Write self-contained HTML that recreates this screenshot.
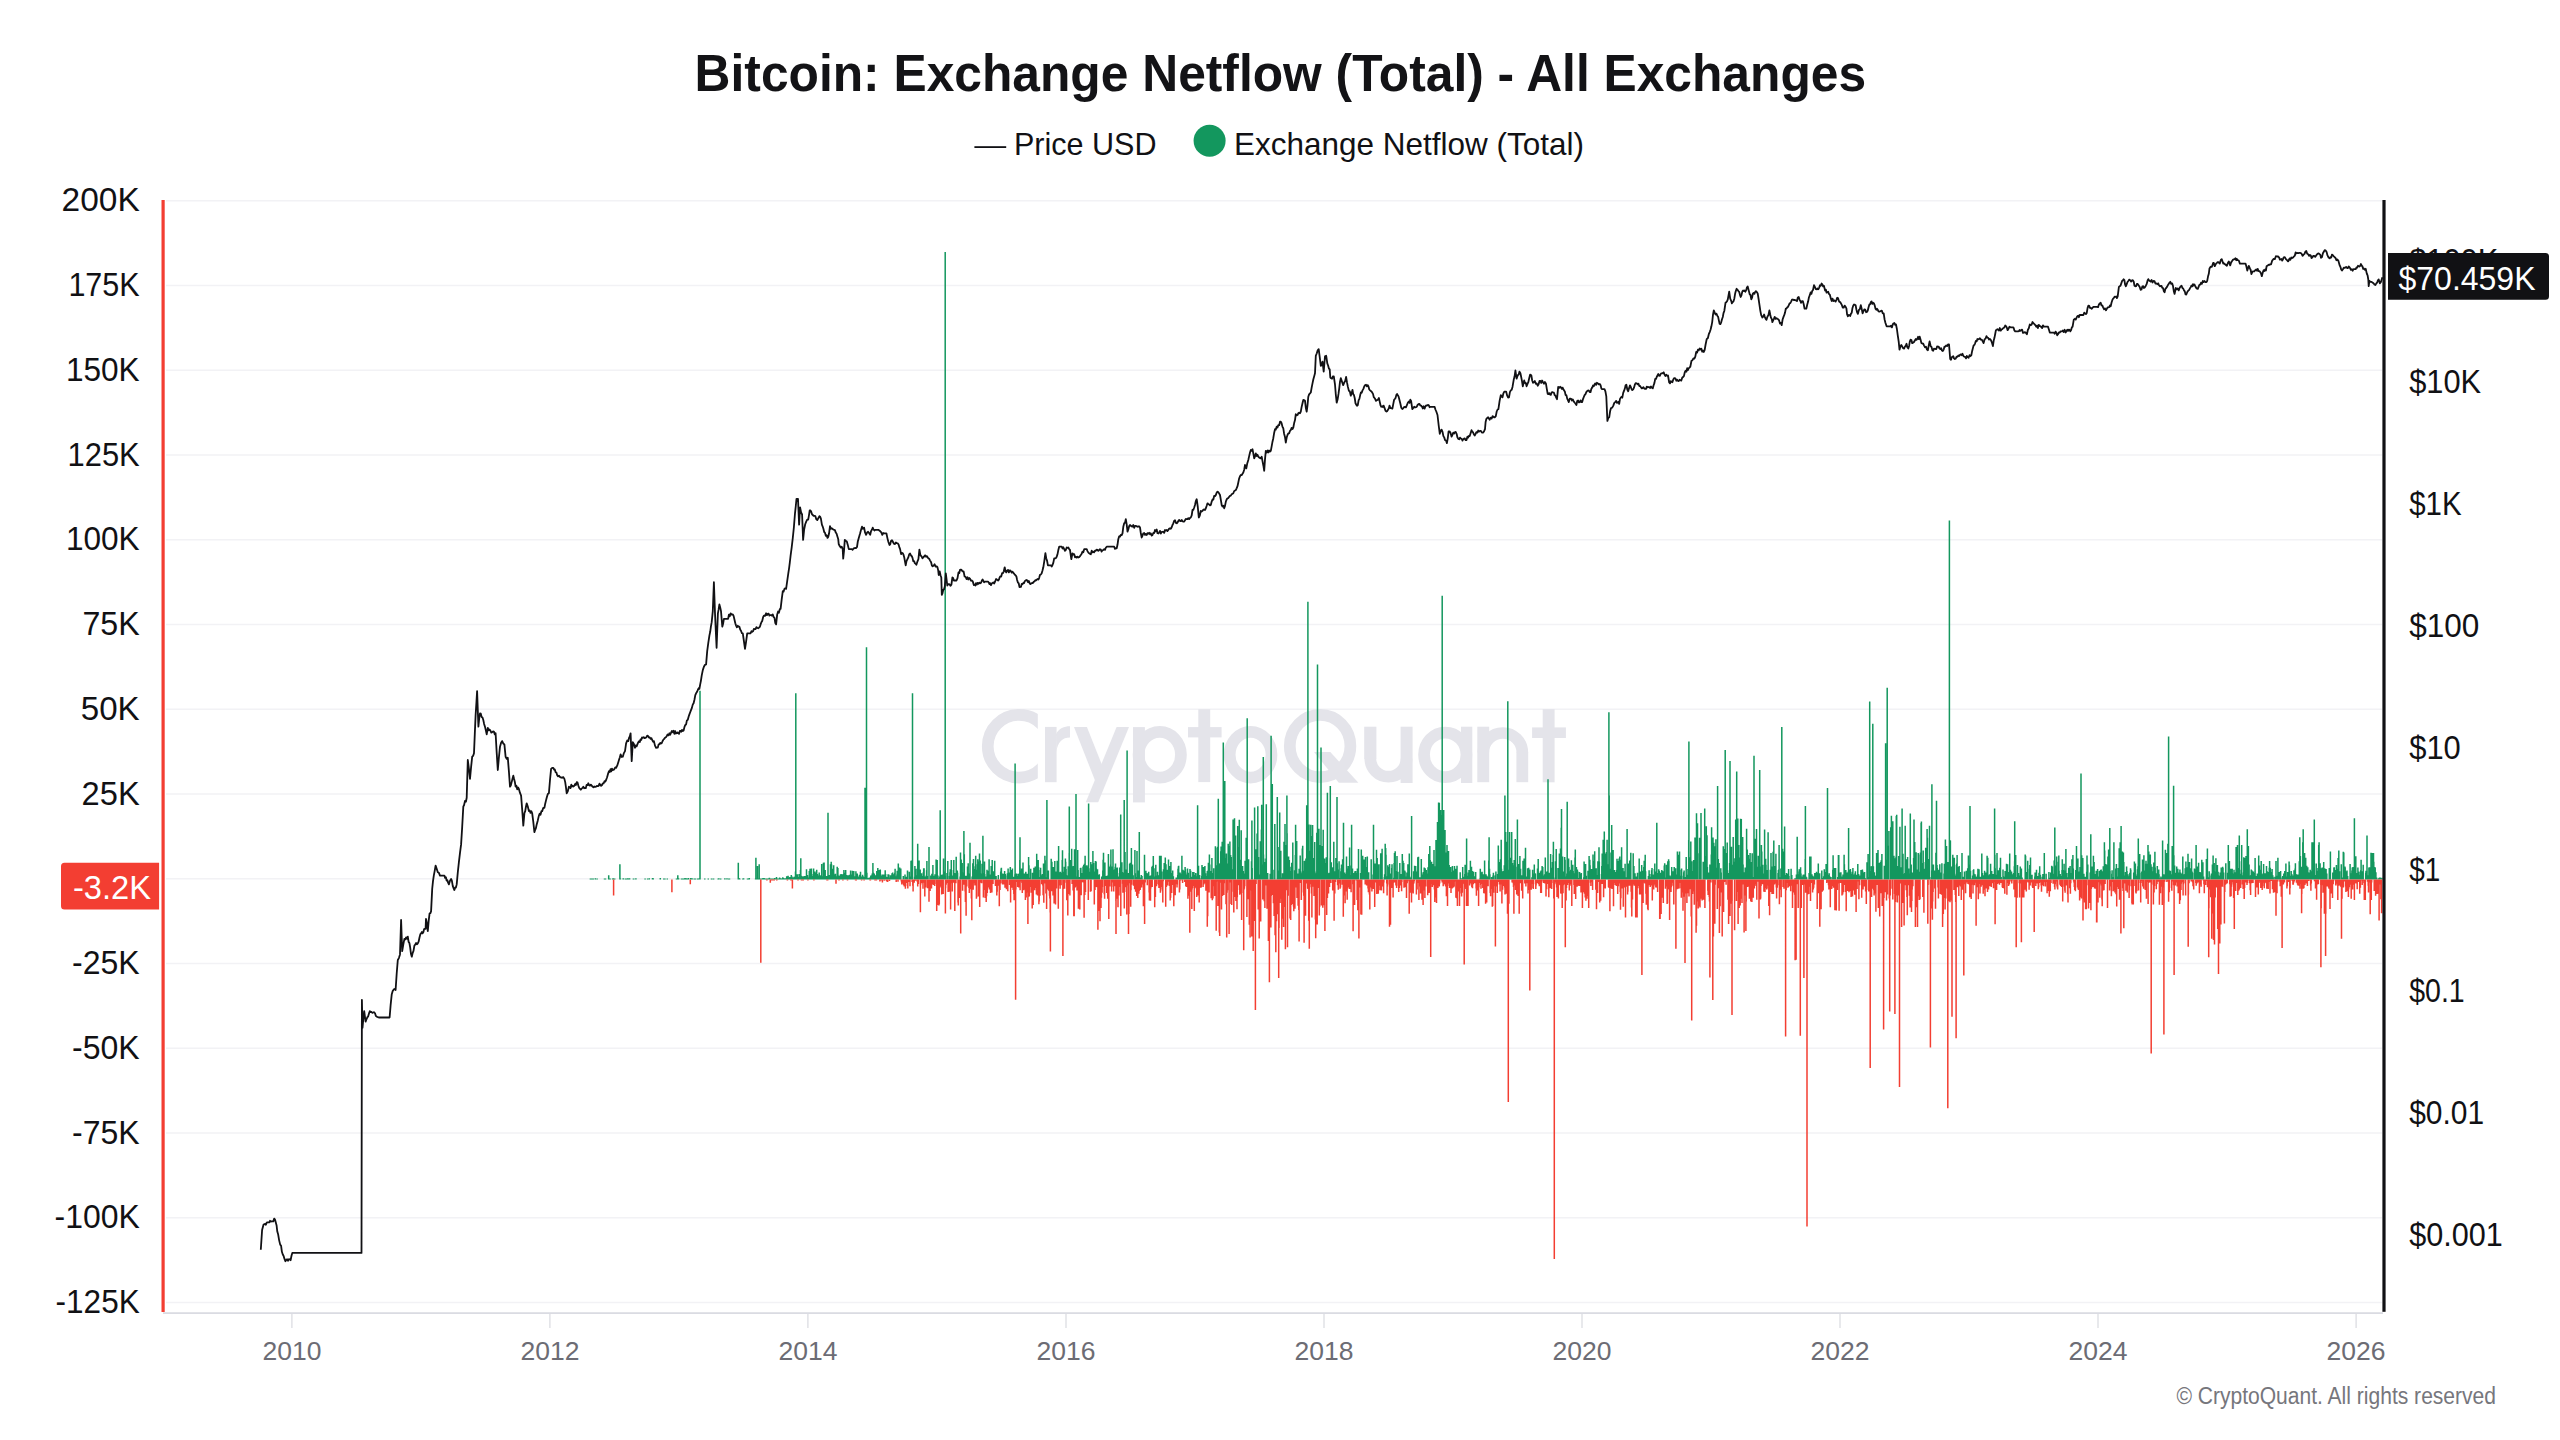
<!DOCTYPE html><html><head><meta charset="utf-8"><title>Bitcoin: Exchange Netflow (Total) - All Exchanges</title>
<style>html,body{margin:0;padding:0;background:#fff}body{width:2560px;height:1440px;overflow:hidden;position:relative;font-family:"Liberation Sans",sans-serif}svg{position:absolute;left:0;top:0;display:block}</style></head><body>
<svg width="2560" height="1440" viewBox="0 0 2560 1440" font-family="Liberation Sans, sans-serif">
<rect width="2560" height="1440" fill="#ffffff"/>
<g stroke="#f2f2f5" stroke-width="1.5">
<line x1="166" y1="200.7" x2="2382" y2="200.7"/>
<line x1="166" y1="285.5" x2="2382" y2="285.5"/>
<line x1="166" y1="370.2" x2="2382" y2="370.2"/>
<line x1="166" y1="455.0" x2="2382" y2="455.0"/>
<line x1="166" y1="539.7" x2="2382" y2="539.7"/>
<line x1="166" y1="624.5" x2="2382" y2="624.5"/>
<line x1="166" y1="709.3" x2="2382" y2="709.3"/>
<line x1="166" y1="794.0" x2="2382" y2="794.0"/>
<line x1="166" y1="878.8" x2="2382" y2="878.8"/>
<line x1="166" y1="963.5" x2="2382" y2="963.5"/>
<line x1="166" y1="1048.3" x2="2382" y2="1048.3"/>
<line x1="166" y1="1133.1" x2="2382" y2="1133.1"/>
<line x1="166" y1="1217.8" x2="2382" y2="1217.8"/>
<line x1="166" y1="1302.6" x2="2382" y2="1302.6"/>
</g>
<defs><clipPath id="cclip"><rect x="960" y="690" width="77.8" height="120"/></clipPath><clipPath id="qclip"><rect x="1300" y="700" width="80" height="83.3"/></clipPath></defs>
<g fill="none" stroke="#e4e4ea" stroke-width="11.7">
<circle cx="1019.1" cy="746.2" r="31.35" clip-path="url(#cclip)"/>
<ellipse cx="1159.75" cy="754.8" rx="21.2" ry="22.9"/>
<ellipse cx="1250.6" cy="754.7" rx="20.9" ry="22.9"/>
<ellipse cx="1320.1" cy="746" rx="30.3" ry="31.1"/>
<ellipse cx="1445.25" cy="754.85" rx="21.2" ry="22.3"/>
<path d="M1370.3 758.5A18.15 18.15 0 0 0 1406.6 758.5"/>
<path d="M1483.25 752.5A19.5 19.5 0 0 1 1522.3 752.5"/>
</g>
<g fill="#e4e4ea">
<rect x="1045" y="726.9" width="11.6" height="55.3"/>
<path d="M1056 734C1059 728.5 1064 726.3 1070 726.3L1070 737.6C1062.5 737.6 1057.6 742 1056.4 752Z"/>
<path d="M1074 726.9H1086.9L1103.8 769.5L1095.8 782.5Z"/>
<path d="M1116.6 726.9H1129L1098.2 802.2H1085.8Z"/>
<rect x="1133" y="727.1" width="11.9" height="75.3"/>
<rect x="1198.3" y="709.2" width="11.9" height="72.9"/>
<rect x="1188" y="727.1" width="33.6" height="10.3"/>
<path d="M1314.1 752H1330.3L1358.4 782.8H1338.8Z"/>
<rect x="1364.2" y="726.7" width="12.2" height="32.3"/>
<rect x="1400.6" y="726.7" width="12" height="56.3"/>
<rect x="1461" y="726.7" width="11.3" height="56.3"/>
<rect x="1477.3" y="726.7" width="11.9" height="55.5"/>
<rect x="1516.4" y="752" width="11.8" height="30.2"/>
<rect x="1542.7" y="709.1" width="11.9" height="73.2"/>
<rect x="1532.1" y="727.4" width="33.8" height="10.6"/>
</g>
<path d="M590.4 879.5v-1.0M590.7 879.5v-1.0M591.4 879.5v-1.0M591.8 879.5v-1.0M593.2 879.5v-1.0M595.3 879.5v-1.3M597.1 879.5v-1.0M604.5 879.5v-1.0M605.2 879.5v-1.0M605.5 879.5v-1.0M608.7 879.5v-4.2M610.1 879.5v-1.1M612.6 879.5v-1.0M613.3 879.5v-1.2M613.7 879.5v-1.0M614.7 879.5v-1.0M619.9 879.5v-15.2M620.4 879.5v-1.0M623.2 879.5v-1.3M625.3 879.5v-1.0M626.4 879.5v-1.0M627.8 879.5v-1.3M628.5 879.5v-1.0M629.6 879.5v-1.3M633.4 879.5v-1.0M633.8 879.5v-1.0M635.9 879.5v-1.2M645.1 879.5v-1.0M647.6 879.5v-1.0M649.3 879.5v-1.2M652.5 879.5v-1.4M653.2 879.5v-1.2M660.3 879.5v-1.4M663.8 879.5v-1.0M664.9 879.5v-1.0M667.3 879.5v-1.0M676.5 879.5v-1.0M676.9 879.5v-1.0M677.8 879.5v-4.2M677.9 879.5v-1.1M678.6 879.5v-1.3M681.5 879.5v-1.0M682.5 879.5v-1.0M683.2 879.5v-1.0M683.9 879.5v-1.0M685.0 879.5v-1.5M686.1 879.5v-1.0M686.4 879.5v-1.2M687.1 879.5v-1.0M688.5 879.5v-1.4M690.7 879.5v-1.4M691.7 879.5v-1.3M692.1 879.5v-1.3M694.2 879.5v-1.0M695.2 879.5v-1.0M697.4 879.5v-1.0M697.7 879.5v-1.0M698.1 879.5v-1.1M698.8 879.5v-1.0M699.5 879.5v-1.2M700.0 879.5v-188.8M704.8 879.5v-1.1M708.3 879.5v-1.0M711.5 879.5v-1.0M713.3 879.5v-1.0M713.6 879.5v-1.0M718.2 879.5v-1.1M718.9 879.5v-1.3M720.7 879.5v-1.0M724.9 879.5v-1.3M727.0 879.5v-1.2M728.8 879.5v-1.1M729.5 879.5v-1.0M738.3 879.5v-16.8M738.7 879.5v-1.3M739.0 879.5v-1.5M739.7 879.5v-1.0M742.9 879.5v-1.0M743.6 879.5v-1.2M747.5 879.5v-1.0M748.6 879.5v-1.1M749.3 879.5v-1.4M755.6 879.5v-1.0M755.9 879.5v-21.8M757.0 879.5v-1.0M757.4 879.5v-1.0M757.5 879.5v-13.5M757.8 879.5v-1.0M758.1 879.5v-1.0M758.8 879.5v-1.0M759.2 879.5v-15.2M760.2 879.5v-1.0M761.3 879.5v-1.0M762.3 879.5v-1.1M762.7 879.5v-1.0M763.0 879.5v-1.6M764.1 879.5v-1.4M764.5 879.5v-1.0M764.8 879.5v-1.0M765.9 879.5v-1.0M766.6 879.5v-1.0M767.3 879.5v-1.0M768.0 879.5v-1.0M769.1 879.5v-1.3M769.4 879.5v-1.7M770.1 879.5v-1.0M770.5 879.5v-1.0M771.9 879.5v-1.0M772.2 879.5v-1.0M773.3 879.5v-1.0M774.7 879.5v-1.6M775.4 879.5v-1.0M776.1 879.5v-1.0M776.5 879.5v-2.6M777.2 879.5v-1.0M777.5 879.5v-1.0M777.9 879.5v-1.0M778.2 879.5v-1.0M778.9 879.5v-1.0M779.3 879.5v-1.0M779.6 879.5v-2.0M780.7 879.5v-1.2M781.1 879.5v-1.0M782.1 879.5v-1.0M782.8 879.5v-2.3M783.5 879.5v-1.4M783.9 879.5v-1.0M784.2 879.5v-1.0M784.6 879.5v-1.0M784.9 879.5v-1.0M785.3 879.5v-1.2M785.7 879.5v-1.0M786.0 879.5v-1.0M786.4 879.5v-1.1M786.7 879.5v-3.2M787.1 879.5v-1.0M787.8 879.5v-2.1M788.1 879.5v-3.8M788.8 879.5v-1.9M789.5 879.5v-1.6M789.9 879.5v-2.4M790.2 879.5v-1.6M791.3 879.5v-4.6M792.0 879.5v-3.1M792.4 879.5v-1.1M792.7 879.5v-2.0M793.1 879.5v-1.0M793.8 879.5v-1.0M794.1 879.5v-2.7M794.5 879.5v-2.6M794.8 879.5v-1.9M795.2 879.5v-3.0M795.5 879.5v-7.9M795.8 879.5v-186.2M795.9 879.5v-1.0M796.2 879.5v-1.0M796.6 879.5v-2.0M797.0 879.5v-2.9M797.3 879.5v-5.3M797.7 879.5v-2.5M799.1 879.5v-5.5M800.1 879.5v-2.1M800.5 879.5v-9.6M800.8 879.5v-21.3M800.8 879.5v-4.2M801.2 879.5v-3.7M802.2 879.5v-3.3M802.6 879.5v-2.5M803.0 879.5v-1.1M803.7 879.5v-1.0M804.0 879.5v-3.4M804.4 879.5v-1.0M804.7 879.5v-1.0M805.1 879.5v-2.2M805.4 879.5v-3.4M805.8 879.5v-2.8M806.5 879.5v-10.3M806.8 879.5v-2.4M807.2 879.5v-4.6M807.5 879.5v-4.2M808.6 879.5v-2.0M809.0 879.5v-1.0M809.3 879.5v-8.5M809.7 879.5v-2.1M810.0 879.5v-10.7M810.4 879.5v-5.6M810.7 879.5v-1.5M811.1 879.5v-1.2M811.4 879.5v-10.9M811.8 879.5v-3.5M812.1 879.5v-3.3M812.5 879.5v-2.0M812.8 879.5v-1.0M813.2 879.5v-5.6M813.6 879.5v-10.9M814.3 879.5v-6.5M814.6 879.5v-1.1M815.0 879.5v-7.9M815.3 879.5v-6.6M815.7 879.5v-4.6M816.0 879.5v-1.2M816.7 879.5v-9.7M817.1 879.5v-2.5M817.4 879.5v-5.5M817.8 879.5v-3.2M818.1 879.5v-1.3M818.5 879.5v-3.9M818.8 879.5v-1.3M819.2 879.5v-6.9M819.6 879.5v-4.2M820.6 879.5v-4.1M821.3 879.5v-4.3M821.7 879.5v-15.4M822.0 879.5v-3.2M822.4 879.5v-2.6M823.4 879.5v-16.7M823.8 879.5v-3.5M824.1 879.5v-17.1M824.5 879.5v-2.2M824.9 879.5v-5.4M825.2 879.5v-9.5M825.6 879.5v-1.9M826.3 879.5v-2.8M826.6 879.5v-3.5M828.0 879.5v-66.7M828.0 879.5v-1.4M828.4 879.5v-2.3M828.7 879.5v-2.3M829.1 879.5v-4.5M829.4 879.5v-1.3M829.8 879.5v-3.5M830.1 879.5v-3.8M830.5 879.5v-15.3M830.9 879.5v-6.2M831.2 879.5v-17.8M831.2 879.5v-5.2M831.6 879.5v-15.0M831.9 879.5v-2.3M832.3 879.5v-5.6M832.6 879.5v-10.8M833.0 879.5v-2.4M833.3 879.5v-4.4M833.7 879.5v-14.2M834.0 879.5v-5.0M834.4 879.5v-4.1M835.4 879.5v-5.8M836.2 879.5v-3.3M836.5 879.5v-2.6M836.9 879.5v-2.4M837.2 879.5v-12.8M837.6 879.5v-7.1M837.9 879.5v-11.4M838.3 879.5v-3.9M839.3 879.5v-3.7M840.0 879.5v-2.7M840.4 879.5v-5.1M840.7 879.5v-1.9M841.1 879.5v-5.6M841.4 879.5v-3.8M841.8 879.5v-2.2M842.2 879.5v-1.0M842.5 879.5v-5.0M843.2 879.5v-5.4M843.6 879.5v-3.5M843.9 879.5v-9.5M844.3 879.5v-1.9M844.6 879.5v-1.0M845.0 879.5v-2.7M845.3 879.5v-6.7M845.7 879.5v-9.6M846.4 879.5v-4.5M846.7 879.5v-4.3M848.2 879.5v-4.2M848.5 879.5v-2.1M849.2 879.5v-2.6M849.6 879.5v-4.7M849.9 879.5v-1.3M850.3 879.5v-2.7M850.6 879.5v-8.9M851.0 879.5v-3.8M851.3 879.5v-4.9M851.7 879.5v-1.0M852.0 879.5v-3.7M852.4 879.5v-8.7M852.8 879.5v-2.8M853.1 879.5v-2.1M853.5 879.5v-1.0M853.8 879.5v-8.6M854.2 879.5v-1.0M854.5 879.5v-2.3M854.9 879.5v-3.1M855.2 879.5v-3.2M855.9 879.5v-8.3M856.6 879.5v-4.0M857.3 879.5v-6.1M857.7 879.5v-1.5M858.0 879.5v-3.0M858.4 879.5v-1.3M858.8 879.5v-1.9M859.1 879.5v-2.6M859.5 879.5v-4.4M859.8 879.5v-2.7M860.2 879.5v-5.2M860.5 879.5v-7.8M861.2 879.5v-2.5M862.3 879.5v-3.6M862.6 879.5v-4.8M863.0 879.5v-3.5M863.3 879.5v-1.0M863.7 879.5v-2.2M864.4 879.5v-2.5M864.8 879.5v-1.4M865.0 879.5v-91.7M865.1 879.5v-3.7M865.5 879.5v-1.8M865.8 879.5v-2.0M866.2 879.5v-3.9M866.5 879.5v-232.3M866.5 879.5v-1.6M866.9 879.5v-6.7M867.2 879.5v-1.0M867.6 879.5v-1.6M867.9 879.5v-1.0M869.0 879.5v-1.2M869.3 879.5v-2.1M869.7 879.5v-1.6M870.8 879.5v-4.1M871.1 879.5v-1.9M871.5 879.5v-1.6M871.8 879.5v-4.2M872.2 879.5v-6.1M872.9 879.5v-4.1M872.9 879.5v-16.5M873.2 879.5v-6.9M873.6 879.5v-1.6M873.9 879.5v-5.8M874.3 879.5v-6.1M874.6 879.5v-1.6M875.4 879.5v-4.2M875.7 879.5v-2.1M876.1 879.5v-1.5M876.8 879.5v-8.5M877.1 879.5v-1.2M877.5 879.5v-3.7M877.8 879.5v-11.6M878.2 879.5v-4.5M878.5 879.5v-1.2M878.9 879.5v-9.4M879.2 879.5v-2.1M879.6 879.5v-6.5M880.3 879.5v-10.1M881.4 879.5v-3.7M881.7 879.5v-1.5M882.1 879.5v-5.1M882.8 879.5v-3.9M883.1 879.5v-2.2M883.5 879.5v-5.0M883.8 879.5v-5.0M884.5 879.5v-3.6M884.9 879.5v-1.6M885.2 879.5v-9.3M885.6 879.5v-5.6M885.9 879.5v-2.9M887.0 879.5v-2.6M888.1 879.5v-5.2M888.4 879.5v-1.4M888.8 879.5v-5.1M889.1 879.5v-2.0M889.8 879.5v-1.0M890.2 879.5v-1.9M890.5 879.5v-4.2M890.9 879.5v-4.3M891.2 879.5v-2.0M891.6 879.5v-2.8M892.0 879.5v-6.2M892.3 879.5v-5.5M892.7 879.5v-7.1M893.0 879.5v-5.6M893.4 879.5v-2.7M893.7 879.5v-2.9M894.1 879.5v-1.0M894.4 879.5v-5.0M894.8 879.5v-6.7M895.1 879.5v-10.8M895.5 879.5v-3.3M895.8 879.5v-2.2M896.5 879.5v-2.4M896.9 879.5v-4.9M897.2 879.5v-8.8M897.6 879.5v-5.7M898.3 879.5v-15.9M898.7 879.5v-4.0M899.0 879.5v-2.9M899.4 879.5v-3.6M899.7 879.5v-12.1M900.1 879.5v-2.5M900.4 879.5v-6.0M900.8 879.5v-11.0M903.3 879.5v-3.6M905.0 879.5v-5.1M906.1 879.5v-2.8M907.5 879.5v-9.0M909.3 879.5v-7.8M909.6 879.5v-2.0M910.3 879.5v-2.3M910.7 879.5v-2.9M911.0 879.5v-18.8M911.4 879.5v-4.8M911.7 879.5v-18.9M912.4 879.5v-11.0M912.5 879.5v-186.2M914.6 879.5v-2.7M914.9 879.5v-13.5M915.6 879.5v-4.7M916.0 879.5v-10.8M916.3 879.5v-3.0M916.7 879.5v-4.2M917.7 879.5v-35.8M918.1 879.5v-8.8M918.8 879.5v-1.0M919.1 879.5v-19.0M919.5 879.5v-2.2M919.9 879.5v-5.6M920.2 879.5v-9.9M920.9 879.5v-2.7M921.6 879.5v-6.2M922.3 879.5v-3.5M923.4 879.5v-7.6M923.7 879.5v-11.2M924.1 879.5v-11.3M925.1 879.5v-3.0M925.5 879.5v-2.2M926.2 879.5v-4.1M926.6 879.5v-9.2M926.9 879.5v-18.6M927.3 879.5v-3.6M929.0 879.5v-32.6M930.8 879.5v-3.9M931.2 879.5v-4.0M931.9 879.5v-5.7M932.9 879.5v-14.4M934.3 879.5v-3.8M935.0 879.5v-5.2M935.4 879.5v-2.0M935.7 879.5v-2.2M936.1 879.5v-19.9M936.8 879.5v-11.0M937.2 879.5v-19.4M937.9 879.5v-3.9M938.6 879.5v-1.3M939.6 879.5v-3.0M940.2 879.5v-69.3M941.4 879.5v-4.6M942.1 879.5v-4.9M942.5 879.5v-3.7M942.8 879.5v-1.0M943.5 879.5v-20.9M943.9 879.5v-8.0M944.2 879.5v-1.6M944.6 879.5v-3.9M944.9 879.5v-6.6M945.2 879.5v-627.5M945.3 879.5v-3.2M947.0 879.5v-6.4M947.4 879.5v-5.3M947.8 879.5v-18.6M949.5 879.5v-3.5M949.9 879.5v-7.3M950.2 879.5v-10.2M951.3 879.5v-19.4M952.7 879.5v-4.0M953.4 879.5v-9.6M953.8 879.5v-19.4M954.5 879.5v-6.5M955.2 879.5v-6.2M956.2 879.5v-22.7M956.6 879.5v-3.2M956.9 879.5v-7.7M957.3 879.5v-9.1M957.6 879.5v-6.7M960.1 879.5v-3.0M960.5 879.5v-26.9M960.8 879.5v-4.9M961.2 879.5v-20.0M961.5 879.5v-9.1M961.9 879.5v-3.5M962.2 879.5v-16.5M962.9 879.5v-3.5M963.3 879.5v-6.9M963.6 879.5v-4.6M963.9 879.5v-48.5M964.3 879.5v-25.2M965.8 879.5v-3.7M966.5 879.5v-3.7M967.2 879.5v-3.5M967.5 879.5v-13.0M967.9 879.5v-12.1M968.2 879.5v-16.2M968.6 879.5v-6.0M970.0 879.5v-36.8M972.1 879.5v-3.0M972.8 879.5v-16.2M973.5 879.5v-20.5M973.9 879.5v-13.3M974.6 879.5v-10.6M975.3 879.5v-7.9M975.7 879.5v-23.7M976.0 879.5v-9.7M977.1 879.5v-6.9M977.4 879.5v-15.2M977.8 879.5v-20.3M978.1 879.5v-18.0M979.2 879.5v-9.9M979.5 879.5v-25.9M979.9 879.5v-7.3M980.2 879.5v-19.1M980.9 879.5v-6.1M982.0 879.5v-15.7M982.4 879.5v-10.0M982.7 879.5v-4.5M982.9 879.5v-43.7M983.1 879.5v-6.5M984.5 879.5v-18.1M984.8 879.5v-5.4M985.9 879.5v-3.1M987.0 879.5v-9.8M987.7 879.5v-8.8M988.0 879.5v-7.3M989.1 879.5v-20.3M989.8 879.5v-5.0M990.8 879.5v-3.9M991.2 879.5v-13.5M991.5 879.5v-2.2M992.2 879.5v-19.6M992.6 879.5v-8.2M993.3 879.5v-4.6M993.7 879.5v-6.0M994.0 879.5v-8.2M994.4 879.5v-1.0M994.7 879.5v-18.8M995.1 879.5v-3.2M995.8 879.5v-2.8M996.1 879.5v-3.6M998.3 879.5v-4.6M1000.7 879.5v-8.0M1001.1 879.5v-10.9M1001.4 879.5v-11.7M1001.8 879.5v-3.8M1002.8 879.5v-5.9M1003.2 879.5v-2.1M1003.9 879.5v-5.5M1004.3 879.5v-4.9M1004.6 879.5v-8.6M1005.3 879.5v-5.6M1007.1 879.5v-4.1M1007.4 879.5v-6.2M1008.1 879.5v-11.1M1008.5 879.5v-3.4M1008.8 879.5v-3.8M1009.2 879.5v-7.1M1010.3 879.5v-12.5M1011.0 879.5v-3.5M1011.3 879.5v-5.9M1011.7 879.5v-9.5M1012.4 879.5v-11.0M1013.4 879.5v-2.8M1014.9 879.5v-5.2M1015.1 879.5v-116.0M1016.3 879.5v-5.9M1017.0 879.5v-3.5M1017.3 879.5v-1.3M1018.0 879.5v-5.8M1018.4 879.5v-5.6M1019.1 879.5v-5.0M1019.4 879.5v-6.1M1019.8 879.5v-19.5M1020.0 879.5v-42.2M1020.5 879.5v-9.0M1020.9 879.5v-2.1M1021.6 879.5v-11.0M1023.0 879.5v-17.1M1023.3 879.5v-2.9M1024.0 879.5v-3.3M1024.4 879.5v-5.9M1025.8 879.5v-7.8M1026.5 879.5v-1.0M1026.9 879.5v-2.9M1027.2 879.5v-5.7M1028.6 879.5v-22.5M1029.0 879.5v-14.2M1030.0 879.5v-1.8M1030.7 879.5v-10.8M1032.5 879.5v-6.7M1033.9 879.5v-11.8M1035.3 879.5v-13.1M1035.7 879.5v-7.9M1036.7 879.5v-25.8M1037.1 879.5v-5.6M1038.2 879.5v-19.5M1038.5 879.5v-12.6M1039.6 879.5v-2.6M1040.3 879.5v-9.4M1040.6 879.5v-11.7M1041.0 879.5v-3.3M1041.3 879.5v-4.3M1042.0 879.5v-3.9M1042.4 879.5v-5.4M1043.5 879.5v-16.0M1044.2 879.5v-1.0M1044.9 879.5v-23.7M1045.2 879.5v-19.3M1045.6 879.5v-2.3M1046.9 879.5v-79.5M1047.0 879.5v-6.1M1048.4 879.5v-9.1M1051.2 879.5v-20.7M1051.6 879.5v-5.6M1051.9 879.5v-17.8M1052.6 879.5v-3.2M1053.3 879.5v-12.5M1053.7 879.5v-10.8M1054.4 879.5v-9.8M1054.8 879.5v-18.5M1056.2 879.5v-7.9M1056.9 879.5v-8.0M1057.2 879.5v-18.8M1057.6 879.5v-2.4M1057.9 879.5v-4.6M1058.6 879.5v-33.5M1059.3 879.5v-7.2M1059.7 879.5v-1.3M1060.4 879.5v-7.8M1060.8 879.5v-2.7M1061.5 879.5v-6.8M1061.8 879.5v-3.6M1062.2 879.5v-19.4M1062.5 879.5v-29.2M1062.9 879.5v-4.9M1063.6 879.5v-7.7M1064.3 879.5v-12.7M1065.4 879.5v-20.9M1065.7 879.5v-17.7M1066.1 879.5v-10.5M1066.4 879.5v-4.5M1067.1 879.5v-4.0M1068.2 879.5v-13.3M1069.2 879.5v-26.4M1069.3 879.5v-73.1M1070.3 879.5v-9.7M1070.7 879.5v-19.4M1071.0 879.5v-11.4M1071.4 879.5v-9.7M1071.7 879.5v-30.8M1072.4 879.5v-13.3M1073.5 879.5v-13.4M1074.5 879.5v-30.2M1074.9 879.5v-16.2M1075.6 879.5v-5.6M1075.9 879.5v-3.1M1076.0 879.5v-85.4M1076.7 879.5v-3.0M1077.7 879.5v-29.6M1078.1 879.5v-9.5M1079.1 879.5v-2.6M1080.5 879.5v-11.5M1080.9 879.5v-11.8M1081.6 879.5v-6.6M1082.0 879.5v-6.1M1082.7 879.5v-3.7M1083.0 879.5v-13.0M1083.7 879.5v-14.5M1084.4 879.5v-15.7M1085.1 879.5v-23.7M1085.8 879.5v-4.1M1086.2 879.5v-13.7M1086.5 879.5v-8.4M1086.9 879.5v-14.3M1087.2 879.5v-13.0M1087.6 879.5v-4.3M1088.0 879.5v-11.7M1088.6 879.5v-76.0M1088.7 879.5v-7.4M1089.0 879.5v-11.2M1089.4 879.5v-7.8M1089.7 879.5v-7.4M1090.1 879.5v-5.7M1090.8 879.5v-17.5M1091.5 879.5v-15.3M1091.8 879.5v-6.6M1092.2 879.5v-7.4M1092.5 879.5v-11.5M1092.9 879.5v-28.5M1093.3 879.5v-8.3M1093.6 879.5v-16.5M1094.0 879.5v-8.1M1095.4 879.5v-18.4M1096.1 879.5v-18.1M1096.4 879.5v-11.0M1096.8 879.5v-7.5M1097.5 879.5v-10.3M1097.8 879.5v-4.4M1098.6 879.5v-4.6M1099.3 879.5v-5.2M1101.7 879.5v-2.9M1102.8 879.5v-9.1M1103.1 879.5v-19.8M1103.5 879.5v-26.8M1103.8 879.5v-7.4M1104.9 879.5v-16.9M1106.0 879.5v-3.6M1106.3 879.5v-2.1M1107.4 879.5v-4.0M1108.4 879.5v-25.4M1109.1 879.5v-12.9M1109.5 879.5v-5.1M1110.2 879.5v-6.8M1110.6 879.5v-14.9M1110.9 879.5v-29.9M1111.3 879.5v-8.4M1112.0 879.5v-13.1M1113.0 879.5v-30.2M1114.1 879.5v-9.8M1114.8 879.5v-10.2M1115.1 879.5v-12.8M1115.5 879.5v-16.1M1116.2 879.5v-11.8M1116.6 879.5v-1.7M1117.3 879.5v-12.0M1118.3 879.5v-3.0M1119.4 879.5v-6.5M1119.7 879.5v-11.9M1120.1 879.5v-7.9M1120.7 879.5v-64.9M1121.2 879.5v-7.5M1121.5 879.5v-7.9M1121.9 879.5v-17.2M1122.2 879.5v-7.6M1123.3 879.5v-1.3M1123.6 879.5v-7.0M1124.0 879.5v-2.5M1124.2 879.5v-79.5M1125.0 879.5v-27.5M1125.4 879.5v-6.7M1125.7 879.5v-6.7M1126.5 879.5v-10.1M1127.1 879.5v-129.1M1127.9 879.5v-6.6M1128.2 879.5v-6.5M1129.6 879.5v-15.7M1130.3 879.5v-16.7M1131.4 879.5v-31.5M1132.1 879.5v-3.9M1132.5 879.5v-14.9M1132.8 879.5v-4.1M1133.2 879.5v-4.3M1134.9 879.5v-29.6M1135.3 879.5v-6.2M1136.3 879.5v-2.5M1137.0 879.5v-28.5M1137.4 879.5v-6.9M1138.1 879.5v-3.3M1138.5 879.5v-9.0M1139.3 879.5v-47.5M1139.9 879.5v-2.1M1141.3 879.5v-4.4M1142.0 879.5v-3.4M1144.5 879.5v-24.7M1144.8 879.5v-6.0M1145.5 879.5v-4.3M1145.9 879.5v-8.8M1146.2 879.5v-4.6M1146.6 879.5v-4.2M1146.9 879.5v-6.6M1147.6 879.5v-2.5M1148.0 879.5v-5.7M1148.3 879.5v-3.6M1148.7 879.5v-7.7M1149.8 879.5v-3.7M1151.2 879.5v-4.3M1151.5 879.5v-1.2M1151.9 879.5v-12.8M1152.6 879.5v-13.8M1152.9 879.5v-5.1M1153.3 879.5v-23.5M1153.6 879.5v-1.9M1154.0 879.5v-11.2M1154.3 879.5v-3.0M1155.8 879.5v-14.8M1156.1 879.5v-3.9M1156.8 879.5v-4.0M1157.2 879.5v-3.1M1157.5 879.5v-7.7M1157.9 879.5v-4.6M1159.3 879.5v-4.0M1159.6 879.5v-23.7M1161.1 879.5v-23.7M1161.8 879.5v-8.0M1163.5 879.5v-10.2M1163.9 879.5v-5.0M1164.2 879.5v-16.4M1164.6 879.5v-6.5M1164.9 879.5v-8.9M1165.3 879.5v-21.9M1166.0 879.5v-15.3M1167.1 879.5v-9.7M1168.1 879.5v-2.0M1168.5 879.5v-20.0M1168.8 879.5v-3.5M1169.9 879.5v-13.6M1170.9 879.5v-17.4M1171.3 879.5v-4.9M1172.0 879.5v-3.9M1172.4 879.5v-6.4M1172.7 879.5v-8.9M1173.4 879.5v-3.2M1176.2 879.5v-2.0M1177.7 879.5v-4.5M1178.0 879.5v-10.7M1178.4 879.5v-13.2M1178.7 879.5v-13.8M1179.1 879.5v-3.8M1180.1 879.5v-7.1M1180.5 879.5v-5.8M1181.2 879.5v-2.3M1181.5 879.5v-2.6M1181.9 879.5v-23.7M1182.2 879.5v-7.1M1183.0 879.5v-9.7M1183.3 879.5v-8.8M1183.7 879.5v-3.4M1184.0 879.5v-6.1M1184.4 879.5v-8.7M1185.1 879.5v-12.6M1185.4 879.5v-10.3M1186.1 879.5v-5.1M1187.2 879.5v-7.0M1187.5 879.5v-11.0M1188.3 879.5v-6.8M1189.3 879.5v-1.6M1190.0 879.5v-10.5M1190.7 879.5v-8.8M1191.4 879.5v-2.7M1192.8 879.5v-7.4M1193.2 879.5v-3.9M1193.9 879.5v-7.6M1195.0 879.5v-4.5M1195.7 879.5v-6.5M1196.0 879.5v-3.3M1197.4 879.5v-6.0M1197.6 879.5v-74.3M1198.5 879.5v-13.8M1198.8 879.5v-4.0M1199.6 879.5v-4.4M1199.9 879.5v-1.6M1201.7 879.5v-3.6M1202.0 879.5v-14.4M1202.4 879.5v-9.3M1202.7 879.5v-3.1M1203.4 879.5v-12.4M1204.1 879.5v-6.3M1204.9 879.5v-13.5M1205.6 879.5v-6.3M1207.0 879.5v-3.4M1207.3 879.5v-8.6M1208.0 879.5v-9.0M1208.4 879.5v-16.7M1209.4 879.5v-25.1M1209.8 879.5v-15.0M1210.1 879.5v-2.1M1210.5 879.5v-1.0M1210.9 879.5v-8.4M1211.6 879.5v-1.8M1211.9 879.5v-21.4M1212.6 879.5v-6.4M1213.7 879.5v-11.2M1215.4 879.5v-33.3M1216.5 879.5v-14.2M1217.2 879.5v-31.7M1217.6 879.5v-32.7M1218.3 879.5v-80.7M1218.6 879.5v-15.7M1219.0 879.5v-8.8M1220.0 879.5v-16.3M1220.7 879.5v-28.2M1221.1 879.5v-33.0M1222.2 879.5v-37.8M1223.2 879.5v-36.5M1223.3 879.5v-137.0M1223.6 879.5v-15.1M1224.6 879.5v-23.7M1224.8 879.5v-98.5M1225.0 879.5v-21.3M1225.3 879.5v-17.2M1225.7 879.5v-2.0M1226.4 879.5v-26.1M1227.8 879.5v-15.9M1228.2 879.5v-35.8M1228.5 879.5v-5.6M1228.9 879.5v-14.8M1229.2 879.5v-16.5M1229.6 879.5v-33.6M1229.9 879.5v-38.0M1230.6 879.5v-24.5M1231.3 879.5v-22.6M1232.4 879.5v-5.5M1232.8 879.5v-10.2M1233.1 879.5v-59.9M1233.5 879.5v-13.2M1234.5 879.5v-61.3M1234.9 879.5v-12.1M1235.6 879.5v-43.9M1237.7 879.5v-53.6M1238.0 879.5v-32.5M1238.8 879.5v-22.7M1239.1 879.5v-25.9M1239.3 879.5v-59.7M1240.2 879.5v-19.0M1240.5 879.5v-19.8M1241.2 879.5v-49.2M1242.3 879.5v-11.0M1242.6 879.5v-13.6M1243.0 879.5v-7.1M1243.3 879.5v-8.5M1243.7 879.5v-6.1M1245.1 879.5v-18.8M1245.5 879.5v-12.9M1245.8 879.5v-8.2M1246.2 879.5v-41.7M1246.5 879.5v-14.3M1247.2 879.5v-161.2M1247.6 879.5v-17.5M1248.6 879.5v-20.3M1251.5 879.5v-18.3M1251.9 879.5v-59.1M1252.2 879.5v-11.5M1254.6 879.5v-72.1M1255.0 879.5v-6.9M1255.4 879.5v-16.0M1255.7 879.5v-30.3M1256.4 879.5v-12.2M1256.8 879.5v-18.0M1257.1 879.5v-46.0M1257.5 879.5v-26.1M1257.8 879.5v-73.3M1258.5 879.5v-22.5M1258.9 879.5v-4.9M1260.3 879.5v-38.2M1261.0 879.5v-35.7M1261.4 879.5v-50.1M1261.7 879.5v-74.7M1262.1 879.5v-7.9M1262.4 879.5v-14.9M1263.1 879.5v-1.5M1263.3 879.5v-122.4M1263.5 879.5v-25.1M1263.8 879.5v-21.1M1265.2 879.5v-17.4M1265.9 879.5v-21.1M1266.3 879.5v-75.2M1267.7 879.5v-6.5M1270.2 879.5v-5.8M1271.1 879.5v-143.7M1272.3 879.5v-95.5M1273.0 879.5v-9.8M1274.8 879.5v-55.4M1277.3 879.5v-82.5M1277.6 879.5v-5.2M1278.0 879.5v-32.4M1278.3 879.5v-3.4M1278.7 879.5v-9.0M1279.4 879.5v-7.2M1279.7 879.5v-67.0M1280.4 879.5v-15.1M1280.8 879.5v-28.7M1281.1 879.5v-2.1M1282.5 879.5v-6.2M1284.0 879.5v-37.7M1285.0 879.5v-55.6M1285.7 879.5v-6.6M1286.1 879.5v-34.4M1286.4 879.5v-25.3M1286.9 879.5v-83.9M1287.1 879.5v-46.2M1287.8 879.5v-5.2M1288.6 879.5v-23.0M1288.9 879.5v-10.6M1289.3 879.5v-19.4M1289.6 879.5v-8.5M1291.0 879.5v-12.8M1291.7 879.5v-16.7M1292.4 879.5v-10.7M1292.8 879.5v-37.1M1294.6 879.5v-9.2M1295.3 879.5v-24.4M1295.6 879.5v-54.7M1296.3 879.5v-27.8M1296.7 879.5v-38.5M1297.7 879.5v-6.0M1299.1 879.5v-10.8M1299.5 879.5v-7.4M1300.2 879.5v-24.0M1300.6 879.5v-7.9M1300.9 879.5v-4.9M1302.0 879.5v-6.2M1302.3 879.5v-31.0M1302.7 879.5v-33.8M1303.0 879.5v-6.9M1303.4 879.5v-8.8M1304.4 879.5v-18.6M1304.8 879.5v-18.7M1305.9 879.5v-20.9M1306.6 879.5v-11.1M1306.7 879.5v-74.3M1306.9 879.5v-16.5M1307.9 879.5v-277.8M1308.3 879.5v-30.6M1309.0 879.5v-54.9M1309.4 879.5v-24.0M1310.1 879.5v-28.8M1310.8 879.5v-54.7M1311.2 879.5v-43.4M1312.2 879.5v-23.5M1312.6 879.5v-54.4M1313.6 879.5v-21.5M1314.3 879.5v-16.8M1314.7 879.5v-37.4M1315.0 879.5v-7.9M1316.1 879.5v-5.7M1316.5 879.5v-6.3M1316.8 879.5v-46.8M1317.5 879.5v-215.1M1317.9 879.5v-18.3M1318.9 879.5v-50.7M1320.0 879.5v-34.5M1320.3 879.5v-12.6M1320.7 879.5v-17.0M1321.0 879.5v-132.0M1321.0 879.5v-12.6M1321.7 879.5v-17.8M1322.1 879.5v-33.6M1322.5 879.5v-11.1M1323.2 879.5v-49.7M1323.5 879.5v-11.5M1324.6 879.5v-21.1M1325.3 879.5v-16.6M1325.6 879.5v-6.8M1326.0 879.5v-15.3M1326.3 879.5v-22.2M1327.4 879.5v-86.8M1327.8 879.5v-3.9M1328.1 879.5v-6.3M1329.2 879.5v-6.8M1329.9 879.5v-6.7M1330.2 879.5v-21.6M1330.3 879.5v-93.5M1330.6 879.5v-6.3M1331.3 879.5v-17.3M1331.6 879.5v-6.0M1332.0 879.5v-11.9M1332.3 879.5v-5.5M1333.0 879.5v-12.2M1333.4 879.5v-7.3M1333.8 879.5v-37.8M1334.5 879.5v-5.2M1335.2 879.5v-8.2M1335.9 879.5v-21.6M1336.2 879.5v-14.1M1336.6 879.5v-7.7M1336.9 879.5v-21.4M1337.0 879.5v-82.5M1337.3 879.5v-16.3M1338.0 879.5v-10.0M1339.1 879.5v-18.3M1339.4 879.5v-1.4M1340.8 879.5v-8.2M1341.2 879.5v-11.2M1341.5 879.5v-14.9M1341.9 879.5v-12.0M1342.6 879.5v-20.2M1342.9 879.5v-10.0M1343.5 879.5v-56.8M1344.3 879.5v-7.0M1344.7 879.5v-5.6M1346.1 879.5v-6.9M1346.5 879.5v-22.9M1347.9 879.5v-11.1M1348.2 879.5v-13.4M1348.9 879.5v-13.1M1349.6 879.5v-32.0M1350.0 879.5v-14.1M1350.7 879.5v-4.2M1351.4 879.5v-2.3M1351.6 879.5v-54.7M1351.8 879.5v-5.0M1352.1 879.5v-10.4M1352.5 879.5v-11.1M1353.2 879.5v-5.5M1353.5 879.5v-6.4M1354.9 879.5v-8.3M1355.3 879.5v-7.8M1355.7 879.5v-8.6M1356.0 879.5v-6.5M1356.7 879.5v-6.3M1357.4 879.5v-10.9M1358.1 879.5v-4.2M1358.5 879.5v-30.5M1360.6 879.5v-6.5M1361.3 879.5v-30.0M1362.0 879.5v-14.5M1362.4 879.5v-9.6M1362.7 879.5v-23.8M1363.1 879.5v-6.3M1363.4 879.5v-11.8M1363.8 879.5v-15.9M1364.1 879.5v-20.0M1364.5 879.5v-2.6M1364.8 879.5v-5.4M1365.5 879.5v-22.4M1365.9 879.5v-8.0M1366.2 879.5v-12.5M1367.3 879.5v-22.9M1367.7 879.5v-2.2M1368.7 879.5v-7.3M1371.2 879.5v-20.3M1373.0 879.5v-5.0M1373.5 879.5v-54.7M1373.7 879.5v-18.2M1374.0 879.5v-15.6M1375.1 879.5v-15.9M1375.4 879.5v-8.8M1375.8 879.5v-6.7M1376.5 879.5v-29.7M1377.2 879.5v-21.6M1377.5 879.5v-14.9M1377.9 879.5v-5.1M1378.6 879.5v-2.9M1379.0 879.5v-15.3M1380.7 879.5v-26.3M1382.1 879.5v-30.8M1384.3 879.5v-2.4M1384.6 879.5v-5.2M1385.0 879.5v-5.3M1385.2 879.5v-35.8M1385.3 879.5v-6.7M1385.7 879.5v-31.5M1386.0 879.5v-24.7M1386.4 879.5v-3.2M1387.8 879.5v-14.2M1388.1 879.5v-1.0M1388.5 879.5v-12.4M1388.8 879.5v-7.6M1389.6 879.5v-15.6M1390.3 879.5v-6.1M1390.6 879.5v-1.5M1391.7 879.5v-11.6M1392.0 879.5v-15.2M1393.8 879.5v-1.7M1394.1 879.5v-16.5M1394.5 879.5v-26.4M1395.2 879.5v-28.3M1395.6 879.5v-2.8M1396.3 879.5v-8.5M1397.0 879.5v-23.5M1397.3 879.5v-3.7M1397.7 879.5v-5.1M1398.0 879.5v-7.7M1399.8 879.5v-16.6M1400.9 879.5v-1.4M1401.2 879.5v-5.5M1402.3 879.5v-25.6M1402.6 879.5v-3.5M1403.0 879.5v-18.8M1403.3 879.5v-8.5M1403.7 879.5v-16.5M1404.7 879.5v-8.9M1405.1 879.5v-8.1M1406.2 879.5v-3.0M1406.9 879.5v-7.1M1407.9 879.5v-15.2M1408.3 879.5v-3.8M1408.6 879.5v-7.9M1409.0 879.5v-9.1M1409.3 879.5v-26.0M1409.7 879.5v-3.0M1410.7 879.5v-1.9M1411.6 879.5v-63.4M1413.6 879.5v-8.2M1414.6 879.5v-13.8M1415.0 879.5v-8.3M1415.3 879.5v-6.7M1415.7 879.5v-13.4M1416.0 879.5v-1.0M1416.7 879.5v-7.8M1417.5 879.5v-8.7M1417.8 879.5v-22.3M1418.5 879.5v-22.8M1419.9 879.5v-2.2M1421.3 879.5v-20.6M1421.7 879.5v-7.0M1422.4 879.5v-5.0M1422.8 879.5v-1.7M1423.5 879.5v-7.4M1423.8 879.5v-2.6M1424.2 879.5v-11.9M1425.2 879.5v-11.3M1425.6 879.5v-3.2M1426.3 879.5v-9.5M1426.6 879.5v-6.1M1427.0 879.5v-1.6M1427.3 879.5v-2.3M1428.0 879.5v-12.2M1428.4 879.5v-10.9M1428.8 879.5v-25.6M1429.5 879.5v-9.8M1429.8 879.5v-33.5M1430.2 879.5v-19.6M1431.6 879.5v-17.8M1432.6 879.5v-15.4M1433.3 879.5v-8.8M1434.0 879.5v-29.5M1435.5 879.5v-13.2M1436.0 879.5v-39.5M1437.2 879.5v-8.4M1437.5 879.5v-57.5M1438.3 879.5v-3.0M1438.6 879.5v-77.0M1438.6 879.5v-11.6M1439.0 879.5v-4.0M1439.3 879.5v-76.8M1439.5 879.5v-59.5M1440.1 879.5v-20.1M1440.4 879.5v-8.2M1440.6 879.5v-69.5M1440.8 879.5v-3.5M1441.1 879.5v-14.8M1441.5 879.5v-64.5M1441.8 879.5v-9.4M1442.2 879.5v-283.7M1442.5 879.5v-16.2M1442.9 879.5v-14.3M1443.6 879.5v-6.0M1443.7 879.5v-69.5M1443.9 879.5v-15.1M1444.6 879.5v-2.3M1445.0 879.5v-49.5M1446.1 879.5v-27.0M1446.8 879.5v-10.0M1447.0 879.5v-34.5M1447.1 879.5v-1.9M1448.2 879.5v-9.7M1448.5 879.5v-28.5M1449.2 879.5v-14.5M1449.9 879.5v-7.5M1450.7 879.5v-12.6M1451.4 879.5v-3.7M1451.7 879.5v-7.6M1452.4 879.5v-13.5M1453.1 879.5v-8.9M1454.5 879.5v-13.4M1454.9 879.5v-4.7M1455.6 879.5v-10.7M1457.0 879.5v-13.7M1460.2 879.5v-7.2M1460.9 879.5v-1.6M1462.7 879.5v-12.4M1463.0 879.5v-2.6M1463.7 879.5v-2.8M1464.8 879.5v-5.5M1465.1 879.5v-14.7M1465.5 879.5v-6.3M1466.6 879.5v-40.9M1466.9 879.5v-1.3M1467.6 879.5v-3.8M1468.3 879.5v-7.0M1468.7 879.5v-6.1M1469.0 879.5v-9.4M1469.4 879.5v-8.3M1470.1 879.5v-2.4M1470.4 879.5v-18.8M1471.1 879.5v-1.8M1471.5 879.5v-12.8M1472.2 879.5v-8.5M1472.9 879.5v-8.0M1473.6 879.5v-7.8M1474.3 879.5v-3.2M1475.4 879.5v-1.8M1475.7 879.5v-7.5M1480.0 879.5v-1.0M1480.3 879.5v-10.7M1481.4 879.5v-7.3M1482.1 879.5v-7.7M1482.4 879.5v-2.5M1483.1 879.5v-5.2M1483.5 879.5v-5.0M1484.6 879.5v-19.0M1486.0 879.5v-5.2M1487.0 879.5v-3.7M1487.4 879.5v-2.4M1488.4 879.5v-2.5M1488.8 879.5v-19.0M1489.1 879.5v-42.3M1489.1 879.5v-1.1M1489.5 879.5v-10.8M1489.9 879.5v-5.2M1491.6 879.5v-2.6M1493.0 879.5v-4.1M1493.4 879.5v-6.7M1495.1 879.5v-3.9M1495.5 879.5v-4.3M1495.9 879.5v-7.9M1497.6 879.5v-5.5M1498.3 879.5v-33.9M1498.7 879.5v-10.6M1499.0 879.5v-17.5M1499.7 879.5v-16.7M1500.4 879.5v-20.2M1501.2 879.5v-39.7M1501.5 879.5v-10.8M1502.2 879.5v-8.0M1502.9 879.5v-3.0M1503.3 879.5v-8.6M1503.6 879.5v-4.6M1504.3 879.5v-14.3M1504.9 879.5v-84.0M1505.4 879.5v-3.9M1505.7 879.5v-47.5M1506.5 879.5v-15.9M1506.8 879.5v-37.8M1507.8 879.5v-178.3M1507.9 879.5v-19.5M1508.2 879.5v-9.7M1509.3 879.5v-7.2M1509.6 879.5v-47.5M1510.0 879.5v-12.1M1510.3 879.5v-21.8M1510.7 879.5v-14.6M1511.0 879.5v-2.6M1511.4 879.5v-4.6M1511.7 879.5v-47.5M1512.5 879.5v-16.4M1512.8 879.5v-14.3M1514.2 879.5v-19.4M1515.3 879.5v-40.4M1517.0 879.5v-12.8M1517.4 879.5v-9.4M1517.4 879.5v-60.0M1518.5 879.5v-15.4M1519.9 879.5v-23.6M1520.6 879.5v-10.8M1520.9 879.5v-2.7M1521.3 879.5v-4.3M1522.0 879.5v-4.2M1523.0 879.5v-18.8M1523.4 879.5v-2.9M1523.8 879.5v-8.1M1524.1 879.5v-21.0M1524.5 879.5v-4.4M1525.5 879.5v-31.8M1526.2 879.5v-2.2M1526.9 879.5v-3.0M1527.6 879.5v-11.3M1528.3 879.5v-2.0M1528.7 879.5v-11.7M1529.8 879.5v-10.0M1531.9 879.5v-2.3M1532.6 879.5v-9.8M1534.0 879.5v-6.1M1534.3 879.5v-15.0M1534.7 879.5v-6.6M1535.1 879.5v-5.9M1535.4 879.5v-5.8M1537.5 879.5v-11.0M1537.9 879.5v-3.8M1538.2 879.5v-20.6M1538.9 879.5v-6.6M1539.6 879.5v-3.5M1540.4 879.5v-7.9M1541.1 879.5v-9.1M1542.1 879.5v-13.6M1542.5 879.5v-6.0M1542.8 879.5v-12.4M1543.2 879.5v-4.0M1543.9 879.5v-2.5M1544.6 879.5v-5.3M1545.3 879.5v-21.9M1546.4 879.5v-7.4M1547.1 879.5v-8.2M1547.4 879.5v-5.0M1548.0 879.5v-100.3M1548.1 879.5v-4.8M1548.5 879.5v-3.7M1549.5 879.5v-6.8M1549.9 879.5v-2.7M1550.6 879.5v-25.4M1550.9 879.5v-11.8M1551.3 879.5v-7.6M1552.4 879.5v-17.4M1552.7 879.5v-7.8M1553.1 879.5v-24.6M1553.4 879.5v-37.7M1555.2 879.5v-1.9M1555.5 879.5v-18.2M1556.2 879.5v-30.6M1558.0 879.5v-11.4M1559.4 879.5v-25.9M1560.1 879.5v-20.5M1560.5 879.5v-31.1M1561.2 879.5v-51.7M1561.5 879.5v-70.6M1562.6 879.5v-22.9M1563.7 879.5v-7.9M1564.7 879.5v-22.4M1565.1 879.5v-19.8M1565.8 879.5v-2.9M1566.8 879.5v-6.0M1567.2 879.5v-9.4M1567.2 879.5v-77.8M1567.9 879.5v-7.3M1568.6 879.5v-21.0M1569.0 879.5v-12.6M1569.7 879.5v-8.3M1570.4 879.5v-3.9M1570.7 879.5v-9.7M1571.4 879.5v-19.2M1572.1 879.5v-4.6M1572.5 879.5v-10.5M1572.8 879.5v-14.7M1573.2 879.5v-8.6M1573.6 879.5v-6.2M1575.0 879.5v-22.0M1575.3 879.5v-30.0M1576.4 879.5v-12.4M1576.7 879.5v-5.3M1577.4 879.5v-10.0M1577.8 879.5v-8.0M1578.1 879.5v-1.6M1579.6 879.5v-7.5M1580.3 879.5v-5.5M1581.3 879.5v-6.6M1583.8 879.5v-2.2M1584.1 879.5v-17.9M1584.9 879.5v-6.0M1585.6 879.5v-15.6M1586.3 879.5v-3.8M1588.0 879.5v-8.8M1589.1 879.5v-23.6M1589.4 879.5v-1.4M1589.8 879.5v-19.8M1590.1 879.5v-14.3M1591.2 879.5v-2.7M1591.6 879.5v-10.4M1593.0 879.5v-25.0M1593.3 879.5v-1.2M1593.7 879.5v-7.2M1594.0 879.5v-18.5M1594.4 879.5v-7.4M1594.7 879.5v-28.3M1595.1 879.5v-6.2M1595.4 879.5v-9.3M1596.2 879.5v-11.2M1597.2 879.5v-4.5M1597.9 879.5v-18.2M1598.3 879.5v-8.3M1599.0 879.5v-32.3M1599.3 879.5v-18.0M1601.5 879.5v-5.4M1601.8 879.5v-13.4M1602.2 879.5v-25.9M1602.9 879.5v-3.1M1603.2 879.5v-39.7M1603.9 879.5v-15.9M1604.3 879.5v-48.1M1605.0 879.5v-26.0M1605.7 879.5v-13.2M1606.0 879.5v-10.1M1606.4 879.5v-27.5M1606.7 879.5v-19.4M1607.1 879.5v-39.8M1607.5 879.5v-12.9M1607.8 879.5v-15.2M1608.2 879.5v-6.5M1608.9 879.5v-167.3M1609.2 879.5v-83.9M1610.3 879.5v-10.8M1611.0 879.5v-26.9M1611.7 879.5v-54.4M1612.8 879.5v-15.2M1613.1 879.5v-29.6M1614.5 879.5v-9.5M1614.9 879.5v-3.1M1615.6 879.5v-7.4M1616.6 879.5v-9.4M1617.0 879.5v-20.8M1617.3 879.5v-11.7M1618.0 879.5v-18.5M1618.8 879.5v-6.2M1619.1 879.5v-20.9M1619.8 879.5v-22.9M1621.2 879.5v-19.8M1621.6 879.5v-32.3M1622.3 879.5v-11.6M1623.0 879.5v-11.4M1623.7 879.5v-8.3M1624.1 879.5v-5.6M1625.1 879.5v-15.8M1626.5 879.5v-2.3M1627.1 879.5v-50.5M1627.2 879.5v-8.9M1628.3 879.5v-16.0M1629.3 879.5v-7.2M1629.7 879.5v-19.0M1630.8 879.5v-26.8M1633.2 879.5v-26.3M1633.6 879.5v-7.9M1633.9 879.5v-13.5M1635.0 879.5v-6.2M1635.4 879.5v-2.5M1636.4 879.5v-2.9M1637.5 879.5v-6.8M1639.2 879.5v-20.9M1639.9 879.5v-3.5M1640.3 879.5v-7.9M1641.7 879.5v-14.4M1642.4 879.5v-8.7M1643.8 879.5v-12.6M1644.2 879.5v-18.7M1644.5 879.5v-3.9M1645.2 879.5v-24.8M1645.6 879.5v-8.2M1648.4 879.5v-3.6M1648.8 879.5v-1.9M1649.1 879.5v-9.3M1649.8 879.5v-5.5M1650.5 879.5v-2.7M1651.6 879.5v-9.3M1652.0 879.5v-11.5M1652.7 879.5v-4.5M1653.4 879.5v-5.0M1654.4 879.5v-10.6M1654.8 879.5v-16.1M1655.1 879.5v-3.4M1656.2 879.5v-8.1M1656.5 879.5v-3.0M1656.8 879.5v-56.7M1656.9 879.5v-6.5M1658.0 879.5v-4.5M1658.3 879.5v-6.6M1658.7 879.5v-10.2M1659.0 879.5v-3.0M1659.4 879.5v-8.7M1660.8 879.5v-6.8M1661.8 879.5v-9.6M1662.2 879.5v-8.4M1663.6 879.5v-8.2M1664.0 879.5v-2.2M1664.3 879.5v-13.9M1664.7 879.5v-16.2M1665.0 879.5v-1.9M1666.4 879.5v-14.8M1667.8 879.5v-18.3M1668.6 879.5v-20.2M1668.9 879.5v-18.6M1670.0 879.5v-4.0M1670.3 879.5v-2.9M1670.7 879.5v-2.3M1671.7 879.5v-12.5M1672.1 879.5v-6.7M1672.8 879.5v-8.3M1674.2 879.5v-12.4M1674.6 879.5v-2.3M1674.9 879.5v-5.1M1675.3 879.5v-8.5M1675.6 879.5v-11.2M1676.3 879.5v-5.1M1676.7 879.5v-2.7M1677.4 879.5v-27.9M1677.7 879.5v-8.7M1678.4 879.5v-2.8M1678.8 879.5v-24.8M1679.5 879.5v-28.1M1679.9 879.5v-9.8M1680.2 879.5v-3.7M1681.6 879.5v-11.1M1683.4 879.5v-3.8M1683.7 879.5v-7.2M1684.1 879.5v-9.1M1684.8 879.5v-2.6M1686.2 879.5v-22.5M1686.6 879.5v-4.5M1687.6 879.5v-4.8M1688.0 879.5v-10.5M1688.7 879.5v-39.6M1688.9 879.5v-138.1M1689.4 879.5v-14.2M1689.7 879.5v-16.6M1690.1 879.5v-22.2M1690.8 879.5v-38.1M1691.9 879.5v-18.3M1692.2 879.5v-8.5M1693.3 879.5v-8.4M1693.6 879.5v-19.5M1694.0 879.5v-6.6M1694.7 879.5v-17.3M1695.0 879.5v-42.1M1695.4 879.5v-19.4M1695.7 879.5v-31.1M1696.5 879.5v-66.3M1697.5 879.5v-56.3M1697.9 879.5v-26.2M1699.6 879.5v-41.7M1700.3 879.5v-16.1M1700.7 879.5v-17.7M1701.0 879.5v-66.4M1703.2 879.5v-17.8M1703.9 879.5v-11.4M1704.6 879.5v-14.4M1704.7 879.5v-71.1M1705.3 879.5v-12.0M1705.6 879.5v-23.2M1706.0 879.5v-6.1M1706.3 879.5v-53.2M1706.7 879.5v-15.7M1707.0 879.5v-44.2M1707.4 879.5v-12.5M1708.8 879.5v-7.1M1709.9 879.5v-15.0M1710.2 879.5v-9.2M1710.6 879.5v-12.8M1711.3 879.5v-24.9M1711.6 879.5v-52.3M1712.0 879.5v-5.1M1712.3 879.5v-17.1M1712.7 879.5v-12.7M1713.0 879.5v-42.0M1713.8 879.5v-36.8M1714.5 879.5v-33.3M1715.5 879.5v-30.4M1715.9 879.5v-40.2M1716.2 879.5v-11.8M1716.6 879.5v-11.4M1716.9 879.5v-7.0M1717.6 879.5v-93.6M1717.6 879.5v-9.1M1718.3 879.5v-20.6M1719.1 879.5v-16.4M1720.8 879.5v-11.3M1721.2 879.5v-7.0M1723.3 879.5v-33.3M1724.0 879.5v-14.5M1724.7 879.5v-30.5M1725.1 879.5v-26.1M1725.2 879.5v-129.5M1725.8 879.5v-4.3M1726.5 879.5v-26.5M1726.8 879.5v-26.6M1727.2 879.5v-37.1M1727.5 879.5v-9.2M1728.2 879.5v-6.5M1729.6 879.5v-16.6M1730.0 879.5v-118.5M1731.4 879.5v-32.8M1731.8 879.5v-14.7M1732.5 879.5v-13.6M1732.8 879.5v-7.8M1733.2 879.5v-42.6M1733.5 879.5v-5.6M1733.9 879.5v-17.6M1734.2 879.5v-17.7M1734.9 879.5v-21.3M1735.3 879.5v-9.5M1735.7 879.5v-60.1M1736.0 879.5v-20.7M1736.7 879.5v-107.9M1737.1 879.5v-16.4M1737.8 879.5v-61.1M1738.8 879.5v-34.6M1739.5 879.5v-22.1M1739.9 879.5v-10.3M1740.6 879.5v-60.7M1741.3 879.5v-60.6M1741.7 879.5v-8.5M1742.4 879.5v-3.6M1742.7 879.5v-42.5M1743.1 879.5v-15.0M1743.8 879.5v-7.3M1745.2 879.5v-12.0M1746.6 879.5v-50.7M1747.3 879.5v-30.0M1748.4 879.5v-24.5M1749.1 879.5v-13.7M1749.8 879.5v-20.8M1750.1 879.5v-26.6M1751.2 879.5v-17.6M1751.5 879.5v-11.8M1752.2 879.5v-26.3M1753.7 879.5v-2.5M1754.0 879.5v-123.7M1754.0 879.5v-18.9M1755.1 879.5v-40.8M1755.8 879.5v-11.2M1756.5 879.5v-50.5M1757.2 879.5v-5.7M1757.9 879.5v-12.7M1758.3 879.5v-23.7M1758.6 879.5v-3.4M1759.7 879.5v-10.9M1759.7 879.5v-109.4M1760.0 879.5v-13.1M1761.4 879.5v-34.5M1761.8 879.5v-28.1M1762.1 879.5v-9.0M1762.8 879.5v-14.8M1763.2 879.5v-6.1M1764.6 879.5v-50.1M1765.3 879.5v-7.8M1765.7 879.5v-20.8M1766.0 879.5v-14.7M1767.4 879.5v-9.6M1768.1 879.5v-47.3M1770.3 879.5v-9.8M1771.0 879.5v-26.5M1771.7 879.5v-13.1M1772.4 879.5v-12.5M1772.7 879.5v-9.6M1773.1 879.5v-27.7M1773.8 879.5v-39.0M1774.1 879.5v-6.8M1774.9 879.5v-13.5M1775.2 879.5v-7.1M1775.9 879.5v-25.8M1778.0 879.5v-6.4M1778.4 879.5v-9.5M1778.7 879.5v-10.1M1779.1 879.5v-34.6M1779.8 879.5v-2.3M1780.9 879.5v-11.1M1781.6 879.5v-3.0M1781.8 879.5v-152.5M1781.9 879.5v-2.9M1782.3 879.5v-6.6M1782.6 879.5v-30.8M1783.3 879.5v-28.0M1783.7 879.5v-2.3M1784.4 879.5v-4.8M1784.6 879.5v-52.9M1784.7 879.5v-4.8M1785.1 879.5v-2.8M1785.4 879.5v-4.5M1785.8 879.5v-2.4M1786.5 879.5v-6.5M1786.9 879.5v-4.3M1787.2 879.5v-5.7M1788.6 879.5v-10.5M1789.0 879.5v-3.4M1791.1 879.5v-10.7M1791.8 879.5v-4.4M1795.0 879.5v-1.2M1796.4 879.5v-4.9M1797.2 879.5v-42.7M1797.8 879.5v-3.2M1798.5 879.5v-5.3M1798.9 879.5v-8.0M1799.2 879.5v-10.2M1799.6 879.5v-2.0M1799.9 879.5v-7.9M1800.3 879.5v-10.5M1800.6 879.5v-12.3M1801.0 879.5v-6.0M1802.0 879.5v-2.9M1803.1 879.5v-4.8M1803.8 879.5v-5.0M1804.2 879.5v-1.8M1804.9 879.5v-3.1M1805.2 879.5v-20.4M1805.4 879.5v-73.6M1805.9 879.5v-3.1M1806.6 879.5v-2.2M1809.1 879.5v-6.5M1809.8 879.5v-23.0M1810.2 879.5v-8.6M1810.9 879.5v-23.1M1811.6 879.5v-5.2M1811.9 879.5v-5.3M1812.3 879.5v-2.0M1813.0 879.5v-3.8M1814.1 879.5v-2.6M1814.8 879.5v-6.5M1815.1 879.5v-6.3M1815.5 879.5v-6.6M1815.8 879.5v-2.7M1816.2 879.5v-1.7M1816.5 879.5v-7.7M1816.9 879.5v-6.6M1818.3 879.5v-15.9M1819.0 879.5v-6.0M1819.7 879.5v-6.3M1821.8 879.5v-9.1M1822.9 879.5v-1.5M1823.6 879.5v-3.3M1823.9 879.5v-3.0M1824.3 879.5v-10.3M1824.6 879.5v-7.5M1825.0 879.5v-4.3M1825.4 879.5v-3.0M1825.7 879.5v-2.9M1826.1 879.5v-15.6M1826.4 879.5v-6.3M1827.5 879.5v-4.2M1827.5 879.5v-91.6M1827.8 879.5v-2.0M1828.2 879.5v-4.6M1829.2 879.5v-6.3M1829.6 879.5v-3.4M1830.7 879.5v-1.8M1831.0 879.5v-2.5M1832.8 879.5v-9.7M1833.1 879.5v-24.3M1834.2 879.5v-11.4M1835.2 879.5v-10.0M1835.6 879.5v-11.6M1837.7 879.5v-2.4M1838.4 879.5v-24.5M1838.8 879.5v-24.6M1839.5 879.5v-7.0M1839.8 879.5v-2.0M1840.5 879.5v-3.1M1840.9 879.5v-7.3M1841.6 879.5v-3.1M1843.0 879.5v-5.1M1843.7 879.5v-4.4M1844.1 879.5v-24.8M1844.4 879.5v-15.3M1845.8 879.5v-9.5M1846.5 879.5v-6.6M1846.9 879.5v-6.9M1847.2 879.5v-3.5M1848.0 879.5v-3.9M1848.3 879.5v-7.9M1848.6 879.5v-51.5M1849.7 879.5v-9.5M1850.4 879.5v-10.5M1850.8 879.5v-5.7M1852.2 879.5v-7.8M1852.9 879.5v-11.5M1854.0 879.5v-4.6M1854.3 879.5v-4.9M1855.0 879.5v-6.3M1855.4 879.5v-8.3M1856.4 879.5v-4.7M1856.8 879.5v-4.8M1857.8 879.5v-15.5M1858.2 879.5v-4.0M1858.6 879.5v-5.5M1859.3 879.5v-1.3M1860.0 879.5v-4.0M1860.3 879.5v-1.4M1860.7 879.5v-4.1M1861.0 879.5v-9.5M1861.4 879.5v-4.7M1862.1 879.5v-7.9M1862.4 879.5v-10.1M1862.8 879.5v-7.9M1863.5 879.5v-6.7M1863.8 879.5v-4.4M1864.6 879.5v-7.4M1865.3 879.5v-1.2M1867.0 879.5v-17.3M1867.4 879.5v-2.9M1867.7 879.5v-5.7M1868.1 879.5v-25.6M1868.4 879.5v-2.6M1869.7 879.5v-178.0M1869.9 879.5v-3.6M1870.2 879.5v-8.2M1870.9 879.5v-1.3M1871.3 879.5v-13.2M1872.3 879.5v-13.6M1872.8 879.5v-155.8M1873.4 879.5v-13.3M1874.4 879.5v-7.2M1875.5 879.5v-3.7M1876.2 879.5v-3.9M1876.6 879.5v-26.6M1877.3 879.5v-9.0M1877.6 879.5v-12.3M1878.0 879.5v-29.6M1878.7 879.5v-8.6M1879.0 879.5v-16.6M1880.4 879.5v-17.4M1881.2 879.5v-19.3M1881.5 879.5v-15.7M1881.9 879.5v-25.4M1884.3 879.5v-13.7M1885.0 879.5v-10.2M1885.6 879.5v-136.3M1886.1 879.5v-19.7M1887.2 879.5v-50.9M1887.2 879.5v-191.8M1887.9 879.5v-33.8M1888.2 879.5v-18.6M1888.6 879.5v-27.1M1888.9 879.5v-48.6M1890.7 879.5v-52.2M1891.0 879.5v-18.9M1891.4 879.5v-63.8M1891.7 879.5v-23.3M1892.8 879.5v-58.2M1893.2 879.5v-6.5M1893.5 879.5v-4.3M1893.9 879.5v-23.7M1894.2 879.5v-15.3M1895.3 879.5v-21.3M1896.0 879.5v-22.8M1896.3 879.5v-63.6M1896.7 879.5v-64.7M1897.8 879.5v-13.5M1898.8 879.5v-23.4M1899.2 879.5v-19.9M1899.5 879.5v-22.1M1899.9 879.5v-52.8M1900.6 879.5v-10.9M1900.9 879.5v-12.2M1901.3 879.5v-7.9M1902.1 879.5v-71.0M1902.3 879.5v-9.5M1903.0 879.5v-25.7M1904.5 879.5v-5.7M1904.8 879.5v-6.4M1905.2 879.5v-53.7M1905.9 879.5v-17.1M1906.6 879.5v-20.2M1907.6 879.5v-22.4M1908.0 879.5v-3.6M1908.7 879.5v-11.1M1909.8 879.5v-5.9M1910.3 879.5v-65.9M1911.2 879.5v-15.1M1912.6 879.5v-7.1M1913.3 879.5v-6.2M1913.6 879.5v-21.5M1914.0 879.5v-60.0M1914.3 879.5v-33.1M1914.7 879.5v-37.5M1915.1 879.5v-12.7M1916.1 879.5v-27.3M1917.2 879.5v-10.1M1918.2 879.5v-26.4M1918.6 879.5v-25.0M1918.9 879.5v-7.7M1920.4 879.5v-27.0M1920.7 879.5v-7.3M1921.1 879.5v-17.5M1921.1 879.5v-56.6M1921.4 879.5v-58.0M1921.8 879.5v-10.3M1922.1 879.5v-10.7M1922.5 879.5v-16.5M1923.2 879.5v-28.9M1923.5 879.5v-4.4M1924.2 879.5v-10.7M1924.6 879.5v-7.8M1924.9 879.5v-2.3M1925.3 879.5v-17.5M1925.7 879.5v-31.8M1926.0 879.5v-21.4M1926.4 879.5v-22.8M1926.7 879.5v-18.4M1927.1 879.5v-50.5M1927.4 879.5v-41.8M1928.5 879.5v-12.7M1928.8 879.5v-20.4M1929.2 879.5v-17.3M1929.5 879.5v-53.8M1929.9 879.5v-2.4M1931.7 879.5v-9.1M1931.9 879.5v-95.2M1933.4 879.5v-15.1M1933.8 879.5v-9.1M1934.1 879.5v-4.5M1934.5 879.5v-9.0M1935.2 879.5v-7.8M1935.9 879.5v-26.8M1936.2 879.5v-6.3M1936.5 879.5v-78.7M1936.6 879.5v-10.6M1937.0 879.5v-14.6M1937.3 879.5v-11.6M1937.7 879.5v-8.3M1938.7 879.5v-9.7M1939.1 879.5v-8.4M1939.4 879.5v-3.8M1939.8 879.5v-15.2M1941.2 879.5v-7.0M1941.9 879.5v-16.2M1944.0 879.5v-6.1M1944.4 879.5v-15.8M1944.7 879.5v-6.2M1945.4 879.5v-40.1M1946.1 879.5v-5.9M1946.5 879.5v-33.4M1947.5 879.5v-4.8M1947.9 879.5v-17.4M1948.3 879.5v-15.8M1948.6 879.5v-10.4M1949.3 879.5v-13.3M1949.4 879.5v-358.9M1949.7 879.5v-39.6M1950.4 879.5v-39.1M1951.4 879.5v-11.7M1951.8 879.5v-13.0M1952.1 879.5v-12.7M1952.5 879.5v-3.9M1952.8 879.5v-24.7M1953.2 879.5v-3.8M1953.6 879.5v-5.4M1954.3 879.5v-21.8M1954.6 879.5v-5.8M1955.0 879.5v-4.1M1956.4 879.5v-14.7M1956.7 879.5v-15.9M1957.1 879.5v-24.6M1958.1 879.5v-2.9M1958.5 879.5v-12.5M1959.2 879.5v-13.4M1960.3 879.5v-7.5M1962.0 879.5v-26.6M1963.1 879.5v-2.7M1964.5 879.5v-8.1M1966.3 879.5v-8.8M1966.6 879.5v-6.2M1967.0 879.5v-3.0M1967.7 879.5v-11.3M1968.4 879.5v-23.9M1968.7 879.5v-14.9M1970.0 879.5v-73.6M1970.5 879.5v-8.7M1971.9 879.5v-1.0M1972.6 879.5v-3.9M1973.3 879.5v-9.4M1973.7 879.5v-10.3M1974.0 879.5v-5.7M1975.1 879.5v-5.3M1975.8 879.5v-2.9M1976.2 879.5v-2.8M1977.6 879.5v-5.0M1977.9 879.5v-10.8M1979.0 879.5v-10.3M1979.3 879.5v-2.6M1980.4 879.5v-2.7M1981.8 879.5v-25.9M1982.5 879.5v-6.5M1983.9 879.5v-4.3M1984.6 879.5v-8.8M1985.7 879.5v-7.0M1986.4 879.5v-4.6M1987.1 879.5v-23.7M1987.8 879.5v-21.7M1988.9 879.5v-4.2M1989.6 879.5v-5.2M1990.6 879.5v-15.8M1991.0 879.5v-4.7M1991.7 879.5v-8.5M1992.0 879.5v-4.2M1993.1 879.5v-5.5M1993.8 879.5v-1.2M1994.5 879.5v-13.0M1994.6 879.5v-71.0M1994.9 879.5v-24.7M1995.2 879.5v-11.3M1995.9 879.5v-3.3M1996.3 879.5v-4.7M1997.0 879.5v-26.6M1997.7 879.5v-4.2M1998.0 879.5v-6.9M1998.4 879.5v-9.3M1999.1 879.5v-8.3M1999.8 879.5v-11.8M2000.2 879.5v-6.5M2000.5 879.5v-21.8M2001.2 879.5v-2.4M2003.0 879.5v-9.9M2003.3 879.5v-3.3M2004.4 879.5v-2.8M2005.1 879.5v-8.6M2005.5 879.5v-3.8M2005.8 879.5v-6.8M2006.2 879.5v-4.3M2006.5 879.5v-15.7M2007.2 879.5v-1.0M2007.6 879.5v-15.3M2008.3 879.5v-7.4M2009.0 879.5v-5.4M2009.7 879.5v-26.0M2010.1 879.5v-7.5M2010.4 879.5v-9.8M2010.8 879.5v-7.5M2011.5 879.5v-8.0M2012.5 879.5v-3.5M2012.9 879.5v-5.3M2013.2 879.5v-4.8M2013.6 879.5v-6.4M2014.3 879.5v-13.3M2014.6 879.5v-18.3M2014.7 879.5v-58.2M2015.7 879.5v-24.6M2016.1 879.5v-2.6M2017.5 879.5v-14.6M2017.8 879.5v-4.9M2018.2 879.5v-4.0M2018.5 879.5v-6.5M2018.9 879.5v-4.0M2020.3 879.5v-13.0M2021.4 879.5v-11.1M2022.1 879.5v-2.1M2025.2 879.5v-24.9M2025.6 879.5v-23.8M2027.0 879.5v-7.6M2027.4 879.5v-3.6M2027.7 879.5v-18.7M2029.5 879.5v-10.8M2029.8 879.5v-14.5M2030.5 879.5v-21.9M2032.0 879.5v-4.7M2034.8 879.5v-3.0M2035.1 879.5v-6.9M2036.5 879.5v-9.8M2037.6 879.5v-2.7M2038.0 879.5v-3.5M2039.0 879.5v-6.8M2039.7 879.5v-13.2M2040.4 879.5v-4.8M2042.2 879.5v-2.7M2042.9 879.5v-5.5M2043.3 879.5v-4.2M2044.0 879.5v-5.5M2044.3 879.5v-26.6M2046.1 879.5v-5.7M2048.9 879.5v-7.6M2050.0 879.5v-1.8M2050.7 879.5v-7.0M2051.4 879.5v-4.8M2051.7 879.5v-13.7M2052.1 879.5v-6.0M2052.4 879.5v-13.1M2052.8 879.5v-5.3M2053.5 879.5v-5.7M2054.2 879.5v-18.9M2054.8 879.5v-52.0M2055.6 879.5v-13.9M2056.3 879.5v-4.8M2056.7 879.5v-22.9M2058.1 879.5v-3.1M2058.4 879.5v-17.8M2058.8 879.5v-23.9M2059.1 879.5v-8.8M2059.5 879.5v-1.3M2060.2 879.5v-5.4M2061.3 879.5v-3.5M2062.0 879.5v-9.4M2062.3 879.5v-20.2M2063.0 879.5v-5.2M2063.4 879.5v-9.6M2063.7 879.5v-2.8M2064.1 879.5v-15.7M2065.5 879.5v-9.1M2065.9 879.5v-30.6M2066.6 879.5v-4.6M2066.9 879.5v-6.5M2068.3 879.5v-2.3M2068.7 879.5v-11.7M2069.0 879.5v-11.7M2069.4 879.5v-4.5M2070.1 879.5v-13.4M2071.2 879.5v-6.5M2071.5 879.5v-3.1M2071.9 879.5v-20.3M2072.2 879.5v-1.7M2072.6 879.5v-3.7M2072.9 879.5v-24.4M2073.3 879.5v-10.9M2075.7 879.5v-9.4M2076.1 879.5v-5.0M2076.5 879.5v-33.6M2076.8 879.5v-14.1M2077.2 879.5v-7.3M2077.9 879.5v-21.1M2078.6 879.5v-7.9M2080.0 879.5v-12.4M2080.3 879.5v-3.9M2081.0 879.5v-106.0M2081.0 879.5v-15.6M2081.7 879.5v-24.3M2082.1 879.5v-14.1M2082.5 879.5v-17.7M2082.8 879.5v-21.6M2083.9 879.5v-5.8M2085.3 879.5v-2.8M2086.7 879.5v-7.8M2087.0 879.5v-23.9M2087.4 879.5v-10.0M2087.8 879.5v-15.1M2090.2 879.5v-6.9M2090.6 879.5v-3.7M2090.8 879.5v-45.3M2092.0 879.5v-6.6M2092.3 879.5v-12.9M2093.4 879.5v-23.8M2093.8 879.5v-6.2M2094.1 879.5v-17.5M2095.2 879.5v-5.5M2096.2 879.5v-8.8M2097.3 879.5v-4.2M2097.6 879.5v-10.5M2098.3 879.5v-3.0M2099.4 879.5v-8.6M2100.5 879.5v-9.5M2101.2 879.5v-10.0M2102.6 879.5v-8.2M2103.3 879.5v-13.3M2104.4 879.5v-37.2M2104.7 879.5v-29.1M2105.4 879.5v-4.0M2105.8 879.5v-15.6M2106.1 879.5v-3.0M2106.5 879.5v-11.1M2106.8 879.5v-14.7M2107.2 879.5v-10.6M2107.9 879.5v-23.1M2108.2 879.5v-9.8M2108.6 879.5v-30.1M2108.9 879.5v-5.5M2109.3 879.5v-11.8M2109.8 879.5v-51.5M2110.0 879.5v-8.5M2111.8 879.5v-5.8M2112.1 879.5v-9.3M2112.5 879.5v-2.5M2113.9 879.5v-37.2M2115.7 879.5v-11.0M2116.4 879.5v-15.6M2117.1 879.5v-2.9M2117.8 879.5v-1.4M2118.1 879.5v-11.5M2118.8 879.5v-5.2M2119.2 879.5v-31.3M2119.9 879.5v-13.5M2120.2 879.5v-37.2M2120.6 879.5v-8.1M2121.1 879.5v-53.4M2121.3 879.5v-3.7M2121.7 879.5v-14.9M2122.0 879.5v-6.3M2122.4 879.5v-28.0M2123.4 879.5v-26.9M2123.8 879.5v-17.4M2124.1 879.5v-2.9M2124.8 879.5v-4.0M2125.5 879.5v-7.6M2126.6 879.5v-13.0M2127.0 879.5v-8.5M2128.0 879.5v-5.3M2128.7 879.5v-3.3M2129.8 879.5v-6.7M2130.1 879.5v-3.1M2130.5 879.5v-11.2M2130.8 879.5v-9.8M2133.7 879.5v-6.9M2134.4 879.5v-17.9M2134.7 879.5v-11.1M2135.1 879.5v-12.3M2135.4 879.5v-16.1M2136.5 879.5v-3.8M2137.2 879.5v-5.3M2137.5 879.5v-10.2M2137.9 879.5v-13.2M2138.3 879.5v-9.4M2138.3 879.5v-41.0M2139.0 879.5v-5.4M2139.3 879.5v-13.6M2139.7 879.5v-25.4M2140.0 879.5v-6.7M2141.8 879.5v-8.1M2142.5 879.5v-19.9M2143.9 879.5v-24.2M2144.3 879.5v-8.7M2144.6 879.5v-6.3M2145.0 879.5v-8.9M2145.7 879.5v-15.7M2146.0 879.5v-18.8M2146.7 879.5v-13.8M2147.1 879.5v-12.6M2147.4 879.5v-15.8M2148.0 879.5v-34.4M2148.8 879.5v-28.0M2149.2 879.5v-11.1M2149.6 879.5v-23.0M2150.3 879.5v-25.0M2151.0 879.5v-15.3M2151.7 879.5v-8.4M2152.0 879.5v-12.7M2152.4 879.5v-8.2M2152.7 879.5v-6.8M2153.8 879.5v-17.1M2154.9 879.5v-27.8M2155.2 879.5v-12.0M2155.6 879.5v-1.8M2155.9 879.5v-6.2M2157.3 879.5v-13.6M2157.7 879.5v-1.5M2158.7 879.5v-10.0M2159.1 879.5v-5.2M2160.1 879.5v-1.2M2160.9 879.5v-3.0M2161.2 879.5v-2.0M2162.6 879.5v-38.9M2163.7 879.5v-5.3M2164.4 879.5v-4.9M2165.1 879.5v-1.7M2165.4 879.5v-29.8M2165.8 879.5v-9.6M2166.2 879.5v-7.4M2166.5 879.5v-26.6M2167.2 879.5v-16.2M2167.9 879.5v-35.8M2168.3 879.5v-3.7M2168.6 879.5v-143.1M2169.0 879.5v-9.3M2169.7 879.5v-6.8M2170.0 879.5v-6.8M2170.4 879.5v-8.8M2170.7 879.5v-3.1M2171.1 879.5v-5.2M2172.2 879.5v-33.6M2172.5 879.5v-33.4M2173.2 879.5v-8.2M2173.6 879.5v-93.7M2173.9 879.5v-24.2M2174.3 879.5v-8.1M2174.6 879.5v-14.1M2175.7 879.5v-6.8M2176.0 879.5v-5.6M2176.7 879.5v-13.0M2177.5 879.5v-3.7M2177.8 879.5v-10.8M2178.9 879.5v-7.1M2179.9 879.5v-10.1M2180.6 879.5v-7.0M2182.0 879.5v-6.1M2182.8 879.5v-23.1M2184.2 879.5v-5.2M2184.5 879.5v-3.8M2184.9 879.5v-5.5M2185.2 879.5v-11.3M2185.9 879.5v-17.9M2186.3 879.5v-8.3M2186.6 879.5v-11.8M2187.0 879.5v-12.2M2187.3 879.5v-6.3M2187.7 879.5v-4.7M2188.0 879.5v-25.7M2188.8 879.5v-5.8M2189.5 879.5v-17.4M2189.8 879.5v-5.5M2190.2 879.5v-11.3M2190.5 879.5v-9.2M2190.9 879.5v-1.0M2191.6 879.5v-21.0M2191.9 879.5v-8.2M2192.3 879.5v-7.2M2194.1 879.5v-6.8M2194.4 879.5v-11.0M2194.8 879.5v-10.3M2195.1 879.5v-4.6M2195.5 879.5v-3.0M2196.1 879.5v-34.4M2196.5 879.5v-3.4M2197.2 879.5v-13.1M2198.3 879.5v-4.8M2198.6 879.5v-16.7M2200.1 879.5v-7.6M2200.4 879.5v-6.1M2200.8 879.5v-6.5M2201.5 879.5v-4.3M2201.8 879.5v-19.8M2202.2 879.5v-6.2M2202.5 879.5v-3.3M2202.9 879.5v-17.2M2203.6 879.5v-2.9M2206.4 879.5v-20.4M2207.4 879.5v-31.0M2207.8 879.5v-2.3M2209.2 879.5v-8.2M2211.0 879.5v-4.1M2211.4 879.5v-5.9M2212.4 879.5v-15.0M2212.8 879.5v-9.7M2213.1 879.5v-23.9M2214.2 879.5v-16.4M2214.9 879.5v-3.0M2215.6 879.5v-8.0M2215.9 879.5v-21.3M2216.3 879.5v-4.5M2217.0 879.5v-5.3M2217.4 879.5v-14.5M2218.1 879.5v-7.7M2218.4 879.5v-4.3M2219.5 879.5v-3.8M2220.2 879.5v-7.0M2221.2 879.5v-12.0M2222.0 879.5v-8.1M2222.7 879.5v-12.8M2223.0 879.5v-11.6M2223.4 879.5v-5.0M2223.7 879.5v-7.1M2225.8 879.5v-16.3M2227.6 879.5v-6.7M2228.0 879.5v-4.2M2228.3 879.5v-34.6M2228.7 879.5v-4.6M2229.0 879.5v-4.6M2229.4 879.5v-18.4M2230.4 879.5v-3.3M2230.8 879.5v-10.8M2232.2 879.5v-10.8M2232.5 879.5v-5.9M2232.9 879.5v-5.8M2234.0 879.5v-9.8M2234.3 879.5v-6.4M2235.0 879.5v-7.2M2236.1 879.5v-32.4M2236.4 879.5v-11.2M2236.8 879.5v-2.8M2237.5 879.5v-34.6M2238.2 879.5v-3.3M2238.9 879.5v-11.5M2239.3 879.5v-44.1M2239.6 879.5v-9.7M2240.0 879.5v-1.7M2241.0 879.5v-5.8M2241.4 879.5v-18.2M2241.7 879.5v-34.6M2242.1 879.5v-4.3M2242.8 879.5v-3.1M2243.5 879.5v-7.0M2243.8 879.5v-22.3M2245.3 879.5v-21.5M2246.0 879.5v-23.4M2246.3 879.5v-13.7M2246.7 879.5v-5.1M2247.3 879.5v-50.2M2248.1 879.5v-5.9M2248.4 879.5v-33.4M2248.8 879.5v-11.6M2249.1 879.5v-15.0M2249.9 879.5v-4.1M2250.9 879.5v-4.5M2251.3 879.5v-9.9M2252.0 879.5v-9.1M2253.4 879.5v-7.9M2253.7 879.5v-3.6M2254.1 879.5v-6.4M2254.4 879.5v-4.0M2254.8 879.5v-5.9M2255.1 879.5v-21.5M2256.2 879.5v-3.5M2257.3 879.5v-6.1M2258.0 879.5v-3.8M2258.7 879.5v-23.9M2259.4 879.5v-13.9M2259.7 879.5v-9.4M2260.4 879.5v-9.8M2261.2 879.5v-18.6M2261.5 879.5v-2.9M2261.9 879.5v-5.1M2262.9 879.5v-5.9M2263.6 879.5v-15.4M2264.0 879.5v-3.2M2265.0 879.5v-6.3M2265.4 879.5v-1.2M2265.7 879.5v-4.4M2266.5 879.5v-13.6M2267.2 879.5v-8.3M2267.5 879.5v-3.4M2267.9 879.5v-7.5M2269.3 879.5v-11.8M2269.6 879.5v-18.6M2270.3 879.5v-11.7M2270.7 879.5v-7.0M2271.4 879.5v-2.2M2271.7 879.5v-7.6M2272.1 879.5v-10.5M2272.8 879.5v-4.3M2273.2 879.5v-2.3M2274.9 879.5v-2.7M2276.0 879.5v-18.6M2277.4 879.5v-3.7M2277.9 879.5v-21.7M2278.1 879.5v-7.3M2278.5 879.5v-5.0M2278.8 879.5v-3.8M2279.2 879.5v-4.0M2279.5 879.5v-7.4M2280.6 879.5v-8.5M2282.3 879.5v-1.9M2282.7 879.5v-3.5M2283.8 879.5v-5.9M2284.1 879.5v-2.9M2284.8 879.5v-8.6M2285.2 879.5v-8.2M2285.5 879.5v-4.7M2285.9 879.5v-16.0M2286.2 879.5v-2.9M2286.6 879.5v-1.4M2287.6 879.5v-7.6M2288.0 879.5v-1.5M2288.3 879.5v-3.5M2289.1 879.5v-18.0M2289.4 879.5v-14.2M2290.5 879.5v-1.6M2290.8 879.5v-3.8M2291.2 879.5v-8.4M2291.5 879.5v-5.6M2291.9 879.5v-5.3M2292.6 879.5v-3.9M2294.0 879.5v-9.3M2294.7 879.5v-3.4M2295.1 879.5v-11.0M2295.4 879.5v-16.2M2295.8 879.5v-5.4M2296.1 879.5v-5.2M2297.2 879.5v-4.9M2298.2 879.5v-4.9M2299.3 879.5v-18.2M2299.6 879.5v-15.5M2299.8 879.5v-42.3M2300.4 879.5v-23.6M2300.7 879.5v-3.0M2301.4 879.5v-12.8M2302.8 879.5v-37.2M2303.2 879.5v-50.2M2304.2 879.5v-11.5M2304.6 879.5v-26.4M2305.3 879.5v-8.5M2305.7 879.5v-21.7M2306.0 879.5v-11.3M2306.7 879.5v-13.8M2307.8 879.5v-12.2M2308.1 879.5v-7.2M2309.2 879.5v-2.4M2309.5 879.5v-7.0M2309.9 879.5v-4.0M2310.2 879.5v-9.7M2311.7 879.5v-8.3M2312.0 879.5v-37.2M2312.4 879.5v-10.4M2312.7 879.5v-17.9M2313.1 879.5v-37.2M2313.4 879.5v-6.4M2313.8 879.5v-2.7M2314.1 879.5v-19.9M2314.3 879.5v-60.0M2314.8 879.5v-4.6M2316.2 879.5v-15.9M2317.0 879.5v-8.8M2318.0 879.5v-11.4M2318.7 879.5v-34.6M2319.1 879.5v-37.2M2319.4 879.5v-4.2M2319.8 879.5v-3.8M2320.1 879.5v-16.2M2320.5 879.5v-5.1M2321.5 879.5v-11.3M2321.9 879.5v-4.5M2322.2 879.5v-11.9M2323.7 879.5v-17.6M2324.0 879.5v-2.0M2324.7 879.5v-11.3M2326.1 879.5v-10.4M2326.8 879.5v-6.0M2329.3 879.5v-11.6M2330.4 879.5v-28.0M2332.8 879.5v-6.9M2333.9 879.5v-12.1M2334.3 879.5v-12.3M2334.6 879.5v-8.3M2335.0 879.5v-9.5M2335.3 879.5v-9.3M2336.4 879.5v-14.6M2337.1 879.5v-10.7M2337.4 879.5v-2.3M2338.1 879.5v-21.4M2338.8 879.5v-28.9M2339.6 879.5v-8.2M2341.3 879.5v-15.3M2342.7 879.5v-1.9M2343.3 879.5v-27.8M2343.8 879.5v-26.9M2344.1 879.5v-4.1M2344.9 879.5v-12.9M2345.2 879.5v-12.1M2346.6 879.5v-8.1M2347.0 879.5v-9.1M2347.7 879.5v-3.6M2350.1 879.5v-15.5M2351.6 879.5v-6.3M2351.9 879.5v-8.9M2352.3 879.5v-11.9M2353.0 879.5v-12.5M2353.7 879.5v-3.5M2354.0 879.5v-8.0M2354.4 879.5v-61.3M2354.7 879.5v-2.0M2355.4 879.5v-3.6M2355.8 879.5v-23.2M2356.5 879.5v-6.6M2356.9 879.5v-4.3M2357.6 879.5v-4.6M2357.9 879.5v-12.0M2358.6 879.5v-8.1M2359.0 879.5v-7.8M2359.3 879.5v-4.8M2360.0 879.5v-4.5M2360.7 879.5v-9.2M2361.1 879.5v-19.7M2361.8 879.5v-8.3M2362.5 879.5v-5.4M2362.9 879.5v-3.2M2363.2 879.5v-14.7M2365.7 879.5v-6.8M2366.0 879.5v-8.7M2366.4 879.5v-7.2M2366.7 879.5v-3.5M2367.0 879.5v-44.1M2367.1 879.5v-8.8M2367.8 879.5v-4.3M2368.9 879.5v-11.9M2369.6 879.5v-12.2M2370.3 879.5v-3.3M2370.6 879.5v-3.8M2371.0 879.5v-26.8M2372.0 879.5v-10.3M2372.3 879.5v-26.5M2372.4 879.5v-3.5M2372.8 879.5v-3.4M2373.1 879.5v-7.8M2373.5 879.5v-26.6M2373.8 879.5v-17.7M2374.9 879.5v-12.5M2375.2 879.5v-11.4M2375.9 879.5v-7.3M2376.6 879.5v-1.9M2378.4 879.5v-1.1M2378.8 879.5v-1.3M2379.5 879.5v-1.9M2380.2 879.5v-2.1M2380.5 879.5v-1.0M2381.2 879.5v-1.0M2381.6 879.5v-1.0M2381.9 879.5v-1.8" stroke="#13975e" stroke-width="1.5" fill="none"/>
<path d="M613.6 879.5v16.0M671.9 879.5v12.7M690.3 879.5v4.8M760.8 879.5v83.2M766.9 879.5v1.0M770.3 879.5v3.2M771.5 879.5v1.0M772.9 879.5v1.0M774.3 879.5v1.0M776.8 879.5v1.0M787.4 879.5v1.0M790.9 879.5v1.0M791.7 879.5v1.0M792.4 879.5v9.1M798.0 879.5v1.0M801.5 879.5v1.0M801.9 879.5v1.0M803.3 879.5v1.0M807.9 879.5v1.0M813.9 879.5v1.0M827.0 879.5v1.0M827.7 879.5v1.0M836.0 879.5v4.3M839.0 879.5v1.0M842.9 879.5v1.0M847.5 879.5v1.0M855.6 879.5v1.0M856.3 879.5v1.0M861.6 879.5v1.0M864.1 879.5v1.0M870.1 879.5v1.0M870.4 879.5v1.0M875.0 879.5v1.0M876.4 879.5v1.0M879.9 879.5v1.9M880.7 879.5v1.0M881.0 879.5v1.0M882.4 879.5v3.0M884.2 879.5v1.3M886.3 879.5v1.2M886.7 879.5v2.0M887.4 879.5v1.0M887.7 879.5v2.6M889.5 879.5v1.6M896.2 879.5v2.6M898.0 879.5v2.3M901.1 879.5v1.1M901.5 879.5v2.7M901.8 879.5v5.1M902.2 879.5v2.4M902.5 879.5v1.8M902.9 879.5v4.0M903.6 879.5v5.7M904.0 879.5v2.4M904.3 879.5v7.1M904.7 879.5v4.3M905.4 879.5v9.2M905.7 879.5v6.6M906.4 879.5v1.6M906.8 879.5v3.4M907.1 879.5v3.4M907.8 879.5v8.9M908.2 879.5v1.3M908.6 879.5v1.2M908.9 879.5v2.6M910.0 879.5v6.8M912.1 879.5v2.6M912.8 879.5v6.3M913.1 879.5v12.1M913.5 879.5v2.0M913.8 879.5v2.1M914.2 879.5v3.3M915.3 879.5v1.2M917.0 879.5v1.9M917.4 879.5v1.7M917.7 879.5v7.0M918.4 879.5v4.4M920.4 879.5v32.8M920.6 879.5v5.5M921.3 879.5v2.4M922.0 879.5v3.7M922.7 879.5v3.1M923.0 879.5v9.3M924.4 879.5v3.3M924.8 879.5v17.0M925.9 879.5v8.1M927.6 879.5v8.8M928.0 879.5v3.4M928.3 879.5v4.4M928.7 879.5v1.4M929.0 879.5v22.2M929.4 879.5v6.0M929.7 879.5v5.3M930.1 879.5v11.5M930.4 879.5v7.1M931.5 879.5v9.0M932.2 879.5v5.0M932.6 879.5v2.2M933.3 879.5v1.7M933.6 879.5v5.5M934.0 879.5v3.3M934.7 879.5v6.4M936.4 879.5v4.5M936.7 879.5v31.5M937.5 879.5v25.4M938.2 879.5v2.5M938.9 879.5v25.9M939.3 879.5v24.8M940.0 879.5v3.3M940.3 879.5v6.8M940.7 879.5v6.6M941.0 879.5v7.9M941.7 879.5v14.9M943.2 879.5v14.5M945.4 879.5v34.1M945.6 879.5v8.7M946.0 879.5v5.6M946.3 879.5v4.2M946.7 879.5v3.4M948.1 879.5v12.4M948.5 879.5v11.7M948.8 879.5v7.0M949.2 879.5v12.3M950.6 879.5v30.0M950.9 879.5v1.4M951.6 879.5v3.8M952.0 879.5v2.6M952.3 879.5v12.0M953.0 879.5v3.3M954.1 879.5v3.2M954.8 879.5v31.5M955.5 879.5v2.9M955.9 879.5v3.8M958.0 879.5v22.9M958.3 879.5v26.1M958.7 879.5v7.2M959.1 879.5v13.5M959.4 879.5v18.5M959.8 879.5v6.0M960.7 879.5v53.9M962.6 879.5v11.2M964.0 879.5v5.3M964.7 879.5v2.1M965.1 879.5v11.9M965.4 879.5v22.4M966.1 879.5v36.3M966.8 879.5v6.9M968.9 879.5v8.5M969.3 879.5v13.4M969.6 879.5v4.4M970.4 879.5v3.4M970.7 879.5v9.8M971.1 879.5v2.9M971.4 879.5v19.0M971.8 879.5v2.3M971.8 879.5v40.7M972.5 879.5v8.3M973.2 879.5v10.2M974.2 879.5v3.7M974.9 879.5v6.0M976.4 879.5v19.3M976.7 879.5v17.8M978.5 879.5v17.1M978.8 879.5v13.2M979.7 879.5v27.5M980.6 879.5v3.2M981.3 879.5v1.4M981.7 879.5v3.8M983.4 879.5v18.0M983.8 879.5v10.6M984.1 879.5v7.0M985.2 879.5v18.5M985.5 879.5v6.8M986.2 879.5v22.6M986.6 879.5v16.7M987.3 879.5v13.5M988.4 879.5v7.2M988.7 879.5v7.9M989.4 879.5v10.0M990.1 879.5v3.0M990.5 879.5v13.4M991.9 879.5v13.1M993.0 879.5v4.5M995.4 879.5v6.5M996.5 879.5v5.6M996.8 879.5v16.0M997.2 879.5v12.3M997.5 879.5v6.0M997.9 879.5v5.4M998.6 879.5v6.1M999.0 879.5v6.5M999.3 879.5v26.7M999.7 879.5v6.6M1000.0 879.5v10.4M1000.4 879.5v3.9M1002.1 879.5v3.7M1002.5 879.5v5.0M1003.6 879.5v5.0M1005.0 879.5v8.3M1005.7 879.5v5.5M1006.0 879.5v2.9M1006.4 879.5v9.7M1006.7 879.5v4.1M1007.8 879.5v11.7M1009.6 879.5v5.4M1009.9 879.5v4.4M1010.6 879.5v22.9M1012.0 879.5v8.2M1012.7 879.5v2.6M1013.1 879.5v10.5M1013.8 879.5v14.4M1014.1 879.5v20.8M1014.5 879.5v9.8M1015.2 879.5v5.8M1015.6 879.5v2.3M1015.6 879.5v120.2M1015.9 879.5v10.0M1016.6 879.5v2.4M1017.7 879.5v7.6M1018.7 879.5v8.0M1020.1 879.5v10.8M1021.2 879.5v2.1M1021.9 879.5v3.6M1022.3 879.5v13.5M1022.6 879.5v2.5M1023.7 879.5v10.7M1024.7 879.5v10.1M1025.1 879.5v6.3M1025.4 879.5v20.4M1026.2 879.5v18.0M1027.6 879.5v13.0M1027.9 879.5v44.4M1027.9 879.5v28.4M1028.3 879.5v17.2M1029.3 879.5v16.9M1029.7 879.5v7.4M1030.4 879.5v5.9M1031.1 879.5v13.2M1031.5 879.5v4.5M1031.8 879.5v6.4M1032.2 879.5v29.0M1032.9 879.5v14.3M1033.2 879.5v25.5M1033.6 879.5v4.9M1034.3 879.5v1.0M1034.6 879.5v10.8M1035.0 879.5v1.4M1036.0 879.5v8.5M1036.4 879.5v15.1M1037.5 879.5v16.1M1037.8 879.5v9.6M1038.9 879.5v24.7M1039.2 879.5v22.1M1039.9 879.5v16.2M1041.7 879.5v4.8M1042.8 879.5v5.9M1043.1 879.5v15.7M1043.8 879.5v23.2M1044.5 879.5v4.1M1045.9 879.5v13.9M1046.3 879.5v4.2M1046.6 879.5v29.6M1047.3 879.5v7.2M1047.7 879.5v10.1M1048.0 879.5v7.3M1048.8 879.5v11.2M1049.1 879.5v1.3M1049.5 879.5v16.2M1049.8 879.5v18.9M1050.2 879.5v33.0M1050.4 879.5v72.1M1050.5 879.5v1.7M1050.9 879.5v11.7M1052.3 879.5v11.7M1053.0 879.5v15.9M1054.1 879.5v24.1M1055.1 879.5v7.4M1055.5 879.5v25.1M1055.8 879.5v3.2M1056.5 879.5v8.9M1058.3 879.5v29.3M1059.0 879.5v6.0M1060.1 879.5v9.3M1061.1 879.5v5.8M1062.9 879.5v76.5M1063.2 879.5v9.5M1063.9 879.5v5.3M1064.6 879.5v9.2M1065.0 879.5v3.2M1066.8 879.5v20.7M1067.5 879.5v3.2M1067.8 879.5v35.9M1068.5 879.5v14.6M1068.9 879.5v4.0M1069.6 879.5v10.4M1069.9 879.5v16.1M1072.1 879.5v4.4M1072.8 879.5v1.9M1073.1 879.5v11.0M1073.8 879.5v36.8M1074.2 879.5v36.8M1075.2 879.5v8.0M1076.3 879.5v7.0M1077.0 879.5v11.1M1077.4 879.5v5.3M1078.4 879.5v29.3M1078.8 879.5v5.2M1079.5 879.5v4.8M1079.8 879.5v29.9M1080.2 879.5v6.7M1081.2 879.5v15.8M1082.3 879.5v2.8M1083.4 879.5v3.0M1084.1 879.5v38.2M1084.8 879.5v15.5M1085.5 879.5v12.4M1088.3 879.5v20.4M1090.4 879.5v12.2M1091.1 879.5v11.8M1094.3 879.5v25.0M1094.7 879.5v6.6M1095.0 879.5v10.5M1095.7 879.5v7.6M1097.1 879.5v7.8M1097.9 879.5v50.2M1098.2 879.5v16.5M1098.9 879.5v31.6M1099.6 879.5v10.6M1100.0 879.5v41.8M1100.3 879.5v10.4M1100.7 879.5v7.9M1101.0 879.5v28.4M1101.4 879.5v18.2M1102.1 879.5v13.2M1102.4 879.5v7.6M1104.2 879.5v14.8M1104.6 879.5v19.3M1105.3 879.5v6.5M1105.6 879.5v6.0M1106.7 879.5v13.4M1107.0 879.5v10.3M1107.7 879.5v19.3M1108.1 879.5v19.1M1108.8 879.5v39.4M1109.9 879.5v7.0M1111.6 879.5v12.1M1112.3 879.5v1.8M1112.7 879.5v2.9M1113.4 879.5v7.3M1113.7 879.5v12.1M1114.4 879.5v6.7M1115.9 879.5v21.5M1116.0 879.5v54.6M1116.9 879.5v19.2M1117.6 879.5v10.9M1118.0 879.5v27.7M1118.7 879.5v5.4M1119.0 879.5v16.1M1120.4 879.5v7.6M1120.8 879.5v36.5M1122.6 879.5v4.3M1122.9 879.5v13.3M1124.3 879.5v29.0M1124.7 879.5v12.4M1126.1 879.5v7.7M1126.8 879.5v35.0M1127.2 879.5v2.1M1127.5 879.5v6.0M1128.5 879.5v54.6M1128.6 879.5v15.6M1128.9 879.5v34.5M1129.3 879.5v3.7M1130.0 879.5v2.8M1130.7 879.5v27.2M1131.0 879.5v10.8M1131.7 879.5v5.3M1133.5 879.5v6.2M1133.9 879.5v1.2M1134.2 879.5v2.5M1134.6 879.5v9.7M1135.6 879.5v12.3M1136.0 879.5v6.5M1136.7 879.5v16.6M1137.8 879.5v18.5M1138.8 879.5v14.3M1139.2 879.5v11.6M1139.5 879.5v1.0M1140.2 879.5v10.6M1140.6 879.5v2.3M1140.9 879.5v6.5M1141.6 879.5v8.0M1142.3 879.5v5.1M1142.7 879.5v2.7M1143.0 879.5v3.1M1143.4 879.5v26.8M1143.8 879.5v1.2M1144.1 879.5v7.4M1144.6 879.5v44.4M1145.2 879.5v3.1M1147.3 879.5v5.7M1149.1 879.5v13.0M1149.4 879.5v21.0M1150.1 879.5v3.7M1150.5 879.5v21.2M1150.8 879.5v8.9M1152.2 879.5v7.6M1154.7 879.5v27.8M1155.1 879.5v7.1M1155.4 879.5v17.6M1156.5 879.5v6.8M1158.2 879.5v4.5M1158.6 879.5v5.4M1158.9 879.5v8.6M1160.0 879.5v5.5M1160.4 879.5v13.3M1160.7 879.5v9.9M1161.4 879.5v2.8M1162.1 879.5v7.6M1162.5 879.5v11.8M1162.8 879.5v23.0M1163.2 879.5v1.7M1165.7 879.5v27.2M1166.4 879.5v7.4M1166.7 879.5v1.7M1167.4 879.5v6.1M1167.8 879.5v2.3M1169.2 879.5v5.9M1169.5 879.5v6.5M1170.2 879.5v21.0M1170.6 879.5v18.3M1171.7 879.5v13.4M1173.1 879.5v5.4M1173.8 879.5v26.7M1174.1 879.5v11.3M1174.5 879.5v10.9M1174.8 879.5v8.3M1175.2 879.5v15.8M1175.5 879.5v2.6M1175.9 879.5v4.2M1176.6 879.5v4.7M1177.0 879.5v8.0M1177.3 879.5v5.0M1179.4 879.5v12.9M1179.8 879.5v10.0M1180.8 879.5v1.1M1182.6 879.5v3.4M1184.7 879.5v2.4M1185.8 879.5v7.0M1186.5 879.5v4.4M1186.8 879.5v7.5M1187.9 879.5v19.3M1188.6 879.5v16.3M1189.0 879.5v13.7M1189.7 879.5v4.3M1189.8 879.5v53.2M1190.4 879.5v8.0M1191.1 879.5v12.2M1191.8 879.5v29.6M1192.1 879.5v9.9M1192.5 879.5v8.5M1193.6 879.5v6.4M1194.3 879.5v31.5M1194.6 879.5v9.2M1195.3 879.5v8.3M1196.4 879.5v5.4M1196.7 879.5v17.6M1197.1 879.5v13.2M1197.8 879.5v10.2M1198.1 879.5v15.9M1199.2 879.5v22.9M1200.3 879.5v8.3M1200.6 879.5v7.7M1201.0 879.5v8.2M1201.3 879.5v7.4M1203.1 879.5v7.4M1203.8 879.5v5.0M1204.5 879.5v4.1M1205.2 879.5v1.1M1205.9 879.5v11.3M1206.3 879.5v4.9M1206.6 879.5v3.7M1207.3 879.5v47.3M1207.7 879.5v36.7M1208.7 879.5v8.5M1209.1 879.5v13.0M1211.2 879.5v18.7M1212.3 879.5v20.8M1213.0 879.5v18.9M1213.3 879.5v3.7M1214.0 879.5v5.2M1214.4 879.5v6.7M1214.7 879.5v16.4M1215.1 879.5v16.0M1215.8 879.5v10.3M1216.2 879.5v51.2M1216.9 879.5v1.9M1217.9 879.5v26.6M1218.3 879.5v12.3M1219.3 879.5v52.9M1219.7 879.5v56.5M1220.4 879.5v3.2M1221.5 879.5v30.0M1221.8 879.5v13.7M1222.5 879.5v16.6M1222.9 879.5v13.0M1223.9 879.5v15.5M1224.3 879.5v3.8M1226.0 879.5v24.7M1226.7 879.5v58.1M1227.1 879.5v13.2M1227.5 879.5v10.7M1229.1 879.5v54.6M1230.3 879.5v3.0M1231.0 879.5v24.5M1231.7 879.5v25.4M1232.0 879.5v12.2M1233.8 879.5v32.9M1234.2 879.5v14.6M1235.2 879.5v17.6M1235.9 879.5v21.4M1236.3 879.5v8.4M1236.6 879.5v7.4M1237.0 879.5v29.7M1237.3 879.5v17.7M1238.4 879.5v5.8M1239.5 879.5v10.5M1239.8 879.5v15.2M1240.9 879.5v14.3M1241.6 879.5v40.5M1241.9 879.5v13.6M1243.7 879.5v70.7M1244.1 879.5v10.1M1244.4 879.5v9.0M1244.8 879.5v6.8M1246.9 879.5v37.4M1247.2 879.5v10.7M1247.9 879.5v13.5M1248.3 879.5v19.7M1249.0 879.5v14.8M1249.3 879.5v45.2M1249.7 879.5v24.2M1250.1 879.5v58.0M1250.4 879.5v11.0M1250.8 879.5v9.2M1251.1 879.5v3.9M1251.8 879.5v57.0M1252.5 879.5v28.6M1252.9 879.5v20.8M1253.2 879.5v71.5M1253.6 879.5v5.1M1253.9 879.5v41.6M1254.3 879.5v19.5M1255.4 879.5v130.5M1256.1 879.5v4.4M1258.2 879.5v30.1M1259.2 879.5v58.9M1259.6 879.5v24.1M1259.9 879.5v17.3M1260.7 879.5v42.1M1262.8 879.5v20.0M1264.2 879.5v21.8M1264.5 879.5v11.3M1264.9 879.5v28.6M1265.6 879.5v5.9M1266.7 879.5v5.8M1267.0 879.5v29.3M1267.4 879.5v9.4M1268.1 879.5v12.9M1268.4 879.5v61.5M1268.8 879.5v18.8M1269.1 879.5v19.6M1269.4 879.5v102.7M1269.5 879.5v8.0M1269.8 879.5v36.4M1270.5 879.5v26.2M1270.9 879.5v48.1M1271.2 879.5v16.6M1271.6 879.5v7.7M1272.0 879.5v11.3M1272.3 879.5v15.4M1272.7 879.5v8.6M1273.4 879.5v23.7M1273.7 879.5v21.1M1274.1 879.5v36.5M1274.4 879.5v36.1M1275.1 879.5v55.8M1275.5 879.5v48.0M1275.8 879.5v72.7M1276.2 879.5v13.7M1276.5 879.5v41.7M1276.9 879.5v27.0M1277.2 879.5v34.8M1278.7 879.5v98.4M1279.0 879.5v48.6M1280.1 879.5v23.5M1281.5 879.5v19.3M1281.8 879.5v60.3M1282.2 879.5v39.3M1282.9 879.5v8.7M1283.3 879.5v19.2M1283.6 879.5v47.4M1284.3 879.5v27.4M1284.7 879.5v11.8M1285.4 879.5v69.8M1286.8 879.5v10.7M1287.5 879.5v26.2M1287.5 879.5v67.7M1288.2 879.5v16.3M1290.0 879.5v39.1M1290.3 879.5v16.3M1290.7 879.5v40.6M1291.4 879.5v25.4M1292.1 879.5v24.5M1293.1 879.5v6.5M1293.5 879.5v27.1M1293.8 879.5v31.7M1294.2 879.5v8.4M1294.9 879.5v29.2M1295.6 879.5v8.0M1296.0 879.5v4.6M1297.0 879.5v18.5M1297.4 879.5v9.0M1298.1 879.5v26.2M1298.4 879.5v25.0M1298.8 879.5v30.5M1299.1 879.5v61.9M1299.9 879.5v3.5M1301.3 879.5v20.5M1301.6 879.5v13.0M1303.7 879.5v16.2M1304.1 879.5v63.3M1305.1 879.5v25.7M1305.5 879.5v36.2M1306.2 879.5v4.0M1307.3 879.5v4.1M1307.6 879.5v9.1M1308.0 879.5v9.6M1308.7 879.5v41.2M1309.3 879.5v69.2M1309.7 879.5v7.8M1310.4 879.5v4.8M1311.5 879.5v13.9M1311.9 879.5v38.0M1312.9 879.5v7.2M1313.3 879.5v5.2M1314.0 879.5v16.6M1315.4 879.5v40.0M1315.7 879.5v58.7M1317.2 879.5v45.1M1317.5 879.5v6.0M1318.2 879.5v8.2M1318.6 879.5v8.4M1319.3 879.5v36.0M1319.6 879.5v27.4M1321.4 879.5v26.1M1322.8 879.5v28.2M1323.9 879.5v4.1M1324.2 879.5v25.7M1324.9 879.5v51.5M1326.7 879.5v35.4M1327.0 879.5v5.6M1327.4 879.5v18.5M1328.5 879.5v13.9M1328.8 879.5v3.3M1329.5 879.5v7.5M1330.9 879.5v3.5M1332.7 879.5v11.0M1334.1 879.5v41.2M1334.8 879.5v14.1M1335.5 879.5v2.5M1337.6 879.5v5.7M1338.3 879.5v10.3M1338.7 879.5v4.1M1339.8 879.5v1.9M1340.1 879.5v9.2M1340.5 879.5v8.0M1342.2 879.5v5.3M1343.3 879.5v37.3M1343.6 879.5v7.9M1344.0 879.5v16.1M1345.1 879.5v23.8M1345.4 879.5v4.1M1345.8 879.5v11.9M1346.8 879.5v11.5M1347.2 879.5v20.3M1347.5 879.5v2.0M1348.6 879.5v8.0M1349.3 879.5v9.5M1350.4 879.5v9.4M1351.1 879.5v12.8M1352.8 879.5v4.7M1353.1 879.5v51.7M1353.9 879.5v4.4M1354.2 879.5v12.4M1354.6 879.5v25.4M1356.4 879.5v1.0M1357.1 879.5v20.5M1357.8 879.5v30.8M1358.8 879.5v20.3M1358.9 879.5v59.0M1359.2 879.5v3.2M1359.5 879.5v5.9M1359.9 879.5v2.9M1360.2 879.5v7.9M1360.9 879.5v35.1M1361.7 879.5v35.2M1365.2 879.5v4.9M1366.6 879.5v6.1M1367.0 879.5v4.5M1368.0 879.5v9.1M1368.4 879.5v12.7M1369.1 879.5v7.2M1369.4 879.5v15.1M1369.8 879.5v30.0M1370.1 879.5v7.6M1370.5 879.5v5.2M1370.8 879.5v4.1M1371.5 879.5v8.7M1371.9 879.5v12.1M1372.2 879.5v5.7M1372.6 879.5v2.2M1373.3 879.5v9.5M1374.4 879.5v7.8M1374.7 879.5v27.6M1376.1 879.5v2.9M1376.8 879.5v14.6M1378.3 879.5v14.2M1379.3 879.5v6.2M1379.7 879.5v1.6M1380.0 879.5v10.7M1380.4 879.5v6.7M1381.1 879.5v2.1M1381.4 879.5v11.0M1381.8 879.5v7.3M1382.5 879.5v4.8M1382.8 879.5v3.7M1383.2 879.5v6.7M1383.6 879.5v13.8M1383.9 879.5v2.9M1386.7 879.5v3.9M1387.1 879.5v16.1M1387.4 879.5v7.1M1389.2 879.5v5.1M1389.5 879.5v47.3M1389.9 879.5v3.5M1390.5 879.5v45.3M1391.0 879.5v4.0M1391.3 879.5v8.5M1392.4 879.5v8.6M1392.7 879.5v6.3M1393.1 879.5v18.0M1393.4 879.5v3.3M1394.9 879.5v3.0M1395.9 879.5v5.9M1396.6 879.5v8.4M1398.4 879.5v6.3M1398.7 879.5v12.4M1399.1 879.5v6.0M1399.4 879.5v8.5M1400.1 879.5v5.9M1400.5 879.5v4.5M1401.6 879.5v11.7M1401.9 879.5v2.6M1404.0 879.5v8.3M1404.4 879.5v3.9M1405.4 879.5v7.7M1405.8 879.5v5.4M1406.5 879.5v18.6M1407.2 879.5v3.8M1407.6 879.5v1.7M1409.2 879.5v34.3M1410.0 879.5v13.3M1410.4 879.5v7.8M1411.1 879.5v4.3M1411.5 879.5v22.9M1411.8 879.5v13.0M1412.2 879.5v3.3M1412.5 879.5v1.2M1412.9 879.5v7.5M1413.2 879.5v14.1M1413.9 879.5v4.1M1414.3 879.5v1.7M1416.4 879.5v15.0M1417.1 879.5v9.9M1418.2 879.5v3.4M1418.9 879.5v20.5M1419.2 879.5v4.0M1419.6 879.5v6.9M1420.3 879.5v4.5M1420.6 879.5v14.0M1421.0 879.5v7.1M1422.0 879.5v20.2M1423.1 879.5v25.5M1424.5 879.5v11.0M1424.9 879.5v18.6M1425.9 879.5v6.9M1427.7 879.5v15.8M1429.1 879.5v13.4M1430.5 879.5v12.8M1430.7 879.5v77.4M1430.9 879.5v1.1M1431.2 879.5v4.3M1431.9 879.5v4.1M1432.3 879.5v7.5M1433.0 879.5v4.0M1433.7 879.5v5.8M1434.1 879.5v5.8M1434.4 879.5v10.0M1434.8 879.5v22.4M1435.1 879.5v17.9M1435.8 879.5v11.2M1436.2 879.5v14.6M1436.5 879.5v23.5M1436.9 879.5v3.9M1437.6 879.5v5.5M1437.9 879.5v8.6M1439.3 879.5v6.9M1439.7 879.5v3.9M1441.5 879.5v1.0M1442.2 879.5v3.0M1443.2 879.5v6.8M1444.3 879.5v4.7M1445.0 879.5v1.3M1445.4 879.5v5.9M1445.7 879.5v6.9M1446.4 879.5v16.8M1447.5 879.5v26.6M1447.8 879.5v6.5M1448.9 879.5v3.9M1449.6 879.5v8.5M1450.3 879.5v4.6M1451.0 879.5v13.4M1452.1 879.5v8.9M1452.8 879.5v8.3M1453.5 879.5v2.0M1453.8 879.5v7.8M1454.2 879.5v6.8M1455.2 879.5v2.1M1455.9 879.5v18.2M1456.3 879.5v2.0M1456.7 879.5v18.7M1457.4 879.5v26.6M1457.7 879.5v6.8M1458.1 879.5v12.0M1458.4 879.5v7.2M1458.8 879.5v4.9M1459.1 879.5v11.4M1459.5 879.5v26.6M1459.8 879.5v8.4M1460.5 879.5v8.3M1461.2 879.5v14.0M1461.6 879.5v17.0M1462.0 879.5v4.0M1462.3 879.5v13.3M1463.4 879.5v4.3M1464.1 879.5v4.7M1464.2 879.5v85.1M1464.4 879.5v7.8M1465.8 879.5v9.5M1466.2 879.5v2.7M1466.5 879.5v26.6M1467.2 879.5v2.7M1468.0 879.5v26.6M1469.7 879.5v6.1M1470.8 879.5v3.9M1471.8 879.5v7.8M1472.5 879.5v8.7M1473.3 879.5v4.8M1474.0 879.5v3.4M1474.7 879.5v1.6M1475.0 879.5v3.7M1476.1 879.5v9.1M1476.4 879.5v16.2M1476.8 879.5v1.3M1477.1 879.5v4.7M1477.5 879.5v11.1M1477.8 879.5v5.8M1478.2 879.5v4.5M1478.6 879.5v26.6M1478.9 879.5v7.8M1479.3 879.5v2.2M1479.6 879.5v3.5M1480.7 879.5v5.5M1481.0 879.5v9.2M1481.7 879.5v4.5M1482.8 879.5v8.4M1483.8 879.5v13.7M1484.2 879.5v4.8M1484.9 879.5v14.1M1485.3 879.5v2.0M1485.6 879.5v24.2M1486.3 879.5v5.8M1486.7 879.5v22.9M1487.7 879.5v3.4M1488.1 879.5v6.7M1490.2 879.5v13.5M1490.6 879.5v16.7M1490.9 879.5v7.2M1491.3 879.5v4.0M1492.0 879.5v9.4M1492.3 879.5v27.3M1492.7 879.5v26.5M1493.7 879.5v13.3M1494.1 879.5v2.0M1494.4 879.5v6.1M1494.8 879.5v6.8M1495.4 879.5v66.9M1496.2 879.5v7.1M1496.6 879.5v6.6M1496.9 879.5v5.8M1497.3 879.5v13.6M1498.0 879.5v2.6M1499.4 879.5v5.1M1500.1 879.5v12.1M1500.8 879.5v5.1M1501.9 879.5v23.9M1502.6 879.5v10.3M1504.0 879.5v6.5M1504.7 879.5v8.0M1505.0 879.5v15.0M1506.1 879.5v14.3M1507.2 879.5v5.0M1507.5 879.5v34.2M1508.3 879.5v222.5M1508.6 879.5v3.0M1508.9 879.5v24.3M1512.1 879.5v3.1M1513.2 879.5v3.7M1513.5 879.5v7.4M1513.9 879.5v34.2M1514.6 879.5v4.9M1514.9 879.5v5.9M1515.6 879.5v10.5M1516.0 879.5v3.5M1516.3 879.5v1.5M1516.7 879.5v14.9M1517.8 879.5v2.1M1518.1 879.5v16.5M1518.8 879.5v6.6M1519.2 879.5v34.2M1519.5 879.5v1.4M1520.2 879.5v3.8M1521.6 879.5v11.2M1522.3 879.5v2.1M1522.7 879.5v19.0M1524.8 879.5v3.9M1525.2 879.5v1.3M1525.9 879.5v7.0M1526.6 879.5v3.4M1527.3 879.5v3.8M1528.0 879.5v14.0M1529.1 879.5v7.6M1529.4 879.5v10.6M1529.8 879.5v110.9M1530.1 879.5v3.6M1530.5 879.5v5.0M1530.8 879.5v3.5M1531.2 879.5v10.3M1531.5 879.5v4.6M1532.2 879.5v2.1M1532.9 879.5v8.4M1533.3 879.5v9.4M1533.6 879.5v4.8M1535.8 879.5v9.6M1536.1 879.5v6.1M1536.5 879.5v3.1M1536.8 879.5v3.2M1537.2 879.5v3.7M1538.6 879.5v4.8M1539.3 879.5v6.7M1540.0 879.5v2.3M1540.7 879.5v13.4M1541.4 879.5v13.6M1541.8 879.5v1.9M1543.5 879.5v3.4M1544.2 879.5v2.5M1544.9 879.5v4.0M1545.7 879.5v3.0M1546.0 879.5v16.9M1546.7 879.5v9.8M1547.8 879.5v4.5M1548.8 879.5v17.7M1549.2 879.5v5.8M1550.2 879.5v8.7M1551.7 879.5v9.5M1552.0 879.5v3.5M1553.8 879.5v19.1M1554.1 879.5v5.8M1554.3 879.5v379.6M1554.5 879.5v3.1M1554.8 879.5v4.7M1555.9 879.5v3.0M1556.6 879.5v7.9M1557.0 879.5v17.4M1557.3 879.5v4.3M1557.7 879.5v5.4M1558.4 879.5v19.0M1558.7 879.5v2.4M1559.1 879.5v5.7M1559.8 879.5v5.1M1560.8 879.5v14.0M1561.5 879.5v14.3M1561.9 879.5v10.6M1562.2 879.5v28.5M1563.0 879.5v13.7M1563.3 879.5v5.7M1564.0 879.5v5.1M1564.4 879.5v4.4M1565.3 879.5v67.8M1565.4 879.5v11.1M1566.1 879.5v21.1M1566.5 879.5v8.5M1567.5 879.5v5.6M1568.3 879.5v3.6M1569.3 879.5v11.1M1570.0 879.5v6.2M1571.1 879.5v4.8M1571.8 879.5v26.6M1573.9 879.5v5.6M1574.3 879.5v14.6M1574.6 879.5v9.4M1575.7 879.5v19.4M1576.0 879.5v3.3M1577.1 879.5v7.2M1578.5 879.5v6.2M1578.8 879.5v1.6M1579.2 879.5v6.5M1579.9 879.5v6.5M1580.6 879.5v5.4M1581.0 879.5v12.9M1581.7 879.5v5.8M1582.0 879.5v9.7M1582.4 879.5v28.5M1582.7 879.5v4.7M1583.1 879.5v10.1M1583.4 879.5v12.7M1584.5 879.5v14.2M1585.2 879.5v18.0M1585.9 879.5v21.3M1586.6 879.5v4.5M1587.0 879.5v19.3M1587.3 879.5v16.5M1587.7 879.5v8.7M1588.4 879.5v5.8M1588.7 879.5v28.5M1590.5 879.5v3.3M1590.9 879.5v6.6M1591.9 879.5v2.0M1592.3 879.5v2.8M1592.6 879.5v10.5M1595.8 879.5v10.3M1596.5 879.5v29.8M1596.9 879.5v11.1M1597.6 879.5v13.4M1598.6 879.5v2.5M1599.7 879.5v22.9M1600.0 879.5v18.1M1600.4 879.5v7.4M1600.7 879.5v21.2M1601.1 879.5v4.6M1602.5 879.5v4.6M1603.6 879.5v17.8M1604.6 879.5v8.8M1605.3 879.5v9.1M1608.5 879.5v7.8M1608.9 879.5v8.3M1609.6 879.5v8.6M1609.9 879.5v31.7M1610.6 879.5v8.7M1611.3 879.5v7.7M1612.0 879.5v9.5M1612.4 879.5v3.3M1613.5 879.5v26.7M1613.8 879.5v3.5M1614.2 879.5v3.4M1615.2 879.5v5.4M1615.9 879.5v3.0M1616.3 879.5v6.5M1617.7 879.5v14.4M1618.4 879.5v6.7M1619.5 879.5v4.1M1620.2 879.5v12.4M1620.5 879.5v30.2M1620.9 879.5v18.7M1621.9 879.5v9.0M1622.6 879.5v3.6M1623.3 879.5v27.3M1624.4 879.5v3.7M1624.8 879.5v7.9M1625.5 879.5v38.0M1625.8 879.5v6.1M1626.2 879.5v7.2M1626.9 879.5v6.2M1627.6 879.5v15.1M1627.9 879.5v12.2M1628.6 879.5v6.2M1629.0 879.5v1.0M1630.1 879.5v6.2M1630.4 879.5v5.7M1631.1 879.5v12.2M1631.5 879.5v28.1M1631.8 879.5v37.1M1632.2 879.5v8.0M1632.5 879.5v20.1M1632.9 879.5v5.0M1634.3 879.5v6.2M1634.6 879.5v2.9M1635.7 879.5v38.0M1636.1 879.5v15.2M1636.8 879.5v7.9M1637.1 879.5v38.0M1637.8 879.5v8.8M1638.2 879.5v6.5M1638.5 879.5v6.1M1638.9 879.5v5.9M1639.6 879.5v15.1M1640.7 879.5v14.7M1641.0 879.5v15.1M1641.4 879.5v8.9M1641.9 879.5v95.6M1642.1 879.5v11.6M1642.8 879.5v11.8M1643.1 879.5v23.5M1643.5 879.5v3.3M1644.9 879.5v4.0M1645.9 879.5v14.2M1646.3 879.5v25.3M1646.7 879.5v2.5M1647.0 879.5v6.3M1647.4 879.5v14.9M1647.7 879.5v29.5M1648.1 879.5v30.7M1649.5 879.5v5.8M1650.2 879.5v7.4M1650.9 879.5v2.6M1651.2 879.5v5.9M1652.3 879.5v20.9M1653.0 879.5v7.4M1653.7 879.5v9.9M1654.1 879.5v6.0M1655.5 879.5v4.7M1655.8 879.5v7.9M1657.2 879.5v8.2M1657.6 879.5v12.5M1659.7 879.5v39.5M1660.1 879.5v39.5M1660.4 879.5v12.7M1661.1 879.5v34.6M1661.5 879.5v9.4M1662.5 879.5v18.3M1662.9 879.5v16.9M1663.3 879.5v23.5M1665.4 879.5v9.2M1665.7 879.5v6.9M1666.1 879.5v5.5M1666.8 879.5v2.5M1667.1 879.5v24.5M1667.5 879.5v23.7M1668.2 879.5v9.7M1669.3 879.5v10.1M1669.6 879.5v40.4M1671.0 879.5v12.4M1671.4 879.5v7.8M1672.4 879.5v3.3M1673.1 879.5v6.3M1673.5 879.5v6.2M1673.8 879.5v24.9M1675.9 879.5v69.3M1676.0 879.5v12.0M1677.0 879.5v9.8M1678.1 879.5v9.3M1679.1 879.5v9.0M1680.6 879.5v3.5M1680.9 879.5v8.7M1681.3 879.5v18.2M1682.0 879.5v13.0M1682.3 879.5v11.3M1682.7 879.5v7.0M1683.0 879.5v31.2M1684.4 879.5v17.2M1685.0 879.5v83.6M1685.1 879.5v9.1M1685.5 879.5v14.0M1685.9 879.5v11.2M1686.9 879.5v23.6M1687.3 879.5v10.9M1688.3 879.5v13.8M1689.0 879.5v16.9M1690.4 879.5v9.8M1691.2 879.5v37.0M1691.5 879.5v24.6M1691.7 879.5v141.1M1692.6 879.5v14.5M1692.9 879.5v12.1M1694.3 879.5v25.3M1696.1 879.5v53.3M1696.5 879.5v46.2M1696.8 879.5v22.0M1697.2 879.5v10.8M1698.2 879.5v29.0M1698.6 879.5v14.0M1698.9 879.5v10.4M1699.3 879.5v26.8M1700.0 879.5v28.1M1701.4 879.5v19.3M1701.7 879.5v16.8M1702.1 879.5v21.0M1702.5 879.5v9.0M1702.8 879.5v12.6M1703.5 879.5v20.2M1704.2 879.5v12.2M1704.9 879.5v28.4M1707.8 879.5v11.2M1708.1 879.5v15.6M1708.5 879.5v6.0M1709.2 879.5v17.4M1709.5 879.5v22.1M1709.9 879.5v98.0M1710.9 879.5v2.9M1712.8 879.5v120.5M1713.4 879.5v57.0M1714.1 879.5v19.8M1714.8 879.5v44.2M1715.2 879.5v5.2M1717.3 879.5v29.4M1718.0 879.5v8.8M1718.7 879.5v6.6M1719.4 879.5v53.6M1719.8 879.5v12.2M1720.1 879.5v26.8M1720.5 879.5v5.2M1721.5 879.5v13.0M1721.9 879.5v5.2M1722.2 879.5v57.0M1722.6 879.5v6.8M1722.9 879.5v4.6M1723.6 879.5v32.4M1724.3 879.5v2.6M1725.4 879.5v2.3M1726.1 879.5v5.3M1727.9 879.5v20.3M1728.6 879.5v44.5M1728.9 879.5v21.5M1729.3 879.5v16.8M1730.0 879.5v36.5M1730.4 879.5v10.7M1730.7 879.5v9.5M1731.1 879.5v24.2M1732.0 879.5v135.4M1732.1 879.5v21.6M1734.6 879.5v50.7M1736.4 879.5v21.4M1736.7 879.5v6.3M1737.4 879.5v12.6M1738.1 879.5v44.4M1738.5 879.5v26.5M1739.2 879.5v28.5M1740.2 879.5v26.1M1740.9 879.5v19.3M1742.0 879.5v23.5M1743.4 879.5v5.0M1744.1 879.5v53.1M1744.5 879.5v15.9M1744.8 879.5v8.9M1745.5 879.5v6.5M1745.9 879.5v51.4M1746.2 879.5v21.9M1747.0 879.5v5.8M1747.7 879.5v7.5M1748.0 879.5v4.1M1748.7 879.5v6.8M1749.4 879.5v19.3M1750.5 879.5v3.0M1750.8 879.5v21.9M1751.9 879.5v22.6M1752.6 879.5v15.6M1753.0 879.5v17.7M1753.3 879.5v18.2M1754.4 879.5v9.1M1754.7 879.5v5.0M1755.4 879.5v3.6M1756.1 879.5v6.5M1756.8 879.5v20.2M1757.5 879.5v2.3M1759.0 879.5v39.0M1759.3 879.5v14.5M1760.4 879.5v20.0M1760.7 879.5v19.0M1761.1 879.5v6.6M1762.5 879.5v4.8M1763.6 879.5v3.6M1763.9 879.5v12.2M1764.3 879.5v6.2M1765.0 879.5v12.6M1766.4 879.5v8.6M1766.7 879.5v9.9M1767.1 879.5v9.1M1767.8 879.5v5.9M1768.5 879.5v4.2M1768.8 879.5v26.5M1769.2 879.5v5.8M1769.6 879.5v35.7M1769.9 879.5v6.7M1770.6 879.5v12.4M1771.3 879.5v5.8M1772.0 879.5v14.6M1773.4 879.5v14.6M1774.5 879.5v5.1M1775.6 879.5v3.9M1776.3 879.5v8.0M1776.6 879.5v19.0M1777.0 879.5v7.2M1777.3 879.5v8.2M1777.7 879.5v5.8M1779.4 879.5v24.8M1780.1 879.5v7.1M1780.5 879.5v10.2M1781.2 879.5v17.8M1783.0 879.5v7.6M1784.0 879.5v9.3M1785.6 879.5v156.9M1786.2 879.5v10.7M1787.6 879.5v3.6M1787.9 879.5v8.2M1788.3 879.5v7.6M1789.3 879.5v6.4M1789.7 879.5v5.2M1790.0 879.5v3.3M1790.4 879.5v7.5M1790.7 879.5v11.7M1791.5 879.5v5.6M1792.2 879.5v6.3M1792.5 879.5v28.5M1792.9 879.5v3.5M1793.2 879.5v13.0M1793.6 879.5v6.3M1793.9 879.5v6.8M1794.3 879.5v4.6M1794.6 879.5v15.3M1795.1 879.5v80.7M1795.3 879.5v2.4M1795.7 879.5v6.4M1796.0 879.5v10.7M1796.1 879.5v80.3M1796.7 879.5v4.6M1797.1 879.5v4.8M1797.5 879.5v4.3M1798.2 879.5v28.5M1800.3 879.5v156.2M1801.3 879.5v28.5M1801.7 879.5v2.8M1802.4 879.5v5.4M1802.8 879.5v2.6M1803.5 879.5v5.0M1803.9 879.5v98.6M1804.5 879.5v5.0M1805.6 879.5v13.2M1806.3 879.5v3.6M1807.0 879.5v6.6M1807.0 879.5v347.0M1807.3 879.5v4.1M1807.7 879.5v15.1M1808.0 879.5v2.2M1808.4 879.5v6.2M1808.8 879.5v14.6M1809.5 879.5v7.2M1810.5 879.5v21.5M1811.2 879.5v3.6M1812.6 879.5v13.0M1813.3 879.5v10.1M1813.7 879.5v8.2M1814.4 879.5v4.9M1817.2 879.5v29.4M1817.6 879.5v1.1M1817.9 879.5v6.6M1818.6 879.5v13.7M1819.3 879.5v9.0M1819.8 879.5v47.2M1820.1 879.5v16.4M1820.4 879.5v15.9M1820.8 879.5v7.4M1821.1 879.5v29.7M1821.5 879.5v1.0M1822.2 879.5v12.3M1822.5 879.5v10.4M1823.2 879.5v11.1M1826.8 879.5v3.6M1827.1 879.5v2.3M1828.5 879.5v5.7M1828.9 879.5v9.9M1829.9 879.5v4.7M1830.3 879.5v27.8M1831.4 879.5v4.0M1831.7 879.5v9.5M1832.1 879.5v4.9M1832.4 879.5v6.5M1833.5 879.5v8.2M1833.8 879.5v7.4M1834.5 879.5v4.8M1834.9 879.5v30.8M1835.9 879.5v27.6M1836.3 879.5v30.9M1836.7 879.5v6.6M1837.0 879.5v6.6M1837.4 879.5v10.6M1838.1 879.5v4.1M1839.1 879.5v31.2M1840.2 879.5v3.6M1841.2 879.5v3.5M1842.0 879.5v16.1M1842.3 879.5v7.6M1842.7 879.5v14.9M1843.4 879.5v12.7M1844.8 879.5v5.4M1845.1 879.5v5.4M1845.5 879.5v12.5M1846.2 879.5v31.7M1847.6 879.5v11.5M1848.7 879.5v11.0M1849.0 879.5v12.7M1849.4 879.5v7.3M1850.1 879.5v11.5M1851.1 879.5v17.4M1851.5 879.5v10.3M1851.8 879.5v8.0M1852.5 879.5v17.1M1853.3 879.5v9.0M1853.6 879.5v10.9M1854.7 879.5v15.3M1855.7 879.5v2.8M1856.1 879.5v32.5M1857.1 879.5v9.4M1857.5 879.5v1.9M1858.9 879.5v19.8M1859.6 879.5v5.8M1861.7 879.5v18.2M1863.1 879.5v9.9M1864.2 879.5v7.1M1864.9 879.5v7.1M1865.6 879.5v11.9M1866.0 879.5v10.0M1866.3 879.5v24.6M1866.7 879.5v10.5M1868.8 879.5v12.0M1869.1 879.5v2.5M1869.5 879.5v4.5M1870.2 879.5v188.6M1870.6 879.5v12.8M1871.6 879.5v17.6M1872.0 879.5v8.6M1872.7 879.5v9.2M1873.0 879.5v1.7M1873.7 879.5v10.8M1874.1 879.5v16.0M1874.8 879.5v14.0M1875.1 879.5v13.4M1875.9 879.5v32.3M1876.9 879.5v5.5M1878.3 879.5v28.5M1879.4 879.5v11.9M1879.7 879.5v37.0M1880.1 879.5v3.5M1880.8 879.5v13.7M1882.2 879.5v26.4M1882.6 879.5v10.2M1882.9 879.5v6.6M1883.3 879.5v13.8M1883.6 879.5v150.1M1883.6 879.5v3.9M1884.0 879.5v18.4M1884.7 879.5v9.6M1885.4 879.5v12.7M1885.7 879.5v12.3M1886.5 879.5v21.1M1886.8 879.5v14.7M1887.5 879.5v15.1M1889.3 879.5v19.1M1889.6 879.5v18.2M1889.7 879.5v132.1M1890.0 879.5v7.9M1890.3 879.5v16.1M1892.1 879.5v9.3M1892.5 879.5v7.3M1892.8 879.5v20.1M1894.6 879.5v14.6M1894.9 879.5v134.6M1894.9 879.5v24.8M1895.6 879.5v22.4M1897.0 879.5v16.1M1897.4 879.5v23.0M1898.1 879.5v16.0M1898.5 879.5v7.9M1899.5 879.5v207.6M1900.2 879.5v4.1M1901.6 879.5v47.5M1902.0 879.5v7.4M1902.7 879.5v23.4M1903.4 879.5v4.6M1903.8 879.5v15.8M1904.1 879.5v45.9M1905.5 879.5v5.7M1906.2 879.5v10.8M1906.9 879.5v17.5M1907.3 879.5v35.7M1908.3 879.5v5.7M1909.1 879.5v5.2M1909.4 879.5v16.2M1910.1 879.5v28.1M1910.5 879.5v6.1M1910.8 879.5v14.7M1911.5 879.5v32.6M1911.9 879.5v21.6M1912.2 879.5v10.1M1912.9 879.5v6.7M1915.4 879.5v47.5M1915.8 879.5v7.5M1916.5 879.5v27.7M1916.8 879.5v18.3M1917.5 879.5v47.5M1917.9 879.5v16.8M1919.3 879.5v20.6M1919.6 879.5v20.3M1920.0 879.5v19.6M1922.8 879.5v17.5M1923.9 879.5v33.2M1927.8 879.5v44.3M1928.1 879.5v5.6M1930.2 879.5v5.0M1930.4 879.5v168.1M1930.6 879.5v18.8M1930.9 879.5v28.4M1931.3 879.5v29.0M1932.0 879.5v16.2M1932.4 879.5v40.3M1932.7 879.5v22.1M1933.1 879.5v12.4M1934.8 879.5v8.9M1935.5 879.5v29.2M1938.0 879.5v7.9M1938.4 879.5v18.9M1940.1 879.5v14.2M1940.5 879.5v14.4M1940.8 879.5v12.4M1941.5 879.5v15.3M1942.2 879.5v8.7M1942.6 879.5v47.5M1943.0 879.5v4.5M1943.3 879.5v34.5M1943.7 879.5v18.6M1945.1 879.5v29.9M1945.8 879.5v19.0M1946.8 879.5v8.1M1947.2 879.5v8.9M1947.8 879.5v228.7M1949.0 879.5v21.8M1950.0 879.5v22.8M1950.7 879.5v15.4M1951.1 879.5v20.9M1952.0 879.5v137.2M1953.9 879.5v10.5M1955.3 879.5v15.4M1955.7 879.5v22.4M1956.0 879.5v15.2M1956.1 879.5v158.8M1957.4 879.5v7.7M1957.8 879.5v4.5M1958.8 879.5v16.5M1959.6 879.5v5.9M1959.9 879.5v3.7M1960.6 879.5v6.9M1961.0 879.5v4.3M1961.3 879.5v20.5M1961.7 879.5v9.4M1962.4 879.5v9.7M1962.7 879.5v10.3M1963.4 879.5v4.9M1963.8 879.5v1.7M1963.8 879.5v96.1M1964.1 879.5v3.4M1964.9 879.5v4.1M1965.2 879.5v4.8M1965.6 879.5v13.8M1965.9 879.5v4.3M1967.3 879.5v3.1M1968.0 879.5v4.4M1969.1 879.5v5.1M1969.4 879.5v3.9M1969.8 879.5v17.7M1970.1 879.5v8.0M1970.9 879.5v6.7M1971.2 879.5v19.5M1971.6 879.5v5.3M1972.3 879.5v4.8M1973.0 879.5v14.1M1974.4 879.5v5.7M1974.7 879.5v3.3M1975.4 879.5v1.6M1976.1 879.5v46.2M1976.5 879.5v3.5M1976.9 879.5v4.9M1977.2 879.5v7.8M1978.3 879.5v19.7M1978.6 879.5v2.2M1979.7 879.5v4.4M1980.0 879.5v14.1M1980.7 879.5v1.8M1981.1 879.5v7.3M1981.5 879.5v3.3M1982.2 879.5v5.7M1982.9 879.5v3.4M1983.2 879.5v14.2M1983.6 879.5v10.3M1984.3 879.5v4.8M1985.0 879.5v16.8M1985.3 879.5v3.5M1986.0 879.5v8.9M1986.7 879.5v2.7M1987.5 879.5v12.6M1988.2 879.5v4.7M1988.5 879.5v10.0M1989.2 879.5v1.0M1989.9 879.5v6.7M1990.3 879.5v3.9M1991.3 879.5v7.6M1992.4 879.5v3.8M1992.8 879.5v1.3M1993.5 879.5v8.7M1994.2 879.5v2.2M1995.1 879.5v44.7M1995.6 879.5v2.8M1996.6 879.5v10.6M1997.3 879.5v4.5M1998.8 879.5v3.9M1999.5 879.5v5.2M2000.9 879.5v3.4M2001.6 879.5v2.6M2001.9 879.5v2.5M2002.3 879.5v7.5M2002.6 879.5v8.5M2003.7 879.5v7.0M2004.1 879.5v9.0M2004.8 879.5v14.3M2006.9 879.5v15.2M2007.9 879.5v3.5M2008.6 879.5v6.4M2009.4 879.5v5.0M2011.1 879.5v2.0M2011.8 879.5v4.0M2012.2 879.5v1.0M2013.9 879.5v9.9M2015.0 879.5v17.8M2015.4 879.5v3.8M2016.2 879.5v67.8M2016.4 879.5v3.0M2016.8 879.5v5.1M2017.1 879.5v18.2M2019.2 879.5v3.7M2019.6 879.5v18.1M2019.9 879.5v1.9M2020.7 879.5v4.0M2021.0 879.5v2.6M2021.4 879.5v62.7M2021.7 879.5v6.9M2022.4 879.5v18.0M2022.8 879.5v13.5M2023.1 879.5v14.4M2023.5 879.5v3.6M2023.8 879.5v18.0M2024.2 879.5v3.5M2024.5 879.5v3.4M2024.9 879.5v10.3M2025.9 879.5v2.3M2026.3 879.5v11.9M2026.7 879.5v2.2M2028.1 879.5v2.9M2028.4 879.5v2.6M2028.8 879.5v1.3M2029.1 879.5v10.3M2030.2 879.5v6.0M2030.9 879.5v2.9M2031.2 879.5v1.2M2031.6 879.5v1.0M2032.3 879.5v6.9M2032.7 879.5v8.6M2033.0 879.5v5.4M2033.4 879.5v2.4M2033.7 879.5v1.7M2034.1 879.5v4.4M2034.2 879.5v52.4M2034.4 879.5v3.6M2035.5 879.5v2.4M2035.8 879.5v6.6M2036.2 879.5v4.1M2036.9 879.5v1.2M2037.2 879.5v4.0M2038.3 879.5v9.8M2038.7 879.5v7.7M2039.4 879.5v3.5M2040.1 879.5v2.8M2040.8 879.5v2.8M2041.1 879.5v6.1M2041.5 879.5v12.3M2041.8 879.5v5.2M2042.5 879.5v5.8M2043.6 879.5v6.8M2044.7 879.5v1.3M2045.0 879.5v2.8M2045.4 879.5v7.1M2045.7 879.5v2.0M2046.4 879.5v2.3M2046.8 879.5v2.5M2047.1 879.5v13.8M2047.5 879.5v3.2M2047.8 879.5v11.4M2048.2 879.5v2.4M2048.6 879.5v1.0M2049.3 879.5v17.2M2049.6 879.5v1.0M2050.3 879.5v11.8M2051.0 879.5v3.6M2053.1 879.5v4.2M2053.8 879.5v2.7M2054.6 879.5v7.6M2054.9 879.5v10.0M2055.3 879.5v4.8M2056.0 879.5v2.0M2057.0 879.5v7.1M2057.4 879.5v8.7M2057.7 879.5v10.0M2059.9 879.5v5.2M2060.6 879.5v6.4M2060.9 879.5v3.0M2061.6 879.5v7.4M2062.7 879.5v22.0M2064.4 879.5v7.3M2064.8 879.5v11.3M2065.1 879.5v13.3M2066.2 879.5v6.1M2067.3 879.5v2.7M2067.6 879.5v14.8M2068.0 879.5v23.0M2069.7 879.5v8.7M2070.4 879.5v14.3M2070.8 879.5v3.8M2073.6 879.5v2.0M2074.0 879.5v3.2M2074.3 879.5v7.6M2074.7 879.5v10.5M2075.0 879.5v6.2M2075.4 879.5v11.8M2077.5 879.5v8.1M2078.2 879.5v10.1M2078.9 879.5v10.4M2079.3 879.5v6.1M2079.6 879.5v20.9M2080.7 879.5v17.4M2081.4 879.5v18.9M2083.0 879.5v41.1M2083.2 879.5v20.1M2083.5 879.5v5.3M2084.2 879.5v12.6M2084.6 879.5v22.9M2084.9 879.5v16.7M2085.6 879.5v29.7M2086.0 879.5v4.3M2086.3 879.5v29.8M2088.1 879.5v5.8M2088.5 879.5v28.9M2088.8 879.5v7.4M2089.2 879.5v15.5M2089.5 879.5v4.7M2089.9 879.5v23.5M2090.9 879.5v30.7M2091.3 879.5v9.6M2091.6 879.5v8.3M2092.7 879.5v4.5M2093.0 879.5v7.6M2094.5 879.5v8.9M2094.8 879.5v6.7M2095.5 879.5v9.3M2095.9 879.5v5.1M2096.6 879.5v22.4M2096.6 879.5v42.9M2096.9 879.5v43.1M2096.9 879.5v18.7M2098.0 879.5v22.9M2098.7 879.5v1.6M2099.1 879.5v2.7M2099.8 879.5v18.2M2100.1 879.5v4.2M2100.8 879.5v1.0M2101.5 879.5v6.1M2101.9 879.5v19.9M2102.2 879.5v26.7M2102.9 879.5v4.6M2103.6 879.5v11.0M2104.0 879.5v10.4M2105.1 879.5v4.5M2107.5 879.5v28.4M2109.6 879.5v10.9M2110.4 879.5v3.0M2110.7 879.5v7.1M2111.1 879.5v3.9M2111.4 879.5v16.7M2112.8 879.5v2.4M2113.2 879.5v11.7M2113.5 879.5v4.0M2114.2 879.5v10.8M2114.6 879.5v4.1M2114.9 879.5v12.9M2115.3 879.5v9.1M2116.0 879.5v14.8M2116.7 879.5v27.1M2117.4 879.5v7.4M2118.5 879.5v9.4M2119.5 879.5v20.3M2120.9 879.5v54.0M2120.9 879.5v4.9M2122.7 879.5v8.8M2123.1 879.5v11.4M2123.8 879.5v48.7M2124.5 879.5v3.9M2125.2 879.5v3.4M2125.9 879.5v11.2M2126.2 879.5v7.6M2127.3 879.5v12.9M2127.7 879.5v6.1M2128.4 879.5v2.7M2129.1 879.5v18.4M2129.4 879.5v10.7M2131.2 879.5v6.7M2131.5 879.5v1.2M2131.9 879.5v23.8M2132.2 879.5v25.0M2132.6 879.5v5.5M2133.0 879.5v18.2M2133.3 879.5v24.9M2134.0 879.5v6.6M2135.8 879.5v13.0M2136.1 879.5v14.0M2136.8 879.5v11.7M2138.6 879.5v11.1M2140.4 879.5v3.5M2140.7 879.5v23.1M2141.1 879.5v3.4M2141.4 879.5v1.4M2142.1 879.5v1.5M2142.8 879.5v6.9M2143.2 879.5v3.7M2143.6 879.5v9.2M2145.3 879.5v10.6M2146.4 879.5v19.3M2147.8 879.5v2.4M2148.1 879.5v24.5M2148.5 879.5v3.5M2149.9 879.5v3.1M2150.6 879.5v2.3M2151.2 879.5v174.1M2151.3 879.5v4.3M2153.1 879.5v5.3M2153.4 879.5v24.9M2154.1 879.5v13.0M2154.5 879.5v6.5M2156.3 879.5v9.8M2156.6 879.5v4.8M2157.0 879.5v4.6M2158.0 879.5v1.7M2158.4 879.5v2.3M2159.4 879.5v25.3M2159.8 879.5v4.8M2160.5 879.5v13.7M2161.6 879.5v7.3M2161.9 879.5v2.5M2162.3 879.5v25.5M2162.6 879.5v6.6M2163.0 879.5v4.3M2163.3 879.5v8.1M2163.9 879.5v155.1M2164.0 879.5v23.7M2164.7 879.5v2.3M2166.9 879.5v2.4M2167.6 879.5v1.2M2168.6 879.5v22.2M2169.3 879.5v12.8M2171.5 879.5v8.6M2171.8 879.5v11.3M2172.9 879.5v2.1M2173.6 879.5v5.8M2174.1 879.5v95.5M2175.0 879.5v3.1M2175.3 879.5v6.0M2176.4 879.5v2.9M2177.1 879.5v7.0M2178.2 879.5v13.8M2178.5 879.5v4.2M2179.2 879.5v2.8M2179.6 879.5v24.5M2180.3 879.5v20.8M2181.0 879.5v10.6M2181.3 879.5v4.3M2181.7 879.5v1.1M2182.4 879.5v2.8M2183.1 879.5v16.0M2183.5 879.5v4.7M2183.8 879.5v3.4M2185.6 879.5v15.9M2188.2 879.5v67.2M2188.4 879.5v14.9M2189.1 879.5v3.8M2191.2 879.5v2.1M2192.6 879.5v3.1M2193.0 879.5v6.8M2193.3 879.5v1.6M2193.7 879.5v10.1M2195.8 879.5v3.4M2196.2 879.5v6.3M2196.9 879.5v3.9M2197.6 879.5v2.0M2197.9 879.5v2.9M2199.0 879.5v1.7M2199.4 879.5v13.7M2199.7 879.5v4.9M2201.1 879.5v7.3M2203.2 879.5v1.1M2203.9 879.5v4.8M2204.3 879.5v13.7M2204.6 879.5v5.0M2205.0 879.5v3.8M2205.4 879.5v1.4M2205.7 879.5v5.4M2206.1 879.5v1.4M2206.8 879.5v1.1M2207.1 879.5v1.1M2207.5 879.5v7.7M2208.2 879.5v2.6M2208.5 879.5v4.7M2208.7 879.5v77.8M2208.9 879.5v28.8M2209.6 879.5v7.3M2209.9 879.5v10.0M2210.3 879.5v7.7M2210.7 879.5v17.8M2211.7 879.5v59.3M2212.1 879.5v33.9M2213.5 879.5v36.4M2213.5 879.5v60.6M2213.8 879.5v38.4M2214.5 879.5v65.0M2215.2 879.5v17.9M2216.7 879.5v7.9M2217.7 879.5v49.5M2218.5 879.5v94.4M2218.8 879.5v9.9M2219.1 879.5v8.9M2219.8 879.5v64.1M2220.5 879.5v25.4M2220.9 879.5v45.1M2221.6 879.5v2.3M2222.3 879.5v7.2M2224.1 879.5v7.7M2224.4 879.5v43.9M2224.8 879.5v12.4M2225.1 879.5v4.4M2225.5 879.5v5.3M2226.2 879.5v3.9M2226.5 879.5v4.3M2226.9 879.5v2.8M2227.2 879.5v3.7M2229.7 879.5v4.8M2230.1 879.5v17.3M2231.1 879.5v16.7M2231.5 879.5v7.2M2231.8 879.5v2.8M2233.3 879.5v4.9M2233.6 879.5v18.5M2234.3 879.5v49.5M2234.7 879.5v2.2M2235.4 879.5v2.0M2235.7 879.5v11.5M2237.1 879.5v3.4M2237.8 879.5v15.4M2238.6 879.5v11.2M2239.3 879.5v10.1M2240.3 879.5v4.2M2240.7 879.5v8.4M2242.4 879.5v5.0M2243.1 879.5v9.5M2244.2 879.5v19.6M2244.6 879.5v8.4M2244.9 879.5v1.5M2245.6 879.5v3.0M2247.0 879.5v5.5M2247.4 879.5v3.4M2247.7 879.5v1.4M2249.5 879.5v3.7M2250.2 879.5v10.7M2250.6 879.5v15.5M2251.6 879.5v3.7M2252.3 879.5v2.6M2252.7 879.5v1.9M2253.0 879.5v3.4M2255.5 879.5v17.6M2255.9 879.5v6.0M2256.6 879.5v2.0M2256.9 879.5v7.9M2257.6 879.5v4.2M2258.3 879.5v15.0M2259.0 879.5v3.5M2260.1 879.5v1.9M2260.8 879.5v8.6M2262.2 879.5v10.4M2262.6 879.5v6.7M2263.3 879.5v3.2M2264.3 879.5v8.8M2264.7 879.5v3.1M2266.1 879.5v3.7M2266.8 879.5v9.2M2268.2 879.5v9.4M2268.6 879.5v2.1M2268.9 879.5v2.5M2270.0 879.5v14.0M2271.0 879.5v1.4M2272.5 879.5v9.8M2273.5 879.5v13.2M2273.9 879.5v6.0M2274.2 879.5v2.6M2274.6 879.5v12.8M2275.3 879.5v4.8M2275.6 879.5v1.0M2276.0 879.5v36.3M2276.3 879.5v3.3M2276.7 879.5v4.6M2277.0 879.5v13.8M2277.8 879.5v1.9M2279.9 879.5v2.2M2280.2 879.5v6.7M2280.9 879.5v6.7M2281.3 879.5v17.3M2281.6 879.5v3.6M2282.0 879.5v3.3M2282.1 879.5v68.5M2283.0 879.5v2.5M2283.4 879.5v5.1M2284.5 879.5v3.1M2286.9 879.5v9.0M2287.3 879.5v6.7M2288.7 879.5v2.5M2289.8 879.5v15.0M2290.1 879.5v8.7M2292.2 879.5v1.6M2292.9 879.5v5.3M2293.3 879.5v5.2M2293.6 879.5v3.4M2294.4 879.5v1.9M2296.5 879.5v3.3M2296.8 879.5v3.0M2297.5 879.5v5.1M2297.9 879.5v6.0M2298.6 879.5v1.0M2298.9 879.5v6.3M2300.0 879.5v9.2M2301.1 879.5v4.6M2301.6 879.5v33.7M2301.8 879.5v14.5M2302.1 879.5v7.4M2302.5 879.5v5.9M2303.2 879.5v9.3M2303.5 879.5v2.7M2303.9 879.5v8.7M2304.9 879.5v5.6M2306.4 879.5v4.1M2307.1 879.5v3.2M2307.4 879.5v6.6M2308.5 879.5v1.6M2308.8 879.5v1.4M2310.6 879.5v5.9M2310.9 879.5v11.3M2311.3 879.5v4.0M2314.5 879.5v1.7M2315.2 879.5v2.1M2315.5 879.5v9.1M2315.9 879.5v4.8M2316.6 879.5v20.3M2317.3 879.5v3.3M2317.7 879.5v5.0M2318.4 879.5v4.5M2320.8 879.5v5.4M2320.9 879.5v87.8M2321.2 879.5v28.7M2322.6 879.5v5.7M2323.0 879.5v13.2M2323.3 879.5v2.4M2324.4 879.5v34.2M2325.1 879.5v34.2M2325.4 879.5v4.1M2325.6 879.5v76.4M2325.8 879.5v34.2M2326.5 879.5v6.7M2327.2 879.5v7.0M2327.5 879.5v3.6M2327.9 879.5v3.1M2328.3 879.5v6.9M2328.6 879.5v7.9M2329.0 879.5v9.2M2329.7 879.5v4.4M2330.0 879.5v29.4M2330.7 879.5v6.8M2331.1 879.5v8.3M2331.4 879.5v14.0M2331.8 879.5v7.9M2332.1 879.5v2.5M2332.5 879.5v18.4M2333.2 879.5v4.8M2333.6 879.5v1.7M2335.7 879.5v6.0M2336.0 879.5v6.1M2336.7 879.5v4.3M2337.8 879.5v20.5M2338.5 879.5v6.2M2339.2 879.5v3.3M2339.9 879.5v6.1M2340.3 879.5v5.5M2340.6 879.5v7.2M2341.0 879.5v5.8M2341.5 879.5v59.3M2341.7 879.5v4.2M2342.0 879.5v19.3M2342.4 879.5v7.6M2343.1 879.5v3.0M2343.4 879.5v8.0M2344.5 879.5v2.1M2345.6 879.5v6.9M2345.9 879.5v12.4M2346.3 879.5v1.7M2347.3 879.5v11.7M2348.0 879.5v3.0M2348.4 879.5v17.4M2348.7 879.5v9.8M2349.1 879.5v4.5M2349.4 879.5v7.7M2349.8 879.5v5.3M2350.5 879.5v2.3M2350.9 879.5v2.7M2351.2 879.5v19.3M2352.6 879.5v10.0M2353.3 879.5v5.2M2354.4 879.5v20.5M2355.1 879.5v3.8M2356.2 879.5v4.1M2357.2 879.5v9.8M2358.3 879.5v2.6M2359.7 879.5v14.2M2360.4 879.5v8.3M2361.5 879.5v1.0M2362.2 879.5v5.6M2363.6 879.5v1.2M2363.9 879.5v3.4M2364.3 879.5v20.5M2364.6 879.5v2.8M2365.0 879.5v6.9M2365.3 879.5v20.5M2367.5 879.5v2.3M2368.2 879.5v6.3M2368.5 879.5v13.1M2369.2 879.5v2.2M2369.9 879.5v3.0M2370.2 879.5v34.7M2371.3 879.5v20.5M2371.7 879.5v2.9M2374.2 879.5v11.4M2374.5 879.5v4.2M2375.6 879.5v16.2M2376.3 879.5v13.0M2377.0 879.5v14.4M2377.3 879.5v14.0M2377.7 879.5v14.3M2378.0 879.5v8.2M2379.1 879.5v40.9M2379.8 879.5v5.0M2380.9 879.5v19.7M2381.6 879.5v33.7" stroke="#f33e32" stroke-width="1.5" fill="none"/>
<path d="M260.8 1249.8 L262.1 1230.0 L263.5 1224.8 L264.3 1224.1 L265.1 1224.0 L265.9 1224.7 L266.7 1222.7 L267.5 1222.4 L268.3 1222.3 L269.2 1222.4 L270.0 1220.8 L270.8 1221.7 L271.6 1221.3 L272.5 1221.3 L273.3 1221.4 L274.2 1218.6 L275.0 1219.6 L275.8 1222.6 L276.6 1225.5 L277.3 1231.6 L278.1 1234.2 L279.1 1240.1 L280.2 1244.6 L281.1 1245.8 L281.9 1251.8 L282.8 1254.5 L283.7 1256.2 L284.5 1258.9 L285.4 1261.2 L286.3 1259.9 L287.1 1259.3 L288.0 1260.8 L288.9 1259.1 L289.7 1259.3 L290.6 1260.2 L291.5 1255.7 L292.3 1252.9 L361.5 1252.9 L361.9 999.8 L362.5 1027.9 L363.4 1018.0 L364.2 1011.2 L365.6 1021.7 L366.4 1019.5 L367.3 1017.3 L368.1 1016.6 L369.0 1013.4 L369.8 1011.2 L370.7 1012.1 L371.5 1011.9 L372.4 1012.8 L373.3 1012.5 L374.1 1012.2 L375.0 1013.3 L375.8 1015.8 L376.7 1016.7 L377.5 1017.0 L378.4 1017.4 L379.2 1017.5 L389.6 1017.5 L390.6 1005.4 L391.7 994.6 L392.7 991.1 L393.8 989.4 L394.7 989.0 L395.6 990.0 L396.7 973.5 L397.8 960.0 L398.9 958.1 L400.0 954.4 L401.1 920.0 L402.2 951.1 L403.3 944.7 L404.4 938.9 L405.2 939.5 L406.1 937.4 L406.9 938.8 L407.8 936.7 L408.6 941.9 L409.4 943.0 L410.2 947.7 L411.0 954.1 L411.8 956.7 L412.7 952.9 L413.5 950.9 L414.4 945.6 L415.2 944.7 L416.1 943.0 L416.9 944.3 L417.8 943.3 L418.6 941.7 L419.5 937.5 L420.3 934.4 L421.1 933.3 L421.9 932.0 L422.6 933.4 L423.4 932.0 L424.1 929.1 L424.9 928.8 L425.6 928.9 L426.0 918.9 L426.9 923.6 L427.8 931.1 L428.7 920.7 L429.6 913.3 L430.4 913.2 L431.1 911.1 L432.2 888.9 L433.0 881.2 L433.8 875.6 L434.7 870.8 L435.6 865.6 L436.7 868.7 L437.8 872.2 L438.9 872.8 L440.0 875.6 L444.4 875.6 L445.1 877.9 L445.9 877.3 L446.6 880.5 L447.4 880.2 L448.1 882.7 L448.9 884.4 L450.0 880.7 L451.1 878.9 L451.9 880.9 L452.8 886.1 L453.6 888.3 L454.4 890.0 L455.2 887.5 L455.9 887.6 L456.7 884.4 L457.8 872.3 L458.9 862.2 L460.0 852.9 L461.1 844.4 L462.2 826.8 L463.3 806.7 L464.1 805.0 L465.0 800.9 L465.9 801.7 L466.7 797.8 L467.8 760.0 L468.9 768.5 L470.0 778.9 L471.1 767.0 L472.2 756.7 L473.1 755.9 L474.0 753.3 L474.8 733.9 L475.6 715.6 L476.4 702.7 L477.1 691.1 L478.4 726.7 L479.2 718.5 L480.0 713.3 L480.8 713.6 L481.6 716.9 L482.5 717.5 L483.3 720.0 L484.1 723.9 L485.0 726.8 L485.9 730.6 L486.7 734.4 L487.8 727.8 L488.7 730.2 L489.6 729.5 L490.4 730.7 L491.3 732.6 L492.2 732.2 L493.1 731.4 L493.9 731.6 L494.8 734.4 L495.6 733.3 L496.7 752.7 L497.8 770.0 L498.9 757.5 L500.0 746.7 L501.1 742.8 L502.2 741.1 L503.3 743.6 L504.4 744.4 L505.6 756.7 L506.7 758.7 L507.8 757.8 L508.9 771.2 L510.0 786.7 L510.8 785.5 L511.6 782.4 L512.5 778.7 L513.3 775.6 L514.1 779.0 L514.8 781.7 L515.6 786.7 L516.4 785.7 L517.2 789.4 L518.1 787.5 L518.9 788.9 L520.0 792.9 L521.1 795.6 L522.2 809.8 L523.3 825.6 L524.4 813.3 L525.2 811.1 L525.9 807.0 L526.7 803.3 L527.8 806.5 L528.9 811.1 L529.7 810.5 L530.5 812.9 L531.4 811.3 L532.2 813.3 L533.3 821.8 L534.4 832.2 L535.2 829.8 L535.9 828.2 L536.7 824.4 L537.8 820.4 L538.9 815.6 L539.7 813.7 L540.5 814.8 L541.4 811.2 L542.2 811.1 L543.3 807.8 L544.4 807.8 L545.2 803.7 L545.9 800.9 L546.7 797.8 L547.8 794.1 L548.9 793.3 L550.0 780.0 L551.1 768.9 L552.2 767.9 L553.3 767.8 L554.1 769.5 L554.8 769.5 L555.6 772.2 L556.4 772.6 L557.2 775.2 L558.1 776.4 L558.9 775.6 L559.7 776.7 L560.5 777.4 L561.4 777.5 L562.2 777.8 L563.3 777.1 L564.4 778.9 L565.2 782.1 L565.9 786.9 L566.7 793.3 L567.8 791.4 L568.9 786.7 L569.7 787.2 L570.5 788.0 L571.3 784.6 L572.0 786.5 L572.8 785.9 L573.6 786.5 L574.4 785.6 L575.2 783.9 L575.9 785.0 L576.7 782.2 L577.5 782.4 L578.4 785.7 L579.2 788.0 L580.0 788.9 L580.8 789.7 L581.6 788.6 L582.5 787.9 L583.3 786.7 L584.1 788.2 L585.0 787.8 L585.8 788.1 L586.6 785.0 L587.5 785.1 L588.3 783.3 L589.1 785.2 L590.0 785.7 L590.9 784.7 L591.7 785.6 L592.6 786.8 L593.5 787.3 L594.3 786.5 L595.2 786.9 L596.1 786.7 L596.9 785.9 L597.8 786.1 L598.6 785.8 L599.5 783.6 L600.3 785.0 L601.1 785.8 L602.0 785.0 L602.8 783.3 L603.6 783.3 L604.5 781.3 L605.3 781.6 L606.1 780.0 L607.1 777.3 L608.0 773.9 L609.0 771.1 L609.8 772.0 L610.5 769.2 L611.3 771.3 L612.0 768.6 L612.8 770.0 L613.6 769.8 L614.5 768.8 L615.3 767.4 L616.1 767.8 L617.2 765.7 L618.3 762.2 L619.1 759.6 L619.8 757.4 L620.6 754.4 L621.7 757.0 L622.8 756.7 L623.9 753.1 L625.0 751.1 L626.1 743.3 L627.2 740.5 L628.3 741.1 L629.1 737.8 L629.8 736.5 L630.6 733.3 L631.7 761.1 L632.8 742.2 L633.9 744.0 L635.0 747.8 L635.8 745.3 L636.6 746.4 L637.5 744.1 L638.3 742.2 L639.0 741.3 L639.8 742.1 L640.5 739.4 L641.3 739.8 L642.0 737.5 L642.8 737.8 L643.7 737.1 L644.6 738.0 L645.4 737.9 L646.3 737.3 L647.2 735.6 L648.1 736.0 L648.9 737.5 L649.8 737.5 L650.6 738.9 L651.4 738.2 L652.2 740.0 L653.1 741.7 L653.9 741.1 L655.0 745.6 L656.1 747.8 L656.9 747.7 L657.8 747.6 L658.6 744.5 L659.4 744.4 L660.2 742.9 L660.9 743.5 L661.7 743.3 L662.5 741.2 L663.4 739.6 L664.2 738.9 L665.0 737.8 L665.9 737.3 L666.8 736.0 L667.6 734.5 L668.5 735.4 L669.4 733.3 L670.2 734.7 L671.1 732.6 L671.9 731.0 L672.8 732.2 L673.6 730.8 L674.4 733.8 L675.2 731.1 L675.9 733.5 L676.7 733.2 L677.5 732.5 L678.3 733.3 L679.0 733.9 L679.8 730.9 L680.5 731.0 L681.3 731.7 L682.0 729.9 L682.8 731.1 L683.6 730.5 L684.5 726.9 L685.3 724.9 L686.1 724.4 L686.9 720.4 L687.8 719.8 L688.6 716.7 L689.4 714.4 L690.2 712.3 L691.1 709.9 L691.9 707.9 L692.8 704.4 L693.6 703.2 L694.5 699.5 L695.3 695.1 L696.1 693.3 L696.9 692.1 L697.8 690.0 L698.6 688.3 L699.4 688.9 L700.2 684.4 L700.9 680.8 L701.7 675.6 L702.8 670.1 L703.9 666.7 L705.0 664.8 L706.1 664.4 L707.2 651.1 L708.3 642.8 L709.4 635.6 L710.2 631.8 L710.9 626.7 L711.7 622.2 L712.8 611.1 L713.9 582.2 L715.0 613.3 L715.8 630.9 L716.6 647.8 L717.9 613.3 L718.6 609.7 L719.4 604.4 L720.2 607.4 L721.0 611.1 L722.3 626.7 L723.1 623.8 L723.9 618.9 L727.2 618.9 L728.1 618.9 L728.9 614.7 L729.8 616.2 L730.6 613.3 L731.7 614.6 L732.8 614.4 L733.6 615.9 L734.5 619.8 L735.3 623.2 L736.1 625.6 L736.9 627.3 L737.8 625.7 L738.6 626.7 L739.4 626.7 L740.2 629.6 L741.1 631.0 L741.9 633.2 L742.8 633.3 L743.9 641.0 L745.0 648.9 L746.1 641.6 L747.2 633.3 L750.6 633.3 L751.4 631.2 L752.2 631.9 L753.1 631.1 L753.9 628.9 L754.7 629.1 L755.5 629.1 L756.4 627.1 L757.2 627.8 L758.1 628.3 L758.9 627.7 L759.8 626.9 L760.6 624.4 L761.4 622.3 L762.2 621.0 L763.1 617.2 L763.9 615.6 L765.0 615.8 L766.1 613.3 L766.9 615.1 L767.8 613.9 L768.6 613.6 L769.4 615.6 L770.2 615.1 L771.1 615.2 L771.9 615.6 L772.8 614.4 L773.6 616.9 L774.5 617.8 L775.3 623.0 L776.1 624.4 L777.2 614.4 L778.1 611.5 L778.9 612.7 L779.8 609.2 L780.6 608.9 L781.7 599.4 L782.8 591.1 L783.6 591.5 L784.5 588.8 L785.3 588.3 L786.1 588.9 L787.2 581.2 L788.3 573.3 L789.1 568.2 L789.8 562.7 L790.6 555.6 L791.7 547.3 L792.8 537.8 L793.9 527.1 L795.0 513.3 L795.8 506.0 L796.5 498.8 L798.0 498.8 L799.1 524.7 L800.1 507.4 L801.1 512.5 L802.1 514.5 L803.1 539.9 L804.1 529.8 L805.2 524.3 L806.2 521.6 L807.2 519.7 L808.2 519.6 L809.0 515.1 L809.7 510.5 L810.5 510.5 L811.3 512.0 L812.0 514.3 L812.8 515.0 L813.6 515.8 L814.5 515.8 L815.3 516.1 L816.3 519.3 L817.3 520.1 L818.3 518.3 L819.4 516.1 L820.1 516.7 L820.9 518.6 L821.9 524.7 L822.6 526.3 L823.4 528.8 L824.2 532.0 L825.0 532.8 L825.8 535.9 L826.7 535.2 L827.5 537.9 L828.2 537.0 L829.0 533.8 L830.0 526.2 L830.8 528.8 L831.6 528.2 L832.4 528.8 L833.3 529.5 L834.1 529.8 L834.9 530.1 L835.8 532.6 L836.6 533.8 L837.4 536.4 L838.2 538.9 L838.7 544.0 L839.7 546.1 L840.7 547.5 L841.7 546.7 L842.7 549.1 L843.2 558.7 L844.0 550.9 L844.8 539.9 L845.8 540.7 L846.8 541.4 L847.8 544.9 L848.8 549.1 L851.9 549.1 L852.6 549.8 L853.4 548.8 L854.1 548.2 L854.9 548.0 L856.0 548.1 L857.0 547.0 L857.8 541.5 L858.5 538.9 L859.2 536.5 L860.0 533.8 L861.0 530.0 L862.0 526.7 L863.0 528.8 L864.1 527.7 L865.1 532.7 L866.1 534.8 L867.1 532.5 L868.1 531.8 L869.2 533.2 L870.2 534.8 L871.0 531.2 L871.9 529.8 L872.7 527.7 L873.5 529.5 L874.4 530.5 L875.2 529.8 L878.3 529.8 L879.3 530.5 L880.3 531.3 L881.3 532.4 L882.3 534.8 L883.3 533.0 L884.4 533.3 L886.4 533.3 L887.4 538.1 L888.4 542.0 L889.5 545.0 L890.2 544.4 L891.0 541.0 L892.0 540.2 L893.0 542.0 L894.0 543.9 L895.0 544.0 L895.9 542.5 L896.8 543.2 L897.7 543.4 L898.6 544.5 L899.4 547.4 L900.1 549.1 L901.1 554.1 L901.9 553.0 L902.7 553.1 L903.5 554.7 L904.2 557.2 L905.0 561.7 L905.7 565.3 L906.5 561.2 L907.2 559.7 L908.2 557.7 L909.3 554.1 L910.1 553.5 L911.0 555.5 L911.8 556.2 L912.5 557.9 L913.3 561.2 L914.1 561.1 L914.8 563.1 L915.6 563.7 L916.4 564.8 L917.4 561.6 L918.4 559.2 L919.4 549.6 L920.4 555.2 L921.5 556.4 L922.5 558.2 L923.2 557.5 L924.0 556.7 L924.8 555.4 L925.5 555.4 L926.2 556.8 L927.0 556.2 L928.0 557.9 L929.1 558.7 L930.1 560.6 L931.1 562.3 L931.9 565.5 L932.6 566.3 L933.6 565.7 L934.6 564.3 L935.7 566.5 L936.7 566.3 L937.5 567.4 L938.2 570.4 L938.7 575.0 L939.7 571.4 L940.5 575.3 L941.3 577.5 L941.8 594.8 L942.5 593.3 L943.3 589.7 L944.0 589.5 L944.8 586.6 L945.8 573.4 L946.5 578.9 L947.3 585.6 L948.3 584.2 L949.4 584.1 L950.4 585.8 L951.4 584.6 L952.4 577.5 L953.1 578.0 L953.9 580.5 L956.5 580.5 L957.5 578.1 L958.5 572.4 L959.3 573.1 L960.0 569.9 L960.8 569.6 L961.6 569.9 L962.6 571.4 L963.6 571.4 L964.6 576.5 L965.6 576.9 L966.6 579.0 L967.5 577.3 L968.3 579.5 L969.2 578.0 L970.0 578.6 L970.9 580.7 L971.7 580.5 L972.8 581.5 L973.8 585.1 L974.5 584.6 L975.3 585.5 L976.0 583.1 L976.8 584.6 L977.6 582.9 L978.5 583.9 L979.3 582.6 L980.2 583.3 L981.0 582.8 L981.9 580.5 L982.6 579.5 L983.4 581.1 L984.1 582.2 L984.9 581.6 L988.0 581.6 L988.8 582.5 L989.5 584.0 L990.2 583.2 L991.0 585.1 L991.8 583.3 L992.5 583.0 L993.3 582.4 L994.1 583.6 L995.1 581.5 L996.1 579.0 L997.1 579.8 L998.1 580.5 L998.9 579.7 L999.7 577.3 L1000.4 576.4 L1001.2 576.5 L1002.1 573.2 L1003.0 573.1 L1003.8 571.3 L1004.7 567.3 L1005.5 571.3 L1006.3 572.4 L1007.2 570.5 L1008.0 569.9 L1008.9 572.4 L1009.8 570.4 L1010.7 570.9 L1011.6 572.6 L1012.5 571.7 L1013.4 572.9 L1014.1 573.7 L1014.9 574.8 L1015.6 575.4 L1016.4 576.5 L1017.1 579.9 L1017.9 582.6 L1018.7 583.2 L1019.5 587.1 L1020.2 587.0 L1021.0 586.8 L1021.8 583.8 L1022.5 584.1 L1023.3 583.0 L1024.0 583.1 L1024.8 581.1 L1025.6 580.5 L1026.4 580.0 L1027.2 580.4 L1028.0 582.1 L1028.8 580.9 L1029.6 583.1 L1030.4 584.1 L1031.2 583.5 L1032.1 582.9 L1032.9 583.1 L1033.7 581.6 L1034.5 581.5 L1035.3 580.2 L1036.1 580.4 L1036.9 579.5 L1037.7 579.0 L1038.5 579.5 L1039.2 577.8 L1040.0 574.8 L1040.8 574.5 L1041.6 573.5 L1042.5 570.5 L1043.3 567.3 L1044.3 561.1 L1045.4 553.1 L1046.2 558.2 L1047.1 560.9 L1047.9 565.3 L1050.9 565.3 L1051.7 566.5 L1052.5 565.0 L1053.3 562.9 L1054.2 558.3 L1055.0 558.4 L1055.9 558.1 L1056.7 556.7 L1057.5 554.3 L1058.4 549.7 L1059.2 546.7 L1061.7 546.7 L1062.5 548.5 L1063.3 547.3 L1064.2 549.2 L1065.0 550.8 L1065.8 549.9 L1066.7 547.5 L1067.5 547.8 L1068.3 547.5 L1069.2 549.2 L1070.0 550.0 L1071.3 559.2 L1072.5 553.3 L1073.3 554.6 L1074.2 554.1 L1075.0 557.4 L1075.8 556.7 L1076.6 557.5 L1077.5 556.7 L1078.3 557.5 L1079.1 557.2 L1080.0 556.1 L1080.8 555.0 L1081.7 553.7 L1082.5 551.7 L1083.3 552.3 L1084.2 549.2 L1086.7 549.2 L1087.5 551.1 L1088.4 552.6 L1089.2 553.3 L1090.0 553.9 L1090.8 554.3 L1091.7 550.7 L1092.5 552.4 L1093.3 551.7 L1094.1 552.4 L1095.0 550.6 L1095.8 550.9 L1096.6 549.6 L1097.5 549.9 L1098.3 550.8 L1099.1 550.2 L1100.0 549.2 L1100.8 549.6 L1101.6 551.6 L1102.5 550.3 L1103.3 550.0 L1104.2 549.2 L1105.0 549.9 L1105.8 547.8 L1106.7 546.7 L1110.0 546.7 L1114.2 546.7 L1115.0 548.9 L1115.9 548.2 L1116.7 548.3 L1117.5 544.8 L1118.3 539.2 L1119.1 536.4 L1120.0 536.7 L1120.8 535.0 L1121.7 535.0 L1122.5 533.3 L1123.3 526.8 L1124.2 523.3 L1125.0 522.7 L1125.8 519.2 L1126.7 524.3 L1127.5 531.7 L1128.3 529.4 L1129.2 526.1 L1130.0 525.0 L1130.8 525.6 L1131.7 526.5 L1132.5 526.7 L1133.3 525.0 L1134.2 527.8 L1135.0 525.8 L1135.8 525.8 L1136.6 526.2 L1137.5 526.8 L1138.3 526.4 L1139.2 526.4 L1140.0 527.5 L1140.8 533.0 L1141.7 537.5 L1142.5 535.6 L1143.3 533.3 L1144.2 533.0 L1145.0 534.9 L1145.8 533.9 L1146.7 535.0 L1147.5 533.1 L1148.3 533.7 L1149.2 532.8 L1150.0 534.2 L1150.8 533.3 L1151.7 535.6 L1152.5 535.0 L1153.3 533.0 L1154.2 533.0 L1155.0 530.0 L1155.8 531.3 L1156.7 529.5 L1157.5 533.2 L1158.4 533.5 L1159.2 532.5 L1160.0 530.9 L1160.8 533.6 L1161.7 531.8 L1162.5 531.8 L1163.3 531.7 L1164.2 532.9 L1165.0 530.0 L1165.8 530.5 L1166.7 530.0 L1167.5 531.1 L1168.3 529.9 L1169.2 528.6 L1170.0 528.3 L1170.8 528.8 L1171.7 527.2 L1172.5 525.0 L1173.3 523.3 L1174.2 520.8 L1175.0 520.3 L1175.9 522.9 L1176.7 523.3 L1177.5 522.5 L1178.3 521.0 L1179.2 519.9 L1180.0 520.8 L1180.8 521.1 L1181.7 520.0 L1182.5 521.3 L1183.3 521.7 L1184.2 521.6 L1185.0 520.3 L1185.8 519.0 L1186.7 519.2 L1187.5 519.1 L1188.3 518.2 L1189.2 519.1 L1190.0 517.9 L1190.8 517.5 L1191.7 515.4 L1192.5 510.0 L1193.3 509.9 L1194.2 507.5 L1195.0 505.0 L1195.8 501.2 L1196.7 499.2 L1197.8 507.0 L1198.8 517.5 L1199.8 515.5 L1200.8 510.8 L1201.6 511.6 L1202.5 510.9 L1203.3 509.8 L1204.2 509.4 L1205.0 510.0 L1205.8 508.4 L1206.7 505.8 L1207.5 503.3 L1208.3 504.0 L1209.2 504.6 L1210.0 505.4 L1210.8 505.0 L1211.7 501.6 L1212.5 499.5 L1213.3 499.7 L1214.2 495.8 L1215.0 496.1 L1215.9 494.9 L1216.7 492.5 L1217.5 491.6 L1218.3 492.3 L1219.2 493.6 L1220.0 495.0 L1220.8 499.7 L1221.7 505.0 L1222.5 506.5 L1223.4 505.8 L1224.2 508.3 L1225.0 505.9 L1225.8 501.8 L1226.7 499.4 L1227.5 498.3 L1228.3 498.1 L1229.2 496.8 L1230.0 495.8 L1230.8 495.6 L1231.7 494.1 L1232.5 493.9 L1233.3 493.3 L1234.1 491.2 L1235.0 490.6 L1235.8 490.0 L1236.6 488.3 L1237.5 486.2 L1238.3 482.5 L1239.1 478.6 L1240.0 476.2 L1240.8 475.0 L1241.6 475.2 L1242.5 473.8 L1243.3 472.5 L1244.2 469.7 L1245.0 465.0 L1246.3 468.3 L1247.3 463.2 L1248.3 460.0 L1249.1 456.4 L1250.0 452.5 L1250.8 450.0 L1251.7 450.7 L1252.5 449.2 L1253.3 453.3 L1254.2 458.3 L1255.0 456.3 L1255.8 453.3 L1256.7 456.0 L1257.5 454.8 L1258.3 456.6 L1259.2 457.5 L1260.0 458.1 L1260.9 458.4 L1261.7 456.7 L1262.5 461.2 L1263.4 465.7 L1264.2 470.8 L1265.0 459.4 L1265.8 450.8 L1266.6 452.6 L1267.5 450.5 L1268.3 452.5 L1269.1 450.5 L1270.0 451.6 L1270.8 450.8 L1271.7 446.2 L1272.5 441.7 L1273.3 438.2 L1274.2 432.7 L1275.0 429.2 L1275.8 429.6 L1276.7 426.6 L1277.5 427.5 L1278.3 425.1 L1279.2 425.2 L1280.0 421.7 L1280.8 421.7 L1281.6 423.2 L1282.5 426.9 L1283.3 428.3 L1284.1 433.7 L1285.0 437.0 L1285.8 442.5 L1286.7 437.5 L1287.5 435.0 L1288.3 433.3 L1289.2 433.3 L1290.0 430.8 L1290.8 430.0 L1291.6 427.9 L1292.5 429.0 L1293.3 427.5 L1294.1 423.3 L1295.0 420.1 L1295.8 414.2 L1296.6 415.4 L1297.5 415.0 L1298.3 413.3 L1299.1 412.6 L1300.0 413.3 L1300.8 411.7 L1301.6 407.1 L1302.5 403.3 L1303.3 400.0 L1304.2 400.1 L1305.0 400.8 L1305.8 407.7 L1306.7 411.7 L1307.5 405.5 L1308.3 396.7 L1309.1 394.4 L1310.0 393.4 L1310.8 392.5 L1311.7 387.4 L1312.5 383.3 L1313.3 379.5 L1314.2 376.3 L1315.0 373.3 L1315.8 355.8 L1316.8 353.2 L1317.7 350.4 L1318.7 349.2 L1319.8 357.7 L1320.8 365.8 L1321.7 364.8 L1322.5 361.7 L1323.7 371.7 L1325.0 356.4 L1326.2 355.8 L1327.3 363.4 L1328.1 365.5 L1328.9 368.5 L1329.7 369.3 L1330.3 377.5 L1331.2 378.3 L1332.0 378.7 L1332.9 376.4 L1333.8 376.3 L1335.0 384.5 L1335.8 394.5 L1336.7 402.7 L1337.6 399.6 L1338.5 393.9 L1339.3 387.9 L1340.0 381.7 L1340.8 378.1 L1341.6 380.5 L1342.4 382.9 L1343.2 385.1 L1344.2 382.6 L1345.1 381.2 L1346.1 376.9 L1347.0 382.4 L1347.9 386.9 L1348.9 390.9 L1349.8 391.3 L1350.8 395.7 L1351.7 392.9 L1352.5 389.8 L1353.2 394.2 L1354.0 395.1 L1354.8 398.5 L1355.5 403.3 L1356.3 404.7 L1357.0 405.8 L1357.8 405.0 L1358.6 400.3 L1359.4 398.9 L1360.2 395.1 L1361.0 392.3 L1361.7 392.8 L1362.5 390.4 L1363.4 388.9 L1364.3 386.3 L1365.2 385.1 L1366.0 384.7 L1366.9 386.3 L1367.8 385.1 L1368.6 386.9 L1369.3 389.5 L1370.1 390.4 L1371.1 391.2 L1372.0 392.2 L1373.0 393.9 L1373.8 397.2 L1374.5 398.0 L1375.2 399.1 L1376.0 400.9 L1377.0 400.1 L1377.9 399.7 L1378.9 398.0 L1379.7 401.6 L1380.5 405.3 L1381.3 406.8 L1382.1 406.1 L1382.8 407.1 L1383.6 405.6 L1384.6 408.1 L1385.5 410.7 L1386.5 411.5 L1387.2 411.1 L1388.0 409.7 L1388.8 408.4 L1389.5 405.6 L1390.5 408.2 L1391.4 408.1 L1392.4 408.6 L1393.2 404.3 L1394.1 399.8 L1394.8 399.0 L1395.6 397.9 L1396.3 395.1 L1397.1 393.9 L1397.9 395.6 L1398.6 396.6 L1399.4 399.8 L1400.4 403.7 L1401.3 407.7 L1402.3 409.1 L1403.2 408.3 L1404.1 407.1 L1405.0 406.8 L1405.9 407.4 L1406.9 405.2 L1407.8 402.8 L1408.8 401.5 L1409.6 402.9 L1410.3 399.6 L1411.1 400.9 L1412.3 409.1 L1413.3 407.9 L1414.2 406.7 L1415.2 407.4 L1416.0 407.1 L1416.8 406.7 L1417.6 405.0 L1418.5 404.1 L1419.3 403.8 L1420.2 405.3 L1421.1 405.6 L1422.0 406.6 L1422.8 408.5 L1423.7 406.3 L1424.6 408.6 L1425.4 406.3 L1426.2 405.5 L1427.0 405.6 L1427.9 404.9 L1428.8 405.3 L1429.6 407.2 L1430.5 406.8 L1434.6 406.8 L1435.4 409.5 L1436.3 411.5 L1437.5 415.0 L1438.7 425.5 L1439.8 433.8 L1440.7 430.8 L1441.6 429.6 L1442.5 431.8 L1443.4 436.1 L1444.2 437.4 L1445.1 440.2 L1446.0 440.5 L1446.9 443.1 L1447.8 438.1 L1448.6 431.4 L1449.5 431.4 L1450.4 432.6 L1451.6 436.7 L1452.4 434.8 L1453.3 432.6 L1454.1 433.5 L1454.9 432.1 L1455.7 432.0 L1456.6 433.8 L1457.4 437.3 L1458.3 438.9 L1459.2 439.3 L1460.0 437.6 L1460.9 438.4 L1461.7 438.9 L1462.5 440.6 L1463.2 439.2 L1464.0 438.7 L1464.8 438.4 L1465.6 440.2 L1466.5 440.0 L1467.4 436.7 L1468.2 437.5 L1468.9 435.9 L1469.7 436.1 L1470.6 433.2 L1471.5 430.2 L1472.3 431.6 L1473.0 432.2 L1473.8 434.3 L1474.7 435.5 L1475.5 434.0 L1476.4 432.1 L1477.3 432.6 L1478.2 430.5 L1479.1 431.6 L1480.0 430.8 L1480.9 430.8 L1481.7 432.4 L1482.4 432.7 L1483.2 432.6 L1484.1 431.2 L1485.0 429.1 L1485.6 422.0 L1486.4 418.8 L1487.3 417.9 L1488.1 417.3 L1488.9 418.5 L1489.7 419.7 L1490.7 417.7 L1491.6 418.6 L1492.6 416.2 L1493.4 416.6 L1494.1 417.4 L1494.9 417.3 L1495.8 416.1 L1496.7 411.5 L1497.6 409.5 L1498.4 409.1 L1499.6 400.9 L1500.8 395.1 L1501.7 396.4 L1502.5 397.4 L1503.4 393.3 L1504.3 391.6 L1506.1 391.6 L1507.2 395.7 L1508.1 397.5 L1509.0 397.4 L1509.9 392.2 L1510.8 390.4 L1511.7 389.7 L1512.5 386.9 L1513.7 379.8 L1514.6 376.3 L1515.4 370.5 L1516.6 378.7 L1517.8 375.2 L1518.7 374.5 L1519.5 371.6 L1520.4 373.1 L1521.3 377.5 L1522.0 381.1 L1522.8 386.3 L1524.2 380.4 L1525.0 383.1 L1525.8 383.0 L1526.6 386.3 L1527.4 384.2 L1528.3 382.2 L1529.2 378.3 L1530.1 374.6 L1531.3 375.2 L1532.2 380.5 L1533.0 382.8 L1533.9 382.2 L1534.8 381.0 L1535.8 383.8 L1536.7 383.5 L1537.7 385.7 L1538.6 384.3 L1539.5 381.0 L1540.4 381.0 L1541.2 383.0 L1542.1 380.5 L1543.0 382.2 L1544.0 383.7 L1544.9 382.0 L1545.9 383.4 L1546.8 388.8 L1547.7 393.9 L1548.5 394.2 L1549.2 393.1 L1550.0 394.5 L1550.8 394.9 L1551.6 392.3 L1552.4 392.2 L1553.2 392.5 L1553.9 392.7 L1554.7 395.1 L1555.5 395.8 L1556.2 397.7 L1557.0 399.2 L1558.2 386.9 L1559.2 387.8 L1560.1 386.8 L1561.1 387.5 L1561.8 388.9 L1562.6 387.6 L1563.3 389.3 L1564.1 390.4 L1564.9 391.8 L1565.6 395.1 L1566.4 395.1 L1567.2 398.6 L1568.0 400.3 L1568.8 402.1 L1569.7 398.7 L1570.5 398.6 L1571.2 398.8 L1572.0 400.5 L1572.8 399.4 L1573.5 400.9 L1574.5 402.5 L1575.4 403.5 L1576.4 405.0 L1577.2 401.0 L1578.1 400.4 L1578.9 402.4 L1579.7 402.1 L1580.6 400.4 L1581.4 402.2 L1582.2 402.1 L1583.0 399.1 L1583.8 397.0 L1584.6 395.1 L1585.5 394.1 L1586.3 392.1 L1587.2 391.0 L1588.1 390.4 L1588.9 390.6 L1589.7 392.2 L1590.5 392.2 L1591.3 389.0 L1592.2 387.5 L1593.0 385.5 L1593.7 386.3 L1594.5 384.5 L1595.3 383.4 L1596.1 384.9 L1596.9 382.8 L1597.9 383.4 L1598.8 384.4 L1599.8 384.0 L1600.6 385.2 L1601.4 388.6 L1602.2 389.2 L1604.5 389.2 L1605.4 391.4 L1606.3 396.3 L1607.4 420.9 L1608.3 417.9 L1609.2 417.3 L1610.1 411.3 L1611.0 408.0 L1611.8 407.8 L1612.5 407.1 L1613.3 405.6 L1614.3 402.9 L1615.2 402.1 L1616.2 400.9 L1617.0 402.8 L1617.7 402.7 L1618.5 401.8 L1619.2 403.9 L1620.0 398.9 L1620.8 397.6 L1621.5 396.9 L1622.3 397.7 L1623.2 392.9 L1624.1 390.7 L1624.9 388.4 L1625.6 385.3 L1626.4 384.8 L1627.3 389.5 L1628.2 391.3 L1629.1 388.1 L1630.0 385.4 L1630.8 387.0 L1631.5 389.0 L1632.3 390.1 L1633.2 389.3 L1634.0 387.7 L1634.9 384.5 L1635.8 383.1 L1636.7 383.3 L1637.5 384.3 L1638.4 383.6 L1639.3 386.0 L1640.1 385.9 L1640.9 387.2 L1641.8 388.4 L1642.6 387.9 L1643.4 387.2 L1644.3 388.6 L1645.2 388.9 L1646.0 388.9 L1646.8 386.6 L1647.7 387.3 L1648.5 387.0 L1649.3 387.2 L1650.2 388.0 L1651.0 386.5 L1651.9 387.7 L1652.8 388.4 L1653.6 385.3 L1654.4 383.1 L1655.2 379.0 L1656.0 378.9 L1656.7 377.0 L1657.5 375.5 L1658.3 374.0 L1659.0 375.7 L1659.8 375.8 L1660.5 374.3 L1661.3 373.3 L1662.0 373.4 L1662.8 373.1 L1663.7 372.3 L1664.5 374.6 L1665.4 376.0 L1666.3 374.8 L1667.1 375.8 L1668.0 375.5 L1669.2 382.5 L1670.0 383.4 L1670.8 381.1 L1671.6 381.9 L1672.4 382.2 L1673.1 380.0 L1673.9 378.4 L1674.7 378.1 L1675.5 378.5 L1676.3 380.7 L1677.1 379.7 L1677.9 380.8 L1678.8 381.1 L1679.6 379.7 L1680.4 380.2 L1681.3 380.6 L1682.2 377.7 L1683.0 377.0 L1683.9 376.1 L1684.8 372.2 L1685.6 370.8 L1686.4 371.7 L1687.2 368.2 L1687.9 370.1 L1688.7 368.2 L1689.5 367.6 L1690.3 366.7 L1691.5 360.8 L1692.5 360.2 L1693.4 358.5 L1694.4 358.5 L1695.3 356.6 L1696.2 352.0 L1697.1 352.5 L1697.9 349.7 L1698.8 350.2 L1699.7 348.5 L1700.5 349.5 L1701.3 348.6 L1702.2 351.7 L1703.0 350.6 L1703.8 352.0 L1704.7 349.8 L1705.5 345.0 L1706.7 339.1 L1707.9 338.0 L1708.8 334.2 L1709.7 332.1 L1710.6 329.5 L1711.4 326.3 L1712.2 322.1 L1713.0 314.6 L1713.8 310.4 L1714.7 312.6 L1715.5 314.5 L1716.4 313.7 L1717.3 315.7 L1718.1 316.8 L1718.8 320.1 L1719.6 323.9 L1720.4 324.0 L1721.2 322.3 L1722.0 319.2 L1722.8 317.0 L1723.5 313.1 L1724.3 311.0 L1725.5 302.8 L1726.3 302.2 L1727.0 301.3 L1727.8 299.3 L1729.2 291.7 L1730.2 298.7 L1731.1 300.6 L1731.9 303.4 L1732.7 302.1 L1733.5 301.3 L1734.3 298.7 L1735.1 293.8 L1735.8 291.1 L1736.6 288.8 L1737.5 289.8 L1738.4 291.1 L1739.2 291.9 L1739.9 294.6 L1740.7 297.0 L1741.5 295.1 L1742.3 291.6 L1743.1 290.5 L1743.9 291.0 L1744.6 290.5 L1745.4 291.7 L1746.2 290.2 L1746.9 287.6 L1747.7 286.4 L1748.9 291.1 L1749.7 294.3 L1750.5 295.0 L1751.3 299.3 L1752.1 297.7 L1752.8 293.8 L1753.6 292.9 L1754.4 293.9 L1755.1 292.0 L1755.9 291.1 L1756.8 292.1 L1757.7 293.4 L1758.6 299.0 L1759.5 305.2 L1760.3 310.6 L1761.2 315.1 L1762.4 317.5 L1763.2 316.6 L1764.1 314.5 L1764.9 317.1 L1765.7 318.9 L1766.5 319.8 L1767.5 316.6 L1768.4 315.2 L1769.4 310.4 L1770.2 314.5 L1770.9 317.5 L1771.7 318.9 L1772.4 322.2 L1773.2 320.2 L1773.9 318.9 L1774.7 316.9 L1775.6 318.9 L1776.5 318.1 L1777.3 318.7 L1778.2 319.2 L1779.1 320.4 L1780.0 323.5 L1780.8 323.0 L1781.7 325.1 L1782.6 319.5 L1783.5 316.9 L1784.3 314.9 L1785.0 312.8 L1785.8 308.7 L1786.5 308.6 L1787.3 307.3 L1788.0 306.9 L1788.8 305.2 L1789.6 303.3 L1790.3 303.1 L1791.1 301.6 L1792.0 299.7 L1792.8 299.5 L1793.7 300.1 L1794.6 299.9 L1795.4 300.3 L1796.2 300.3 L1797.0 301.1 L1797.8 297.5 L1798.7 297.0 L1799.5 299.6 L1800.3 301.0 L1801.1 302.8 L1801.9 301.1 L1802.8 301.1 L1803.7 304.2 L1804.6 308.7 L1806.3 308.7 L1807.2 304.8 L1808.1 301.6 L1808.9 297.5 L1809.8 295.2 L1810.6 292.4 L1811.4 293.9 L1812.2 291.1 L1813.1 289.7 L1814.0 285.2 L1815.0 287.1 L1815.9 289.2 L1816.9 289.3 L1817.7 288.5 L1818.4 289.2 L1819.2 287.6 L1820.0 285.3 L1820.8 285.7 L1821.6 283.5 L1822.4 284.5 L1823.1 286.4 L1823.9 285.8 L1825.1 290.5 L1825.9 289.7 L1826.6 292.7 L1827.4 292.3 L1828.2 291.8 L1829.0 294.0 L1829.8 294.6 L1830.9 298.7 L1831.7 301.0 L1832.5 298.6 L1833.3 301.1 L1834.1 300.4 L1834.8 300.8 L1835.6 301.6 L1836.4 299.8 L1837.2 297.8 L1838.0 298.1 L1838.8 300.8 L1839.5 301.9 L1840.3 302.2 L1841.1 303.6 L1841.9 305.2 L1842.7 307.5 L1843.7 307.6 L1844.6 305.6 L1845.6 306.9 L1846.4 308.4 L1847.1 314.5 L1847.9 316.3 L1848.7 315.0 L1849.4 315.1 L1850.2 316.0 L1850.9 313.9 L1851.7 312.8 L1852.4 308.3 L1853.2 305.7 L1854.0 304.5 L1854.8 304.7 L1855.6 305.2 L1856.4 309.5 L1857.1 312.3 L1857.9 313.9 L1858.9 310.0 L1859.8 309.2 L1860.8 305.2 L1861.7 308.8 L1862.6 313.4 L1863.4 311.3 L1864.3 309.3 L1865.2 309.6 L1866.1 312.2 L1866.9 311.9 L1867.7 310.8 L1868.5 307.5 L1869.3 304.7 L1870.0 304.4 L1870.8 302.2 L1871.6 301.4 L1872.3 303.9 L1873.1 302.8 L1873.9 303.2 L1874.7 305.4 L1875.5 308.7 L1876.3 309.8 L1877.0 308.8 L1877.8 309.8 L1878.5 311.5 L1879.3 311.7 L1880.0 311.4 L1880.8 311.0 L1881.8 310.6 L1882.7 313.3 L1883.7 313.4 L1884.6 319.5 L1885.4 322.7 L1886.6 326.3 L1889.5 326.3 L1890.3 326.5 L1891.1 325.6 L1891.9 327.4 L1892.8 324.4 L1893.6 323.3 L1894.4 323.0 L1895.2 324.8 L1896.0 324.5 L1896.9 329.0 L1897.8 335.6 L1898.7 341.6 L1899.5 349.7 L1900.4 346.5 L1901.3 345.0 L1902.3 346.7 L1903.2 348.3 L1904.2 348.5 L1905.0 346.5 L1905.7 345.9 L1906.5 343.8 L1907.4 347.5 L1908.3 348.5 L1909.1 345.9 L1909.8 341.7 L1910.6 339.7 L1911.4 340.0 L1912.2 343.2 L1913.0 342.7 L1914.0 342.0 L1915.0 340.2 L1915.8 339.0 L1916.5 339.9 L1917.3 339.0 L1918.1 336.8 L1918.9 339.1 L1919.7 336.7 L1920.6 339.7 L1921.4 343.1 L1922.3 343.5 L1923.2 343.7 L1924.1 345.6 L1925.0 347.2 L1926.0 346.7 L1926.9 349.5 L1927.9 350.2 L1928.8 345.1 L1929.6 341.4 L1930.8 346.6 L1931.6 347.1 L1932.4 350.4 L1933.2 350.7 L1934.0 348.7 L1934.7 348.8 L1935.5 349.0 L1936.3 349.1 L1937.1 346.5 L1937.9 346.6 L1938.7 346.6 L1939.4 348.4 L1940.2 349.0 L1941.1 348.1 L1942.0 350.6 L1942.8 351.1 L1943.7 349.6 L1944.5 346.6 L1945.3 346.7 L1946.1 345.5 L1947.1 346.0 L1948.0 344.3 L1949.0 344.3 L1950.2 359.0 L1951.0 359.7 L1951.7 357.4 L1952.5 356.6 L1953.3 356.3 L1954.0 358.4 L1954.8 359.0 L1955.7 358.6 L1956.6 356.7 L1957.5 356.8 L1958.4 355.4 L1959.2 356.0 L1960.0 354.8 L1960.9 354.4 L1961.7 355.2 L1962.5 353.7 L1963.3 355.8 L1964.2 356.6 L1965.1 356.8 L1966.0 358.4 L1966.8 355.9 L1967.7 357.2 L1968.6 357.7 L1969.5 355.2 L1970.4 356.2 L1971.3 355.4 L1972.1 351.2 L1972.8 348.6 L1973.6 345.5 L1974.4 344.9 L1975.1 343.3 L1975.9 340.8 L1976.7 341.3 L1977.4 339.0 L1978.2 339.4 L1978.9 339.0 L1979.9 338.3 L1980.8 339.7 L1981.8 339.6 L1982.7 341.3 L1983.6 343.1 L1984.6 339.2 L1985.5 338.8 L1986.5 336.1 L1987.4 337.6 L1988.2 337.8 L1989.1 339.5 L1990.0 339.0 L1991.0 340.3 L1991.9 342.5 L1992.9 346.1 L1993.7 340.5 L1994.4 338.1 L1995.2 334.0 L1995.9 330.2 L1996.7 329.8 L1997.4 329.1 L1998.2 329.7 L1999.0 330.6 L1999.8 328.0 L2000.7 330.7 L2001.5 329.5 L2002.3 329.1 L2003.3 328.0 L2004.2 327.7 L2005.2 325.5 L2006.0 326.2 L2006.8 327.4 L2007.6 330.2 L2008.6 328.6 L2009.5 326.7 L2010.5 327.3 L2012.9 327.3 L2013.7 328.0 L2014.4 330.4 L2015.2 331.4 L2018.1 331.4 L2018.8 331.2 L2019.6 330.0 L2020.3 330.8 L2021.1 330.2 L2022.1 329.6 L2023.0 332.9 L2024.0 332.6 L2025.0 332.1 L2025.9 332.9 L2026.9 334.3 L2027.9 329.8 L2028.8 328.3 L2029.8 324.4 L2030.7 325.2 L2031.6 324.8 L2032.5 322.0 L2033.4 323.2 L2034.4 324.1 L2035.3 325.1 L2036.3 326.7 L2037.1 325.6 L2037.9 328.1 L2038.8 324.8 L2039.6 326.2 L2040.4 326.1 L2041.3 327.1 L2042.2 328.1 L2043.0 325.3 L2043.9 326.7 L2048.0 326.7 L2048.9 329.5 L2049.8 332.6 L2053.9 332.6 L2054.7 333.8 L2055.5 331.7 L2056.4 332.7 L2057.2 335.3 L2058.0 334.3 L2058.9 332.4 L2059.8 332.5 L2060.6 331.4 L2061.5 331.4 L2062.3 331.3 L2063.0 330.4 L2063.8 332.0 L2064.7 329.8 L2065.6 332.5 L2066.4 331.2 L2067.3 329.7 L2068.1 330.9 L2068.8 329.6 L2069.6 330.1 L2070.3 331.4 L2071.1 330.0 L2071.8 327.4 L2072.6 326.7 L2073.8 319.7 L2074.8 318.8 L2075.7 319.6 L2076.7 317.3 L2077.4 316.3 L2078.2 315.6 L2078.9 317.2 L2079.7 315.0 L2082.6 315.0 L2083.4 315.0 L2084.2 312.7 L2085.1 313.6 L2085.9 314.1 L2086.7 313.2 L2087.6 307.9 L2088.4 305.6 L2089.2 305.9 L2090.0 307.9 L2090.8 308.0 L2091.8 308.8 L2092.7 307.5 L2093.7 306.8 L2097.2 306.8 L2098.1 307.1 L2098.9 304.6 L2099.8 303.4 L2100.7 302.7 L2101.5 305.4 L2102.3 305.4 L2103.1 307.4 L2104.1 309.3 L2105.0 308.4 L2106.0 310.3 L2106.8 308.8 L2107.6 307.3 L2108.4 307.4 L2109.2 307.2 L2109.9 305.5 L2110.7 306.2 L2111.5 302.7 L2112.3 300.2 L2113.1 298.6 L2113.9 297.9 L2114.6 296.7 L2115.4 296.8 L2116.2 296.5 L2116.9 298.1 L2117.7 296.3 L2118.9 286.9 L2119.7 286.3 L2120.5 285.8 L2121.3 283.4 L2122.1 281.0 L2122.8 280.3 L2123.6 279.3 L2124.4 280.2 L2125.1 284.6 L2125.9 286.3 L2126.7 284.1 L2127.5 282.0 L2128.3 281.0 L2129.3 279.6 L2130.2 280.3 L2131.2 281.6 L2132.1 280.2 L2133.0 280.4 L2133.8 282.0 L2134.5 285.8 L2135.3 286.3 L2136.1 286.2 L2136.9 283.9 L2137.7 283.9 L2138.7 285.4 L2139.6 286.7 L2140.6 289.8 L2141.5 289.5 L2142.4 286.3 L2143.2 286.2 L2143.9 288.0 L2144.7 287.5 L2145.7 285.9 L2146.6 284.2 L2147.6 280.4 L2148.3 279.1 L2149.1 280.4 L2149.8 280.9 L2150.6 281.6 L2151.6 280.0 L2152.5 282.5 L2153.5 281.0 L2154.5 281.2 L2155.4 283.5 L2156.4 283.4 L2157.3 284.2 L2158.2 283.3 L2159.0 285.2 L2159.9 286.3 L2160.7 286.0 L2161.5 285.9 L2162.3 288.0 L2163.1 288.2 L2163.8 291.1 L2164.6 292.2 L2165.4 288.8 L2166.2 288.0 L2167.0 286.9 L2167.8 285.3 L2168.5 284.3 L2169.3 282.8 L2170.3 281.8 L2171.2 283.9 L2172.2 283.4 L2173.0 286.1 L2173.8 291.2 L2174.6 293.9 L2175.8 288.0 L2176.8 289.4 L2177.7 288.4 L2178.7 290.4 L2179.7 287.8 L2180.6 286.5 L2181.6 285.7 L2182.4 288.0 L2183.2 288.5 L2184.0 290.4 L2184.8 291.4 L2185.5 294.4 L2186.3 294.5 L2187.3 292.0 L2188.2 290.7 L2189.2 289.8 L2189.9 288.4 L2190.7 287.1 L2191.4 285.6 L2192.2 286.3 L2193.0 284.1 L2193.7 285.5 L2194.5 284.5 L2195.4 286.5 L2196.3 288.0 L2197.1 288.7 L2197.8 288.9 L2198.6 286.9 L2199.4 284.8 L2200.2 284.7 L2201.0 282.8 L2201.9 283.8 L2202.8 280.9 L2203.6 282.1 L2204.5 281.0 L2205.5 282.1 L2206.5 282.1 L2207.2 280.9 L2208.0 276.6 L2208.8 273.8 L2209.5 268.4 L2210.6 266.7 L2211.7 266.9 L2212.4 265.3 L2213.2 262.8 L2213.9 263.1 L2214.7 266.2 L2216.1 263.6 L2216.9 262.9 L2217.6 262.2 L2218.4 262.1 L2219.8 263.6 L2220.8 259.9 L2221.7 259.1 L2222.4 261.0 L2223.2 263.6 L2224.1 263.4 L2225.0 264.3 L2225.9 265.0 L2226.9 265.8 L2227.9 262.9 L2228.8 261.4 L2230.2 265.4 L2231.1 262.4 L2231.9 261.4 L2232.8 259.9 L2233.8 259.4 L2234.7 259.1 L2235.4 258.2 L2236.2 260.2 L2236.9 259.0 L2237.7 260.2 L2238.8 260.5 L2239.9 263.6 L2242.1 263.6 L2245.5 263.6 L2246.4 266.6 L2247.3 270.6 L2248.1 267.9 L2248.8 265.8 L2249.9 268.4 L2250.7 270.0 L2251.4 274.0 L2252.5 271.7 L2253.4 271.4 L2254.3 271.3 L2255.3 270.2 L2256.2 269.5 L2257.0 270.7 L2257.7 268.9 L2258.5 271.0 L2259.4 271.2 L2260.3 272.1 L2261.1 273.7 L2261.8 276.2 L2262.9 272.1 L2263.7 270.2 L2264.4 271.0 L2265.2 269.5 L2265.9 270.6 L2266.6 266.2 L2267.7 265.4 L2268.8 264.7 L2269.6 264.9 L2270.3 264.3 L2271.1 264.3 L2272.2 260.6 L2273.1 259.5 L2273.9 258.8 L2274.8 259.1 L2275.9 256.2 L2277.0 256.5 L2278.1 256.5 L2279.2 257.6 L2279.9 259.7 L2280.7 259.3 L2281.4 259.0 L2282.2 260.6 L2282.9 259.5 L2283.7 257.3 L2284.8 257.1 L2285.9 259.1 L2287.0 260.1 L2288.1 261.4 L2288.8 260.3 L2289.6 258.4 L2290.4 259.7 L2291.3 257.5 L2292.2 258.1 L2293.0 257.6 L2294.1 256.2 L2294.8 255.8 L2295.6 252.4 L2296.5 253.4 L2297.4 253.0 L2298.4 253.1 L2299.3 252.8 L2300.4 252.9 L2301.5 253.6 L2302.6 255.8 L2303.6 254.6 L2304.5 253.9 L2305.4 251.7 L2306.3 251.0 L2307.2 253.8 L2308.2 254.3 L2309.1 255.9 L2310.0 255.0 L2310.8 255.5 L2311.5 258.1 L2312.3 257.6 L2313.3 255.8 L2314.2 255.9 L2315.2 256.9 L2316.1 255.6 L2317.1 254.3 L2318.2 253.4 L2319.3 253.9 L2320.2 254.6 L2321.0 257.8 L2321.9 257.3 L2322.9 253.3 L2323.8 251.7 L2324.7 250.1 L2325.6 250.6 L2326.6 252.1 L2327.5 255.4 L2328.6 257.5 L2329.7 258.4 L2330.4 257.1 L2331.2 257.6 L2331.9 254.6 L2332.7 255.0 L2333.8 256.3 L2334.9 257.3 L2335.7 258.4 L2336.4 260.2 L2337.4 259.5 L2338.3 260.6 L2339.7 265.4 L2340.5 267.1 L2341.2 269.4 L2342.0 270.6 L2342.9 269.3 L2343.8 267.7 L2344.6 267.9 L2345.3 267.4 L2346.1 266.9 L2347.0 267.9 L2347.8 268.2 L2348.7 266.5 L2349.8 267.6 L2350.9 269.9 L2351.8 269.1 L2352.6 270.7 L2353.5 269.1 L2355.7 269.1 L2356.5 267.4 L2357.2 267.6 L2358.0 265.8 L2359.4 266.5 L2360.2 265.9 L2360.9 264.0 L2361.7 265.7 L2362.4 266.2 L2363.2 268.9 L2363.9 268.4 L2364.8 269.7 L2365.7 268.8 L2366.8 273.6 L2367.6 275.4 L2368.3 279.5 L2368.7 286.2 L2369.4 281.0 L2370.4 281.8 L2371.3 281.8 L2372.4 282.5 L2373.5 283.3 L2374.4 284.4 L2375.4 285.1 L2376.3 283.4 L2377.2 282.5 L2377.9 280.3 L2378.7 279.5 L2379.8 283.3 L2380.8 282.2 L2381.7 279.5 L2382.4 277.3" stroke="#111114" stroke-width="1.8" fill="none" stroke-linejoin="round"/>
<rect x="161.5" y="200" width="3.2" height="1112" fill="#f33e32"/>
<rect x="2382.4" y="200" width="3.2" height="1111.8" fill="#111114"/>
<rect x="163" y="1312.3" width="2220" height="1.6" fill="#d6d8df"/>
<g stroke="#d9dae0" stroke-width="1.2">
<line x1="291.9" y1="1314" x2="291.9" y2="1328"/>
<line x1="549.9" y1="1314" x2="549.9" y2="1328"/>
<line x1="807.9" y1="1314" x2="807.9" y2="1328"/>
<line x1="1066.0" y1="1314" x2="1066.0" y2="1328"/>
<line x1="1324.0" y1="1314" x2="1324.0" y2="1328"/>
<line x1="1582.0" y1="1314" x2="1582.0" y2="1328"/>
<line x1="1840.0" y1="1314" x2="1840.0" y2="1328"/>
<line x1="2098.0" y1="1314" x2="2098.0" y2="1328"/>
<line x1="2356.1" y1="1314" x2="2356.1" y2="1328"/>
</g>
<g font-size="26.5" fill="#6c6c74" text-anchor="middle">
<text x="291.9" y="1360.3">2010</text>
<text x="549.9" y="1360.3">2012</text>
<text x="807.9" y="1360.3">2014</text>
<text x="1066.0" y="1360.3">2016</text>
<text x="1324.0" y="1360.3">2018</text>
<text x="1582.0" y="1360.3">2020</text>
<text x="1840.0" y="1360.3">2022</text>
<text x="2098.0" y="1360.3">2024</text>
<text x="2356.1" y="1360.3">2026</text>
</g>
<g font-size="33" fill="#111114" text-anchor="end">
<text x="139.7" y="211.3" textLength="78.1" lengthAdjust="spacingAndGlyphs">200K</text>
<text x="139.7" y="296.1" textLength="71.3" lengthAdjust="spacingAndGlyphs">175K</text>
<text x="139.7" y="380.8" textLength="73.8" lengthAdjust="spacingAndGlyphs">150K</text>
<text x="139.7" y="465.6" textLength="72.2" lengthAdjust="spacingAndGlyphs">125K</text>
<text x="139.7" y="550.3" textLength="73.8" lengthAdjust="spacingAndGlyphs">100K</text>
<text x="139.7" y="635.1" textLength="57.3" lengthAdjust="spacingAndGlyphs">75K</text>
<text x="139.7" y="719.9" textLength="58.9" lengthAdjust="spacingAndGlyphs">50K</text>
<text x="139.7" y="804.6" textLength="58.1" lengthAdjust="spacingAndGlyphs">25K</text>
<text x="139.7" y="974.1" textLength="67.6" lengthAdjust="spacingAndGlyphs">-25K</text>
<text x="139.7" y="1058.9" textLength="67.6" lengthAdjust="spacingAndGlyphs">-50K</text>
<text x="139.7" y="1143.7" textLength="67.6" lengthAdjust="spacingAndGlyphs">-75K</text>
<text x="139.7" y="1228.4" textLength="85.2" lengthAdjust="spacingAndGlyphs">-100K</text>
<text x="139.7" y="1313.2" textLength="84.1" lengthAdjust="spacingAndGlyphs">-125K</text>
</g>
<g font-size="32.5" fill="#111114">
<text x="2409.2" y="271.5" textLength="89.1" lengthAdjust="spacingAndGlyphs">$100K</text>
<text x="2409.2" y="393.3" textLength="72.0" lengthAdjust="spacingAndGlyphs">$10K</text>
<text x="2409.2" y="515.1" textLength="52.4" lengthAdjust="spacingAndGlyphs">$1K</text>
<text x="2409.2" y="636.9" textLength="70.1" lengthAdjust="spacingAndGlyphs">$100</text>
<text x="2409.2" y="758.7" textLength="51.6" lengthAdjust="spacingAndGlyphs">$10</text>
<text x="2409.2" y="880.5" textLength="31.0" lengthAdjust="spacingAndGlyphs">$1</text>
<text x="2409.2" y="1002.3" textLength="55.5" lengthAdjust="spacingAndGlyphs">$0.1</text>
<text x="2409.2" y="1124.1" textLength="74.9" lengthAdjust="spacingAndGlyphs">$0.01</text>
<text x="2409.2" y="1245.9" textLength="93.6" lengthAdjust="spacingAndGlyphs">$0.001</text>
</g>
<path d="M64.5 862.7h94.6v46.7h-94.6a3.5 3.5 0 0 1-3.5-3.5v-39.7a3.5 3.5 0 0 1 3.5-3.5z" fill="#f33e32"/>
<text x="73" y="898.8" font-size="33" fill="#ffffff" textLength="78" lengthAdjust="spacingAndGlyphs">-3.2K</text>
<path d="M2388 253h157.5a3.5 3.5 0 0 1 3.5 3.5v39.7a3.5 3.5 0 0 1-3.5 3.5h-157.5z" fill="#111114"/>
<text x="2398.5" y="290" font-size="32.5" fill="#ffffff" textLength="137" lengthAdjust="spacingAndGlyphs">$70.459K</text>
<text x="694.6" y="91.2" font-size="52" font-weight="bold" fill="#131316" textLength="1171.5" lengthAdjust="spacingAndGlyphs">Bitcoin: Exchange Netflow (Total) - All Exchanges</text>
<rect x="974.4" y="146.2" width="31.8" height="1.8" fill="#111114"/>
<text x="1014" y="155.2" font-size="32" fill="#111114" textLength="142.5" lengthAdjust="spacingAndGlyphs">Price USD</text>
<circle cx="1209.6" cy="140.8" r="16" fill="#13975e"/>
<text x="1234" y="155" font-size="31.5" fill="#111114" textLength="350" lengthAdjust="spacingAndGlyphs">Exchange Netflow (Total)</text>
<text x="2176.4" y="1404" font-size="23.5" fill="#76767c" textLength="319.6" lengthAdjust="spacingAndGlyphs">© CryptoQuant. All rights reserved</text>
</svg></body></html>
